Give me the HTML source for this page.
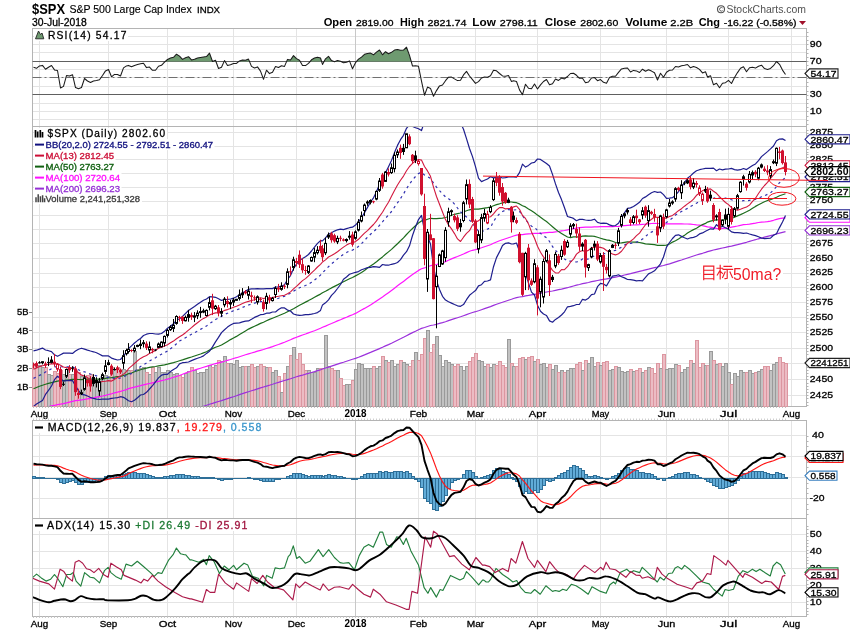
<!DOCTYPE html>
<html><head><meta charset="utf-8"><title>$SPX StockCharts</title>
<style>html,body{margin:0;padding:0;background:#fff;width:850px;height:633px;overflow:hidden;font-family:"Liberation Sans",sans-serif}svg{display:block;will-change:transform}</style>
</head><body><svg width="850" height="633" viewBox="0 0 850 633" shape-rendering="auto"><text x="32" y="13.6" font-family='"Liberation Sans", sans-serif' font-size="14.8" font-weight="bold" textLength="33" lengthAdjust="spacingAndGlyphs">$SPX</text>
<text x="69.4" y="13.1" font-family='"Liberation Sans", sans-serif' font-size="10.6" stroke="#000" stroke-width="0.15" textLength="122.3" lengthAdjust="spacingAndGlyphs">S&amp;P 500 Large Cap Index</text>
<text x="197" y="13.1" font-family='"Liberation Sans", sans-serif' font-size="9.6" stroke="#000" stroke-width="0.3" textLength="23" lengthAdjust="spacingAndGlyphs">INDX</text>
<text x="32" y="25.7" font-family='"Liberation Sans", sans-serif' font-size="10.2" stroke="#000" stroke-width="0.3" textLength="54.7" lengthAdjust="spacingAndGlyphs">30-Jul-2018</text>
<text x="323.7" y="25.8" font-family='"Liberation Sans", sans-serif' font-size="10.3" font-weight="bold" textLength="28.5" lengthAdjust="spacingAndGlyphs">Open</text>
<text x="356" y="25.8" font-family='"Liberation Sans", sans-serif' font-size="9.4" stroke="#000" stroke-width="0.3" textLength="37.5" lengthAdjust="spacingAndGlyphs">2819.00</text>
<text x="400" y="25.8" font-family='"Liberation Sans", sans-serif' font-size="10.3" font-weight="bold" textLength="24" lengthAdjust="spacingAndGlyphs">High</text>
<text x="427.6" y="25.8" font-family='"Liberation Sans", sans-serif' font-size="9.4" stroke="#000" stroke-width="0.3" textLength="39" lengthAdjust="spacingAndGlyphs">2821.74</text>
<text x="472.3" y="25.8" font-family='"Liberation Sans", sans-serif' font-size="10.3" font-weight="bold" textLength="23.5" lengthAdjust="spacingAndGlyphs">Low</text>
<text x="499.8" y="25.8" font-family='"Liberation Sans", sans-serif' font-size="9.4" stroke="#000" stroke-width="0.3" textLength="38" lengthAdjust="spacingAndGlyphs">2798.11</text>
<text x="544.8" y="25.8" font-family='"Liberation Sans", sans-serif' font-size="10.3" font-weight="bold" textLength="31.5" lengthAdjust="spacingAndGlyphs">Close</text>
<text x="580.3" y="25.8" font-family='"Liberation Sans", sans-serif' font-size="9.4" stroke="#000" stroke-width="0.3" textLength="38" lengthAdjust="spacingAndGlyphs">2802.60</text>
<text x="625.3" y="25.8" font-family='"Liberation Sans", sans-serif' font-size="10.3" font-weight="bold" textLength="42" lengthAdjust="spacingAndGlyphs">Volume</text>
<text x="670.2" y="25.8" font-family='"Liberation Sans", sans-serif' font-size="9.4" stroke="#000" stroke-width="0.3" textLength="23" lengthAdjust="spacingAndGlyphs">2.2B</text>
<text x="698.7" y="25.8" font-family='"Liberation Sans", sans-serif' font-size="10.3" font-weight="bold" textLength="21.3" lengthAdjust="spacingAndGlyphs">Chg</text>
<text x="723.7" y="25.8" font-family='"Liberation Sans", sans-serif' font-size="9.4" stroke="#000" stroke-width="0.3" textLength="72.8" lengthAdjust="spacingAndGlyphs">-16.22 (-0.58%)</text>
<path d="M799,21 L806,21 L802.5,25 Z" fill="#a0102a"/>
<text x="726.5" y="12.8" font-family='"Liberation Sans", sans-serif' font-size="10.5" fill="#505050" textLength="79.5" lengthAdjust="spacingAndGlyphs">StockCharts.com</text>
<circle cx="721" cy="9.3" r="3.5" fill="none" stroke="#505050" stroke-width="1.1"/>
<path d="M722.6,8 A1.8,1.8 0 1 0 722.6,10.6" fill="none" stroke="#505050" stroke-width="0.9"/>
<line x1="32.5" y1="36.5" x2="806.5" y2="36.5" stroke="#e4e4e4"/>
<line x1="32.5" y1="44.5" x2="806.5" y2="44.5" stroke="#e4e4e4"/>
<line x1="32.5" y1="52.5" x2="806.5" y2="52.5" stroke="#e4e4e4"/>
<line x1="32.5" y1="61.5" x2="806.5" y2="61.5" stroke="#e4e4e4"/>
<line x1="32.5" y1="69.5" x2="806.5" y2="69.5" stroke="#e4e4e4"/>
<line x1="32.5" y1="77.5" x2="806.5" y2="77.5" stroke="#e4e4e4"/>
<line x1="32.5" y1="86.5" x2="806.5" y2="86.5" stroke="#e4e4e4"/>
<line x1="32.5" y1="94.5" x2="806.5" y2="94.5" stroke="#e4e4e4"/>
<line x1="32.5" y1="103.5" x2="806.5" y2="103.5" stroke="#e4e4e4"/>
<line x1="32.5" y1="111.5" x2="806.5" y2="111.5" stroke="#e4e4e4"/>
<line x1="32.5" y1="119.5" x2="806.5" y2="119.5" stroke="#e4e4e4"/>
<line x1="39.5" y1="28.5" x2="39.5" y2="126.5" stroke="#e4e4e4"/>
<line x1="108.5" y1="28.5" x2="108.5" y2="126.5" stroke="#e4e4e4"/>
<line x1="167.5" y1="28.5" x2="167.5" y2="126.5" stroke="#e4e4e4"/>
<line x1="233.5" y1="28.5" x2="233.5" y2="126.5" stroke="#e4e4e4"/>
<line x1="296.5" y1="28.5" x2="296.5" y2="126.5" stroke="#e4e4e4"/>
<line x1="355.5" y1="28.5" x2="355.5" y2="126.5" stroke="#c8c8c8"/>
<line x1="418.5" y1="28.5" x2="418.5" y2="126.5" stroke="#e4e4e4"/>
<line x1="475.5" y1="28.5" x2="475.5" y2="126.5" stroke="#e4e4e4"/>
<line x1="537.5" y1="28.5" x2="537.5" y2="126.5" stroke="#e4e4e4"/>
<line x1="600.5" y1="28.5" x2="600.5" y2="126.5" stroke="#e4e4e4"/>
<line x1="666.5" y1="28.5" x2="666.5" y2="126.5" stroke="#e4e4e4"/>
<line x1="728.5" y1="28.5" x2="728.5" y2="126.5" stroke="#e4e4e4"/>
<line x1="791.5" y1="28.5" x2="791.5" y2="126.5" stroke="#e4e4e4"/>
<rect x="32.5" y="28.5" width="774.0" height="98.0" fill="none" stroke="#b4b4b4"/>
<path d="M806,32.5 h2.5 M806,36.5 h2.5 M806,40.5 h2.5 M806,44.5 h2.5 M806,49.5 h2.5 M806,53.5 h2.5 M806,57.5 h2.5 M806,61.5 h2.5 M806,65.5 h2.5 M806,70.5 h2.5 M806,74.5 h2.5 M806,78.5 h2.5 M806,82.5 h2.5 M806,86.5 h2.5 M806,91.5 h2.5 M806,95.5 h2.5 M806,99.5 h2.5 M806,103.5 h2.5 M806,107.5 h2.5 M806,111.5 h2.5 M806,116.5 h2.5 M806,120.5 h2.5 M806,124.5 h2.5 " stroke="#b4b4b4"/>
<line x1="32.5" y1="61.5" x2="806.5" y2="61.5" stroke="#606060"/>
<line x1="32.5" y1="94.5" x2="806.5" y2="94.5" stroke="#606060"/>
<line x1="32.5" y1="77.5" x2="806.5" y2="77.5" stroke="#707070" stroke-dasharray="9,3,2,3"/>
<path d="M165.3,61.5 L167.5,59.5 L170.5,58.1 L173.5,57.3 L176.5,54.2 L179.5,56.1 L182.5,59.4 L185.5,57.8 L188.5,56.7 L191.5,59.9 L194.5,59.2 L197.5,57.9 L200.5,57.4 L203.5,56.9 L206.5,56.6 L209.5,53.1 L212.5,61.5 L215.5,60.2 L216,61.5 Z" fill="#6e9a70"/>
<path d="M224.1,61.5 L224.5,60.6 L225,61.5 Z" fill="#6e9a70"/>
<path d="M238.7,61.5 L239.5,60.9 L242.5,59.9 L245.5,60.3 L248.5,59.1 L249.5,61.5 Z" fill="#6e9a70"/>
<path d="M286.6,61.5 L287.5,59.4 L290.5,60 L293.5,55.6 L296.5,58.6 L299.5,60.2 L300.3,61.5 Z" fill="#6e9a70"/>
<path d="M310.1,61.5 L311.5,59.8 L314.5,58 L317.5,57.2 L320.5,58 L321.6,61.5 Z" fill="#6e9a70"/>
<path d="M324,61.5 L325.5,58.8 L328.5,56.3 L331.5,60.6 L333.9,61.5 Z" fill="#6e9a70"/>
<path d="M335,61.5 L337.5,60.5 L340.5,61.2 L341.1,61.5 Z" fill="#6e9a70"/>
<path d="M348.1,61.5 L349.5,60.9 L349.7,61.5 Z" fill="#6e9a70"/>
<path d="M356.5,61.5 L358.5,59.1 L361.5,57.1 L364.5,54.3 L367.5,53.6 L370.5,53.1 L373.5,54.8 L376.5,52.1 L379.5,50 L382.5,54.8 L385.5,51.7 L388.5,53.8 L391.5,52.3 L394.5,50.1 L397.5,49.6 L400.5,50.3 L403.5,50.1 L406.5,47.2 L409.5,55.4 L411.2,61.5 Z" fill="#6e9a70"/>
<path d="M776.5,61.5 L776.5,61.5 L776.5,61.5 Z" fill="#6e9a70"/>
<path d="M33.5,67.2 L36.5,68.3 L39.5,65.9 L42.5,65.4 L45.5,69.3 L48.5,67.2 L51.5,65.5 L54.5,69.9 L57.5,70.5 L60.5,88 L63.5,86.4 L66.5,75.6 L69.5,76.1 L72.5,74.7 L75.5,87.6 L78.5,88.7 L81.5,87.5 L84.5,78.5 L87.5,81 L90.5,82.5 L93.5,81 L96.5,80.6 L99.5,79.8 L102.5,75.5 L105.5,70.9 L108.5,69.5 L111.5,76.8 L114.5,74.4 L117.5,74.5 L120.5,76 L123.5,67.9 L126.5,65.9 L128.5,65.4 L131.5,66.7 L134.5,65.4 L137.5,64.5 L140.5,63.7 L143.5,63.3 L146.5,67.6 L149.5,67.1 L152.5,70.3 L155.5,70.2 L158.5,66.3 L161.5,65.3 L164.5,62.2 L167.5,59.5 L170.5,58.1 L173.5,57.3 L176.5,54.2 L179.5,56.1 L182.5,59.4 L185.5,57.8 L188.5,56.7 L191.5,59.9 L194.5,59.2 L197.5,57.9 L200.5,57.4 L203.5,56.9 L206.5,56.6 L209.5,53.1 L212.5,61.5 L215.5,60.2 L218.5,68.5 L221.5,67.2 L224.5,60.6 L227.5,65.5 L230.5,64.8 L233.5,63.5 L236.5,63.4 L239.5,60.9 L242.5,59.9 L245.5,60.3 L248.5,59.1 L251.5,66.4 L254.5,68 L257.5,66.9 L260.5,71.1 L263.5,79.3 L266.5,70.2 L269.5,73.6 L272.5,72.3 L275.5,66.5 L278.5,67.5 L281.5,65.8 L284.5,66.4 L287.5,59.4 L290.5,60 L293.5,55.6 L296.5,58.6 L299.5,60.2 L302.5,65.4 L305.5,65.6 L308.5,63.4 L311.5,59.8 L314.5,58 L317.5,57.2 L320.5,58 L322.5,64.4 L325.5,58.8 L328.5,56.3 L331.5,60.6 L334.5,61.7 L337.5,60.5 L340.5,61.2 L343.5,62.8 L346.5,62.2 L349.5,60.9 L352.5,68.8 L355.5,62.7 L358.5,59.1 L361.5,57.1 L364.5,54.3 L367.5,53.6 L370.5,53.1 L373.5,54.8 L376.5,52.1 L379.5,50 L382.5,54.8 L385.5,51.7 L388.5,53.8 L391.5,52.3 L394.5,50.1 L397.5,49.6 L400.5,50.3 L403.5,50.1 L406.5,47.2 L409.5,55.4 L412.5,66 L415.5,65.7 L418.5,66.3 L421.5,81.2 L424.5,95.2 L427.5,87.1 L430.5,88.4 L433.5,96.3 L436.5,90.6 L439.5,85.9 L442.5,85 L445.5,80.7 L448.5,77.2 L451.5,77.1 L454.5,78.9 L457.5,80.6 L460.5,80.3 L463.5,74.9 L466.5,71.4 L469.5,76 L472.5,79.6 L475.5,83.4 L478.5,81.6 L481.5,78 L484.5,77.1 L487.5,77.3 L490.5,75.7 L493.5,70.2 L496.5,70.8 L499.5,73.5 L502.5,75.9 L505.5,76.2 L508.5,75.5 L511.5,81.4 L513.5,80.8 L516.5,81.5 L519.5,89.9 L522.5,94.7 L525.5,84.2 L528.5,88.2 L531.5,88.8 L534.5,84 L537.5,89 L540.5,84.9 L543.5,81.5 L546.5,79.5 L549.5,84.8 L552.5,83.8 L555.5,79 L558.5,80.4 L561.5,78.1 L564.5,78.9 L567.5,76.5 L570.5,73.5 L573.5,73.2 L576.5,75.3 L579.5,78.3 L582.5,78.3 L585.5,82.7 L588.5,82 L591.5,78 L594.5,77.6 L597.5,80.7 L600.5,79.6 L603.5,82.3 L606.5,83.2 L609.5,77.6 L612.5,76.2 L615.5,76.3 L618.5,72.4 L621.5,68.9 L624.5,68.3 L627.5,68 L630.5,72 L633.5,70.4 L636.5,70.9 L639.5,72.5 L642.5,69.2 L645.5,71.2 L648.5,69.7 L651.5,71.1 L654.5,72.8 L657.5,80 L660.5,73.3 L663.5,77.2 L666.5,72.2 L669.5,70.3 L672.5,70 L675.5,66.5 L678.5,67 L681.5,65.7 L684.5,65.2 L687.5,64.5 L690.5,67.8 L693.5,66.6 L696.5,67.5 L699.5,69.4 L702.5,72.9 L705.5,71.8 L707.5,77 L710.5,75.7 L713.5,84.8 L716.5,83.2 L719.5,87.8 L722.5,83.2 L725.5,82.7 L728.5,80.4 L731.5,83.5 L734.5,77.5 L737.5,72.6 L740.5,68.3 L743.5,66.7 L746.5,71.8 L749.5,67.8 L752.5,67.3 L755.5,68.1 L758.5,66.2 L761.5,65.2 L764.5,68.6 L767.5,69.4 L770.5,68.4 L773.5,65.7 L776.5,61.5 L779.5,64.3 L782.5,70.1 L785.5,74.5" fill="none" stroke="#1a1a1a" stroke-width="1.05" stroke-linejoin="round"/>
<rect x="34" y="29" width="94" height="12" fill="#fff"/>
<path d="M35.5,38.8 L38.5,31 L40.5,34.5 L42,33 L43.8,38.8 Z" fill="#6e9a70" stroke="#222" stroke-width="0.9"/>
<text x='47.9' y='38.6' font-family='"Liberation Sans", sans-serif' font-size='10.3' stroke='#000' stroke-width='0.3' textLength='78.5' lengthAdjust='spacing'>RSI(14) 54.17</text>
<text x="809.8" y="46.9" font-family='"Liberation Sans", sans-serif' font-size="8.9" stroke="#000" stroke-width="0.3" textLength="11.8" lengthAdjust="spacingAndGlyphs">90</text>
<text x="809.8" y="63.6" font-family='"Liberation Sans", sans-serif' font-size="8.9" stroke="#000" stroke-width="0.3" textLength="11.8" lengthAdjust="spacingAndGlyphs">70</text>
<text x="809.8" y="97.1" font-family='"Liberation Sans", sans-serif' font-size="8.9" stroke="#000" stroke-width="0.3" textLength="11.8" lengthAdjust="spacingAndGlyphs">30</text>
<text x="809.8" y="113.8" font-family='"Liberation Sans", sans-serif' font-size="8.9" stroke="#000" stroke-width="0.3" textLength="11.8" lengthAdjust="spacingAndGlyphs">10</text>
<path d="M805,73.5 L809.5,68.9 L838,68.9 L838,78.1 L809.5,78.1 Z" fill="#fff" stroke="#222" stroke-width="1.1"/>
<text x="810.5" y="76.8" font-family='"Liberation Sans", sans-serif' font-size="8.9" stroke="#000" stroke-width="0.3" textLength="26" lengthAdjust="spacingAndGlyphs">54.17</text>
<line x1="32.5" y1="132.5" x2="806.5" y2="132.5" stroke="#e4e4e4"/>
<line x1="32.5" y1="146.5" x2="806.5" y2="146.5" stroke="#e4e4e4"/>
<line x1="32.5" y1="159.5" x2="806.5" y2="159.5" stroke="#e4e4e4"/>
<line x1="32.5" y1="173.5" x2="806.5" y2="173.5" stroke="#e4e4e4"/>
<line x1="32.5" y1="187.5" x2="806.5" y2="187.5" stroke="#e4e4e4"/>
<line x1="32.5" y1="201.5" x2="806.5" y2="201.5" stroke="#e4e4e4"/>
<line x1="32.5" y1="215.5" x2="806.5" y2="215.5" stroke="#e4e4e4"/>
<line x1="32.5" y1="229.5" x2="806.5" y2="229.5" stroke="#e4e4e4"/>
<line x1="32.5" y1="243.5" x2="806.5" y2="243.5" stroke="#e4e4e4"/>
<line x1="32.5" y1="258.5" x2="806.5" y2="258.5" stroke="#e4e4e4"/>
<line x1="32.5" y1="273.5" x2="806.5" y2="273.5" stroke="#e4e4e4"/>
<line x1="32.5" y1="287.5" x2="806.5" y2="287.5" stroke="#e4e4e4"/>
<line x1="32.5" y1="302.5" x2="806.5" y2="302.5" stroke="#e4e4e4"/>
<line x1="32.5" y1="317.5" x2="806.5" y2="317.5" stroke="#e4e4e4"/>
<line x1="32.5" y1="332.5" x2="806.5" y2="332.5" stroke="#e4e4e4"/>
<line x1="32.5" y1="348.5" x2="806.5" y2="348.5" stroke="#e4e4e4"/>
<line x1="32.5" y1="363.5" x2="806.5" y2="363.5" stroke="#e4e4e4"/>
<line x1="32.5" y1="379.5" x2="806.5" y2="379.5" stroke="#e4e4e4"/>
<line x1="32.5" y1="395.5" x2="806.5" y2="395.5" stroke="#e4e4e4"/>
<line x1="39.5" y1="126.5" x2="39.5" y2="406.5" stroke="#e4e4e4"/>
<line x1="108.5" y1="126.5" x2="108.5" y2="406.5" stroke="#e4e4e4"/>
<line x1="167.5" y1="126.5" x2="167.5" y2="406.5" stroke="#e4e4e4"/>
<line x1="233.5" y1="126.5" x2="233.5" y2="406.5" stroke="#e4e4e4"/>
<line x1="296.5" y1="126.5" x2="296.5" y2="406.5" stroke="#e4e4e4"/>
<line x1="355.5" y1="126.5" x2="355.5" y2="406.5" stroke="#c8c8c8"/>
<line x1="418.5" y1="126.5" x2="418.5" y2="406.5" stroke="#e4e4e4"/>
<line x1="475.5" y1="126.5" x2="475.5" y2="406.5" stroke="#e4e4e4"/>
<line x1="537.5" y1="126.5" x2="537.5" y2="406.5" stroke="#e4e4e4"/>
<line x1="600.5" y1="126.5" x2="600.5" y2="406.5" stroke="#e4e4e4"/>
<line x1="666.5" y1="126.5" x2="666.5" y2="406.5" stroke="#e4e4e4"/>
<line x1="728.5" y1="126.5" x2="728.5" y2="406.5" stroke="#e4e4e4"/>
<line x1="791.5" y1="126.5" x2="791.5" y2="406.5" stroke="#e4e4e4"/>
<rect x="32.5" y="126.5" width="774.0" height="280.0" fill="none" stroke="#b4b4b4"/>
<path d="M806,130.5 h2.5 M806,133.5 h2.5 M806,135.5 h2.5 M806,138.5 h2.5 M806,141.5 h2.5 M806,143.5 h2.5 M806,146.5 h2.5 M806,149.5 h2.5 M806,152.5 h2.5 M806,154.5 h2.5 M806,157.5 h2.5 M806,160.5 h2.5 M806,162.5 h2.5 M806,165.5 h2.5 M806,168.5 h2.5 M806,171.5 h2.5 M806,173.5 h2.5 M806,176.5 h2.5 M806,179.5 h2.5 M806,182.5 h2.5 M806,184.5 h2.5 M806,187.5 h2.5 M806,190.5 h2.5 M806,193.5 h2.5 M806,196.5 h2.5 M806,198.5 h2.5 M806,201.5 h2.5 M806,204.5 h2.5 M806,207.5 h2.5 M806,210.5 h2.5 M806,213.5 h2.5 M806,215.5 h2.5 M806,218.5 h2.5 M806,221.5 h2.5 M806,224.5 h2.5 M806,227.5 h2.5 M806,230.5 h2.5 M806,232.5 h2.5 M806,235.5 h2.5 M806,238.5 h2.5 M806,241.5 h2.5 M806,244.5 h2.5 M806,247.5 h2.5 M806,250.5 h2.5 M806,253.5 h2.5 M806,255.5 h2.5 M806,258.5 h2.5 M806,261.5 h2.5 M806,264.5 h2.5 M806,267.5 h2.5 M806,270.5 h2.5 M806,273.5 h2.5 M806,276.5 h2.5 M806,279.5 h2.5 M806,282.5 h2.5 M806,285.5 h2.5 M806,288.5 h2.5 M806,291.5 h2.5 M806,294.5 h2.5 M806,297.5 h2.5 M806,300.5 h2.5 M806,303.5 h2.5 M806,306.5 h2.5 M806,309.5 h2.5 M806,312.5 h2.5 M806,315.5 h2.5 M806,318.5 h2.5 M806,321.5 h2.5 M806,324.5 h2.5 M806,327.5 h2.5 M806,330.5 h2.5 M806,333.5 h2.5 M806,336.5 h2.5 M806,339.5 h2.5 M806,342.5 h2.5 M806,345.5 h2.5 M806,348.5 h2.5 M806,351.5 h2.5 M806,354.5 h2.5 M806,358.5 h2.5 M806,361.5 h2.5 M806,364.5 h2.5 M806,367.5 h2.5 M806,370.5 h2.5 M806,373.5 h2.5 M806,376.5 h2.5 M806,379.5 h2.5 M806,383.5 h2.5 M806,386.5 h2.5 M806,389.5 h2.5 M806,392.5 h2.5 M806,395.5 h2.5 M806,398.5 h2.5 M806,402.5 h2.5 M806,405.5 h2.5 " stroke="#b4b4b4"/>
<rect x="32.5" y="365.5" width="3" height="41" fill="#ecbcc4" stroke="#dc96a0"/>
<rect x="35.5" y="367.5" width="3" height="39" fill="#ecbcc4" stroke="#dc96a0"/>
<rect x="38.5" y="365.5" width="3" height="41" fill="#c2c2c2" stroke="#9a9a9a"/>
<rect x="41.5" y="367.5" width="3" height="39" fill="#c2c2c2" stroke="#9a9a9a"/>
<rect x="44.5" y="367.5" width="3" height="39" fill="#ecbcc4" stroke="#dc96a0"/>
<rect x="47.5" y="374.5" width="3" height="32" fill="#c2c2c2" stroke="#9a9a9a"/>
<rect x="50.5" y="375.5" width="3" height="31" fill="#c2c2c2" stroke="#9a9a9a"/>
<rect x="53.5" y="371.5" width="3" height="35" fill="#ecbcc4" stroke="#dc96a0"/>
<rect x="56.5" y="373.5" width="3" height="33" fill="#ecbcc4" stroke="#dc96a0"/>
<rect x="59.5" y="370.5" width="3" height="36" fill="#ecbcc4" stroke="#dc96a0"/>
<rect x="62.5" y="374.5" width="3" height="32" fill="#c2c2c2" stroke="#9a9a9a"/>
<rect x="65.5" y="370.5" width="3" height="36" fill="#c2c2c2" stroke="#9a9a9a"/>
<rect x="68.5" y="374.5" width="3" height="32" fill="#ecbcc4" stroke="#dc96a0"/>
<rect x="71.5" y="374.5" width="3" height="32" fill="#c2c2c2" stroke="#9a9a9a"/>
<rect x="74.5" y="370.5" width="3" height="36" fill="#ecbcc4" stroke="#dc96a0"/>
<rect x="77.5" y="372.5" width="3" height="34" fill="#ecbcc4" stroke="#dc96a0"/>
<rect x="80.5" y="376.5" width="3" height="30" fill="#c2c2c2" stroke="#9a9a9a"/>
<rect x="83.5" y="376.5" width="3" height="30" fill="#c2c2c2" stroke="#9a9a9a"/>
<rect x="86.5" y="375.5" width="3" height="31" fill="#ecbcc4" stroke="#dc96a0"/>
<rect x="89.5" y="374.5" width="3" height="32" fill="#ecbcc4" stroke="#dc96a0"/>
<rect x="92.5" y="380.5" width="3" height="26" fill="#c2c2c2" stroke="#9a9a9a"/>
<rect x="95.5" y="380.5" width="3" height="26" fill="#c2c2c2" stroke="#9a9a9a"/>
<rect x="98.5" y="379.5" width="3" height="27" fill="#c2c2c2" stroke="#9a9a9a"/>
<rect x="101.5" y="378.5" width="3" height="28" fill="#c2c2c2" stroke="#9a9a9a"/>
<rect x="104.5" y="375.5" width="3" height="31" fill="#c2c2c2" stroke="#9a9a9a"/>
<rect x="107.5" y="376.5" width="3" height="30" fill="#c2c2c2" stroke="#9a9a9a"/>
<rect x="110.5" y="367.5" width="3" height="39" fill="#ecbcc4" stroke="#dc96a0"/>
<rect x="113.5" y="370.5" width="3" height="36" fill="#c2c2c2" stroke="#9a9a9a"/>
<rect x="116.5" y="367.5" width="3" height="39" fill="#ecbcc4" stroke="#dc96a0"/>
<rect x="119.5" y="369.5" width="3" height="37" fill="#ecbcc4" stroke="#dc96a0"/>
<rect x="122.5" y="369.5" width="3" height="37" fill="#c2c2c2" stroke="#9a9a9a"/>
<rect x="125.5" y="370.5" width="3" height="36" fill="#c2c2c2" stroke="#9a9a9a"/>
<rect x="127.5" y="370.5" width="3" height="36" fill="#c2c2c2" stroke="#9a9a9a"/>
<rect x="130.5" y="370.5" width="3" height="36" fill="#ecbcc4" stroke="#dc96a0"/>
<rect x="133.5" y="351.5" width="3" height="55" fill="#c2c2c2" stroke="#9a9a9a"/>
<rect x="136.5" y="369.5" width="3" height="37" fill="#c2c2c2" stroke="#9a9a9a"/>
<rect x="139.5" y="368.5" width="3" height="38" fill="#c2c2c2" stroke="#9a9a9a"/>
<rect x="142.5" y="367.5" width="3" height="39" fill="#c2c2c2" stroke="#9a9a9a"/>
<rect x="145.5" y="372.5" width="3" height="34" fill="#ecbcc4" stroke="#dc96a0"/>
<rect x="148.5" y="374.5" width="3" height="32" fill="#c2c2c2" stroke="#9a9a9a"/>
<rect x="151.5" y="367.5" width="3" height="39" fill="#ecbcc4" stroke="#dc96a0"/>
<rect x="154.5" y="372.5" width="3" height="34" fill="#c2c2c2" stroke="#9a9a9a"/>
<rect x="157.5" y="367.5" width="3" height="39" fill="#c2c2c2" stroke="#9a9a9a"/>
<rect x="160.5" y="372.5" width="3" height="34" fill="#c2c2c2" stroke="#9a9a9a"/>
<rect x="163.5" y="372.5" width="3" height="34" fill="#c2c2c2" stroke="#9a9a9a"/>
<rect x="166.5" y="370.5" width="3" height="36" fill="#c2c2c2" stroke="#9a9a9a"/>
<rect x="169.5" y="372.5" width="3" height="34" fill="#c2c2c2" stroke="#9a9a9a"/>
<rect x="172.5" y="374.5" width="3" height="32" fill="#c2c2c2" stroke="#9a9a9a"/>
<rect x="175.5" y="373.5" width="3" height="33" fill="#c2c2c2" stroke="#9a9a9a"/>
<rect x="178.5" y="375.5" width="3" height="31" fill="#ecbcc4" stroke="#dc96a0"/>
<rect x="181.5" y="377.5" width="3" height="29" fill="#ecbcc4" stroke="#dc96a0"/>
<rect x="184.5" y="373.5" width="3" height="33" fill="#c2c2c2" stroke="#9a9a9a"/>
<rect x="187.5" y="371.5" width="3" height="35" fill="#c2c2c2" stroke="#9a9a9a"/>
<rect x="190.5" y="367.5" width="3" height="39" fill="#ecbcc4" stroke="#dc96a0"/>
<rect x="193.5" y="370.5" width="3" height="36" fill="#c2c2c2" stroke="#9a9a9a"/>
<rect x="196.5" y="373.5" width="3" height="33" fill="#c2c2c2" stroke="#9a9a9a"/>
<rect x="199.5" y="372.5" width="3" height="34" fill="#c2c2c2" stroke="#9a9a9a"/>
<rect x="202.5" y="372.5" width="3" height="34" fill="#c2c2c2" stroke="#9a9a9a"/>
<rect x="205.5" y="369.5" width="3" height="37" fill="#c2c2c2" stroke="#9a9a9a"/>
<rect x="208.5" y="365.5" width="3" height="41" fill="#c2c2c2" stroke="#9a9a9a"/>
<rect x="211.5" y="367.5" width="3" height="39" fill="#ecbcc4" stroke="#dc96a0"/>
<rect x="214.5" y="365.5" width="3" height="41" fill="#c2c2c2" stroke="#9a9a9a"/>
<rect x="217.5" y="360.5" width="3" height="46" fill="#ecbcc4" stroke="#dc96a0"/>
<rect x="220.5" y="361.5" width="3" height="45" fill="#c2c2c2" stroke="#9a9a9a"/>
<rect x="223.5" y="356.5" width="3" height="50" fill="#c2c2c2" stroke="#9a9a9a"/>
<rect x="226.5" y="363.5" width="3" height="43" fill="#ecbcc4" stroke="#dc96a0"/>
<rect x="229.5" y="363.5" width="3" height="43" fill="#c2c2c2" stroke="#9a9a9a"/>
<rect x="232.5" y="364.5" width="3" height="42" fill="#c2c2c2" stroke="#9a9a9a"/>
<rect x="235.5" y="360.5" width="3" height="46" fill="#c2c2c2" stroke="#9a9a9a"/>
<rect x="238.5" y="367.5" width="3" height="39" fill="#c2c2c2" stroke="#9a9a9a"/>
<rect x="241.5" y="366.5" width="3" height="40" fill="#c2c2c2" stroke="#9a9a9a"/>
<rect x="244.5" y="366.5" width="3" height="40" fill="#ecbcc4" stroke="#dc96a0"/>
<rect x="247.5" y="366.5" width="3" height="40" fill="#c2c2c2" stroke="#9a9a9a"/>
<rect x="250.5" y="364.5" width="3" height="42" fill="#ecbcc4" stroke="#dc96a0"/>
<rect x="253.5" y="367.5" width="3" height="39" fill="#ecbcc4" stroke="#dc96a0"/>
<rect x="256.5" y="366.5" width="3" height="40" fill="#c2c2c2" stroke="#9a9a9a"/>
<rect x="259.5" y="364.5" width="3" height="42" fill="#ecbcc4" stroke="#dc96a0"/>
<rect x="262.5" y="366.5" width="3" height="40" fill="#ecbcc4" stroke="#dc96a0"/>
<rect x="265.5" y="367.5" width="3" height="39" fill="#c2c2c2" stroke="#9a9a9a"/>
<rect x="268.5" y="367.5" width="3" height="39" fill="#ecbcc4" stroke="#dc96a0"/>
<rect x="271.5" y="372.5" width="3" height="34" fill="#c2c2c2" stroke="#9a9a9a"/>
<rect x="274.5" y="370.5" width="3" height="36" fill="#c2c2c2" stroke="#9a9a9a"/>
<rect x="277.5" y="376.5" width="3" height="30" fill="#ecbcc4" stroke="#dc96a0"/>
<rect x="280.5" y="392.5" width="3" height="14" fill="#c2c2c2" stroke="#9a9a9a"/>
<rect x="283.5" y="373.5" width="3" height="33" fill="#ecbcc4" stroke="#dc96a0"/>
<rect x="286.5" y="366.5" width="3" height="40" fill="#c2c2c2" stroke="#9a9a9a"/>
<rect x="289.5" y="355.5" width="3" height="51" fill="#ecbcc4" stroke="#dc96a0"/>
<rect x="292.5" y="347.5" width="3" height="59" fill="#c2c2c2" stroke="#9a9a9a"/>
<rect x="295.5" y="359.5" width="3" height="47" fill="#ecbcc4" stroke="#dc96a0"/>
<rect x="298.5" y="353.5" width="3" height="53" fill="#ecbcc4" stroke="#dc96a0"/>
<rect x="301.5" y="364.5" width="3" height="42" fill="#ecbcc4" stroke="#dc96a0"/>
<rect x="304.5" y="370.5" width="3" height="36" fill="#ecbcc4" stroke="#dc96a0"/>
<rect x="307.5" y="370.5" width="3" height="36" fill="#c2c2c2" stroke="#9a9a9a"/>
<rect x="310.5" y="372.5" width="3" height="34" fill="#c2c2c2" stroke="#9a9a9a"/>
<rect x="313.5" y="372.5" width="3" height="34" fill="#c2c2c2" stroke="#9a9a9a"/>
<rect x="316.5" y="368.5" width="3" height="38" fill="#c2c2c2" stroke="#9a9a9a"/>
<rect x="319.5" y="368.5" width="3" height="38" fill="#ecbcc4" stroke="#dc96a0"/>
<rect x="321.5" y="368.5" width="3" height="38" fill="#ecbcc4" stroke="#dc96a0"/>
<rect x="324.5" y="335.5" width="3" height="71" fill="#c2c2c2" stroke="#9a9a9a"/>
<rect x="327.5" y="366.5" width="3" height="40" fill="#c2c2c2" stroke="#9a9a9a"/>
<rect x="330.5" y="368.5" width="3" height="38" fill="#ecbcc4" stroke="#dc96a0"/>
<rect x="333.5" y="370.5" width="3" height="36" fill="#ecbcc4" stroke="#dc96a0"/>
<rect x="336.5" y="370.5" width="3" height="36" fill="#c2c2c2" stroke="#9a9a9a"/>
<rect x="339.5" y="378.5" width="3" height="28" fill="#ecbcc4" stroke="#dc96a0"/>
<rect x="342.5" y="385.5" width="3" height="21" fill="#ecbcc4" stroke="#dc96a0"/>
<rect x="345.5" y="384.5" width="3" height="22" fill="#c2c2c2" stroke="#9a9a9a"/>
<rect x="348.5" y="384.5" width="3" height="22" fill="#c2c2c2" stroke="#9a9a9a"/>
<rect x="351.5" y="380.5" width="3" height="26" fill="#ecbcc4" stroke="#dc96a0"/>
<rect x="354.5" y="369.5" width="3" height="37" fill="#c2c2c2" stroke="#9a9a9a"/>
<rect x="357.5" y="363.5" width="3" height="43" fill="#c2c2c2" stroke="#9a9a9a"/>
<rect x="360.5" y="364.5" width="3" height="42" fill="#c2c2c2" stroke="#9a9a9a"/>
<rect x="363.5" y="368.5" width="3" height="38" fill="#c2c2c2" stroke="#9a9a9a"/>
<rect x="366.5" y="368.5" width="3" height="38" fill="#c2c2c2" stroke="#9a9a9a"/>
<rect x="369.5" y="368.5" width="3" height="38" fill="#c2c2c2" stroke="#9a9a9a"/>
<rect x="372.5" y="366.5" width="3" height="40" fill="#ecbcc4" stroke="#dc96a0"/>
<rect x="375.5" y="368.5" width="3" height="38" fill="#c2c2c2" stroke="#9a9a9a"/>
<rect x="378.5" y="366.5" width="3" height="40" fill="#c2c2c2" stroke="#9a9a9a"/>
<rect x="381.5" y="356.5" width="3" height="50" fill="#ecbcc4" stroke="#dc96a0"/>
<rect x="384.5" y="360.5" width="3" height="46" fill="#c2c2c2" stroke="#9a9a9a"/>
<rect x="387.5" y="362.5" width="3" height="44" fill="#ecbcc4" stroke="#dc96a0"/>
<rect x="390.5" y="360.5" width="3" height="46" fill="#c2c2c2" stroke="#9a9a9a"/>
<rect x="393.5" y="366.5" width="3" height="40" fill="#c2c2c2" stroke="#9a9a9a"/>
<rect x="396.5" y="364.5" width="3" height="42" fill="#c2c2c2" stroke="#9a9a9a"/>
<rect x="399.5" y="360.5" width="3" height="46" fill="#ecbcc4" stroke="#dc96a0"/>
<rect x="402.5" y="362.5" width="3" height="44" fill="#c2c2c2" stroke="#9a9a9a"/>
<rect x="405.5" y="364.5" width="3" height="42" fill="#c2c2c2" stroke="#9a9a9a"/>
<rect x="408.5" y="366.5" width="3" height="40" fill="#ecbcc4" stroke="#dc96a0"/>
<rect x="411.5" y="360.5" width="3" height="46" fill="#ecbcc4" stroke="#dc96a0"/>
<rect x="414.5" y="352.5" width="3" height="54" fill="#c2c2c2" stroke="#9a9a9a"/>
<rect x="417.5" y="360.5" width="3" height="46" fill="#ecbcc4" stroke="#dc96a0"/>
<rect x="420.5" y="354.5" width="3" height="52" fill="#ecbcc4" stroke="#dc96a0"/>
<rect x="423.5" y="338.5" width="3" height="68" fill="#ecbcc4" stroke="#dc96a0"/>
<rect x="426.5" y="330.5" width="3" height="76" fill="#c2c2c2" stroke="#9a9a9a"/>
<rect x="429.5" y="352.5" width="3" height="54" fill="#ecbcc4" stroke="#dc96a0"/>
<rect x="432.5" y="344.5" width="3" height="62" fill="#ecbcc4" stroke="#dc96a0"/>
<rect x="435.5" y="336.5" width="3" height="70" fill="#c2c2c2" stroke="#9a9a9a"/>
<rect x="438.5" y="355.5" width="3" height="51" fill="#c2c2c2" stroke="#9a9a9a"/>
<rect x="441.5" y="366.5" width="3" height="40" fill="#c2c2c2" stroke="#9a9a9a"/>
<rect x="444.5" y="360.5" width="3" height="46" fill="#c2c2c2" stroke="#9a9a9a"/>
<rect x="447.5" y="362.5" width="3" height="44" fill="#c2c2c2" stroke="#9a9a9a"/>
<rect x="450.5" y="364.5" width="3" height="42" fill="#c2c2c2" stroke="#9a9a9a"/>
<rect x="453.5" y="366.5" width="3" height="40" fill="#ecbcc4" stroke="#dc96a0"/>
<rect x="456.5" y="364.5" width="3" height="42" fill="#ecbcc4" stroke="#dc96a0"/>
<rect x="459.5" y="366.5" width="3" height="40" fill="#c2c2c2" stroke="#9a9a9a"/>
<rect x="462.5" y="370.5" width="3" height="36" fill="#c2c2c2" stroke="#9a9a9a"/>
<rect x="465.5" y="366.5" width="3" height="40" fill="#c2c2c2" stroke="#9a9a9a"/>
<rect x="468.5" y="361.5" width="3" height="45" fill="#ecbcc4" stroke="#dc96a0"/>
<rect x="471.5" y="357.5" width="3" height="49" fill="#ecbcc4" stroke="#dc96a0"/>
<rect x="474.5" y="353.5" width="3" height="53" fill="#ecbcc4" stroke="#dc96a0"/>
<rect x="477.5" y="360.5" width="3" height="46" fill="#c2c2c2" stroke="#9a9a9a"/>
<rect x="480.5" y="361.5" width="3" height="45" fill="#c2c2c2" stroke="#9a9a9a"/>
<rect x="483.5" y="366.5" width="3" height="40" fill="#c2c2c2" stroke="#9a9a9a"/>
<rect x="486.5" y="364.5" width="3" height="42" fill="#ecbcc4" stroke="#dc96a0"/>
<rect x="489.5" y="367.5" width="3" height="39" fill="#c2c2c2" stroke="#9a9a9a"/>
<rect x="492.5" y="364.5" width="3" height="42" fill="#c2c2c2" stroke="#9a9a9a"/>
<rect x="495.5" y="365.5" width="3" height="41" fill="#ecbcc4" stroke="#dc96a0"/>
<rect x="498.5" y="361.5" width="3" height="45" fill="#ecbcc4" stroke="#dc96a0"/>
<rect x="501.5" y="365.5" width="3" height="41" fill="#ecbcc4" stroke="#dc96a0"/>
<rect x="504.5" y="367.5" width="3" height="39" fill="#ecbcc4" stroke="#dc96a0"/>
<rect x="507.5" y="339.5" width="3" height="67" fill="#c2c2c2" stroke="#9a9a9a"/>
<rect x="510.5" y="363.5" width="3" height="43" fill="#ecbcc4" stroke="#dc96a0"/>
<rect x="512.5" y="366.5" width="3" height="40" fill="#c2c2c2" stroke="#9a9a9a"/>
<rect x="515.5" y="366.5" width="3" height="40" fill="#ecbcc4" stroke="#dc96a0"/>
<rect x="518.5" y="358.5" width="3" height="48" fill="#ecbcc4" stroke="#dc96a0"/>
<rect x="521.5" y="357.5" width="3" height="49" fill="#ecbcc4" stroke="#dc96a0"/>
<rect x="524.5" y="359.5" width="3" height="47" fill="#c2c2c2" stroke="#9a9a9a"/>
<rect x="527.5" y="357.5" width="3" height="49" fill="#ecbcc4" stroke="#dc96a0"/>
<rect x="530.5" y="356.5" width="3" height="50" fill="#ecbcc4" stroke="#dc96a0"/>
<rect x="533.5" y="361.5" width="3" height="45" fill="#c2c2c2" stroke="#9a9a9a"/>
<rect x="536.5" y="359.5" width="3" height="47" fill="#ecbcc4" stroke="#dc96a0"/>
<rect x="539.5" y="364.5" width="3" height="42" fill="#c2c2c2" stroke="#9a9a9a"/>
<rect x="542.5" y="363.5" width="3" height="43" fill="#c2c2c2" stroke="#9a9a9a"/>
<rect x="545.5" y="367.5" width="3" height="39" fill="#c2c2c2" stroke="#9a9a9a"/>
<rect x="548.5" y="364.5" width="3" height="42" fill="#ecbcc4" stroke="#dc96a0"/>
<rect x="551.5" y="369.5" width="3" height="37" fill="#c2c2c2" stroke="#9a9a9a"/>
<rect x="554.5" y="365.5" width="3" height="41" fill="#c2c2c2" stroke="#9a9a9a"/>
<rect x="557.5" y="372.5" width="3" height="34" fill="#ecbcc4" stroke="#dc96a0"/>
<rect x="560.5" y="370.5" width="3" height="36" fill="#c2c2c2" stroke="#9a9a9a"/>
<rect x="563.5" y="372.5" width="3" height="34" fill="#ecbcc4" stroke="#dc96a0"/>
<rect x="566.5" y="370.5" width="3" height="36" fill="#c2c2c2" stroke="#9a9a9a"/>
<rect x="569.5" y="368.5" width="3" height="38" fill="#c2c2c2" stroke="#9a9a9a"/>
<rect x="572.5" y="368.5" width="3" height="38" fill="#c2c2c2" stroke="#9a9a9a"/>
<rect x="575.5" y="364.5" width="3" height="42" fill="#ecbcc4" stroke="#dc96a0"/>
<rect x="578.5" y="362.5" width="3" height="44" fill="#ecbcc4" stroke="#dc96a0"/>
<rect x="581.5" y="370.5" width="3" height="36" fill="#c2c2c2" stroke="#9a9a9a"/>
<rect x="584.5" y="360.5" width="3" height="46" fill="#ecbcc4" stroke="#dc96a0"/>
<rect x="587.5" y="363.5" width="3" height="43" fill="#c2c2c2" stroke="#9a9a9a"/>
<rect x="590.5" y="357.5" width="3" height="49" fill="#c2c2c2" stroke="#9a9a9a"/>
<rect x="593.5" y="366.5" width="3" height="40" fill="#c2c2c2" stroke="#9a9a9a"/>
<rect x="596.5" y="362.5" width="3" height="44" fill="#ecbcc4" stroke="#dc96a0"/>
<rect x="599.5" y="365.5" width="3" height="41" fill="#c2c2c2" stroke="#9a9a9a"/>
<rect x="602.5" y="362.5" width="3" height="44" fill="#ecbcc4" stroke="#dc96a0"/>
<rect x="605.5" y="361.5" width="3" height="45" fill="#ecbcc4" stroke="#dc96a0"/>
<rect x="608.5" y="370.5" width="3" height="36" fill="#c2c2c2" stroke="#9a9a9a"/>
<rect x="611.5" y="369.5" width="3" height="37" fill="#c2c2c2" stroke="#9a9a9a"/>
<rect x="614.5" y="366.5" width="3" height="40" fill="#ecbcc4" stroke="#dc96a0"/>
<rect x="617.5" y="367.5" width="3" height="39" fill="#c2c2c2" stroke="#9a9a9a"/>
<rect x="620.5" y="371.5" width="3" height="35" fill="#c2c2c2" stroke="#9a9a9a"/>
<rect x="623.5" y="372.5" width="3" height="34" fill="#c2c2c2" stroke="#9a9a9a"/>
<rect x="626.5" y="371.5" width="3" height="35" fill="#c2c2c2" stroke="#9a9a9a"/>
<rect x="629.5" y="369.5" width="3" height="37" fill="#ecbcc4" stroke="#dc96a0"/>
<rect x="632.5" y="371.5" width="3" height="35" fill="#c2c2c2" stroke="#9a9a9a"/>
<rect x="635.5" y="370.5" width="3" height="36" fill="#ecbcc4" stroke="#dc96a0"/>
<rect x="638.5" y="368.5" width="3" height="38" fill="#ecbcc4" stroke="#dc96a0"/>
<rect x="641.5" y="372.5" width="3" height="34" fill="#c2c2c2" stroke="#9a9a9a"/>
<rect x="644.5" y="370.5" width="3" height="36" fill="#ecbcc4" stroke="#dc96a0"/>
<rect x="647.5" y="367.5" width="3" height="39" fill="#c2c2c2" stroke="#9a9a9a"/>
<rect x="650.5" y="368.5" width="3" height="38" fill="#ecbcc4" stroke="#dc96a0"/>
<rect x="653.5" y="373.5" width="3" height="33" fill="#ecbcc4" stroke="#dc96a0"/>
<rect x="656.5" y="363.5" width="3" height="43" fill="#ecbcc4" stroke="#dc96a0"/>
<rect x="659.5" y="368.5" width="3" height="38" fill="#c2c2c2" stroke="#9a9a9a"/>
<rect x="662.5" y="354.5" width="3" height="52" fill="#ecbcc4" stroke="#dc96a0"/>
<rect x="665.5" y="369.5" width="3" height="37" fill="#c2c2c2" stroke="#9a9a9a"/>
<rect x="668.5" y="368.5" width="3" height="38" fill="#c2c2c2" stroke="#9a9a9a"/>
<rect x="671.5" y="368.5" width="3" height="38" fill="#c2c2c2" stroke="#9a9a9a"/>
<rect x="674.5" y="364.5" width="3" height="42" fill="#c2c2c2" stroke="#9a9a9a"/>
<rect x="677.5" y="365.5" width="3" height="41" fill="#ecbcc4" stroke="#dc96a0"/>
<rect x="680.5" y="372.5" width="3" height="34" fill="#c2c2c2" stroke="#9a9a9a"/>
<rect x="683.5" y="369.5" width="3" height="37" fill="#c2c2c2" stroke="#9a9a9a"/>
<rect x="686.5" y="367.5" width="3" height="39" fill="#c2c2c2" stroke="#9a9a9a"/>
<rect x="689.5" y="360.5" width="3" height="46" fill="#ecbcc4" stroke="#dc96a0"/>
<rect x="692.5" y="363.5" width="3" height="43" fill="#c2c2c2" stroke="#9a9a9a"/>
<rect x="695.5" y="340.5" width="3" height="66" fill="#ecbcc4" stroke="#dc96a0"/>
<rect x="698.5" y="367.5" width="3" height="39" fill="#ecbcc4" stroke="#dc96a0"/>
<rect x="701.5" y="363.5" width="3" height="43" fill="#ecbcc4" stroke="#dc96a0"/>
<rect x="704.5" y="365.5" width="3" height="41" fill="#c2c2c2" stroke="#9a9a9a"/>
<rect x="706.5" y="365.5" width="3" height="41" fill="#ecbcc4" stroke="#dc96a0"/>
<rect x="709.5" y="351.5" width="3" height="55" fill="#c2c2c2" stroke="#9a9a9a"/>
<rect x="712.5" y="360.5" width="3" height="46" fill="#ecbcc4" stroke="#dc96a0"/>
<rect x="715.5" y="364.5" width="3" height="42" fill="#c2c2c2" stroke="#9a9a9a"/>
<rect x="718.5" y="363.5" width="3" height="43" fill="#ecbcc4" stroke="#dc96a0"/>
<rect x="721.5" y="366.5" width="3" height="40" fill="#c2c2c2" stroke="#9a9a9a"/>
<rect x="724.5" y="363.5" width="3" height="43" fill="#c2c2c2" stroke="#9a9a9a"/>
<rect x="727.5" y="372.5" width="3" height="34" fill="#c2c2c2" stroke="#9a9a9a"/>
<rect x="730.5" y="384.5" width="3" height="22" fill="#ecbcc4" stroke="#dc96a0"/>
<rect x="733.5" y="373.5" width="3" height="33" fill="#c2c2c2" stroke="#9a9a9a"/>
<rect x="736.5" y="376.5" width="3" height="30" fill="#c2c2c2" stroke="#9a9a9a"/>
<rect x="739.5" y="370.5" width="3" height="36" fill="#c2c2c2" stroke="#9a9a9a"/>
<rect x="742.5" y="372.5" width="3" height="34" fill="#c2c2c2" stroke="#9a9a9a"/>
<rect x="745.5" y="372.5" width="3" height="34" fill="#ecbcc4" stroke="#dc96a0"/>
<rect x="748.5" y="370.5" width="3" height="36" fill="#c2c2c2" stroke="#9a9a9a"/>
<rect x="751.5" y="373.5" width="3" height="33" fill="#c2c2c2" stroke="#9a9a9a"/>
<rect x="754.5" y="372.5" width="3" height="34" fill="#ecbcc4" stroke="#dc96a0"/>
<rect x="757.5" y="371.5" width="3" height="35" fill="#c2c2c2" stroke="#9a9a9a"/>
<rect x="760.5" y="369.5" width="3" height="37" fill="#c2c2c2" stroke="#9a9a9a"/>
<rect x="763.5" y="366.5" width="3" height="40" fill="#ecbcc4" stroke="#dc96a0"/>
<rect x="766.5" y="366.5" width="3" height="40" fill="#ecbcc4" stroke="#dc96a0"/>
<rect x="769.5" y="370.5" width="3" height="36" fill="#c2c2c2" stroke="#9a9a9a"/>
<rect x="772.5" y="364.5" width="3" height="42" fill="#c2c2c2" stroke="#9a9a9a"/>
<rect x="775.5" y="362.5" width="3" height="44" fill="#c2c2c2" stroke="#9a9a9a"/>
<rect x="778.5" y="357.5" width="3" height="49" fill="#ecbcc4" stroke="#dc96a0"/>
<rect x="781.5" y="362.5" width="3" height="44" fill="#ecbcc4" stroke="#dc96a0"/>
<rect x="784.5" y="363.5" width="3" height="43" fill="#ecbcc4" stroke="#dc96a0"/>
<clipPath id="mc"><rect x="33" y="127" width="773" height="279"/></clipPath>
<g clip-path="url(#mc)">
<path d="M33.5,462.1 L36.5,461 L39.5,459.9 L42.5,458.8 L45.5,457.6 L48.5,456.5 L51.5,455.4 L54.5,454.3 L57.5,453.2 L60.5,452.2 L63.5,451.2 L66.5,450.2 L69.5,449 L72.5,447.9 L75.5,446.9 L78.5,445.9 L81.5,444.8 L84.5,443.6 L87.5,442.4 L90.5,441.4 L93.5,440.4 L96.5,439.5 L99.5,438.6 L102.5,437.6 L105.5,436.6 L108.5,435.7 L111.5,434.7 L114.5,433.8 L117.5,432.9 L120.5,432 L123.5,431.1 L126.5,430.2 L128.5,429.2 L131.5,428.3 L134.5,427.3 L137.5,426.3 L140.5,425.3 L143.5,424.3 L146.5,423.3 L149.5,422.4 L152.5,421.6 L155.5,420.7 L158.5,419.9 L161.5,419.1 L164.5,418.3 L167.5,417.4 L170.5,416.6 L173.5,415.7 L176.5,414.7 L179.5,413.8 L182.5,412.9 L185.5,412 L188.5,411.1 L191.5,410.2 L194.5,409.2 L197.5,408.2 L200.5,407.2 L203.5,406.2 L206.5,405.3 L209.5,404.3 L212.5,403.4 L215.5,402.4 L218.5,401.5 L221.5,400.6 L224.5,399.6 L227.5,398.6 L230.5,397.6 L233.5,396.7 L236.5,395.7 L239.5,394.6 L242.5,393.6 L245.5,392.6 L248.5,391.7 L251.5,390.8 L254.5,389.9 L257.5,388.9 L260.5,387.9 L263.5,387 L266.5,386.1 L269.5,385.2 L272.5,384.3 L275.5,383.3 L278.5,382.4 L281.5,381.4 L284.5,380.5 L287.5,379.6 L290.5,378.7 L293.5,377.7 L296.5,376.8 L299.5,375.9 L302.5,375.1 L305.5,374.2 L308.5,373.4 L311.5,372.5 L314.5,371.6 L317.5,370.6 L320.5,369.8 L322.5,369 L325.5,368 L328.5,367.1 L331.5,366.1 L334.5,365.1 L337.5,364.1 L340.5,363.1 L343.5,362.2 L346.5,361.2 L349.5,360.2 L352.5,359.3 L355.5,358.4 L358.5,357.3 L361.5,356.1 L364.5,354.9 L367.5,353.6 L370.5,352.4 L373.5,351.1 L376.5,349.9 L379.5,348.6 L382.5,347.3 L385.5,345.9 L388.5,344.6 L391.5,343.2 L394.5,341.7 L397.5,340.2 L400.5,338.8 L403.5,337.3 L406.5,335.7 L409.5,334.1 L412.5,332.6 L415.5,331.2 L418.5,329.7 L421.5,328.4 L424.5,327.5 L427.5,326.5 L430.5,325.5 L433.5,325 L436.5,324.3 L439.5,323.4 L442.5,322.6 L445.5,321.7 L448.5,320.6 L451.5,319.6 L454.5,318.6 L457.5,317.7 L460.5,316.8 L463.5,315.7 L466.5,314.6 L469.5,313.5 L472.5,312.5 L475.5,311.7 L478.5,310.8 L481.5,309.7 L484.5,308.6 L487.5,307.6 L490.5,306.6 L493.5,305.4 L496.5,304.3 L499.5,303.2 L502.5,302.2 L505.5,301.2 L508.5,300.2 L511.5,299.3 L513.5,298.5 L516.5,297.7 L519.5,297 L522.5,296.6 L525.5,295.9 L528.5,295.4 L531.5,294.8 L534.5,294.3 L537.5,293.8 L540.5,293.3 L543.5,292.7 L546.5,292 L549.5,291.5 L552.5,291 L555.5,290.3 L558.5,289.7 L561.5,289.1 L564.5,288.4 L567.5,287.7 L570.5,286.8 L573.5,286 L576.5,285.2 L579.5,284.5 L582.5,283.7 L585.5,283.1 L588.5,282.5 L591.5,281.7 L594.5,281.1 L597.5,280.5 L600.5,279.9 L603.5,279.4 L606.5,278.9 L609.5,278.3 L612.5,277.7 L615.5,277.2 L618.5,276.5 L621.5,275.8 L624.5,275 L627.5,274.3 L630.5,273.6 L633.5,272.8 L636.5,272.1 L639.5,271.4 L642.5,270.7 L645.5,269.9 L648.5,269.2 L651.5,268.4 L654.5,267.7 L657.5,267 L660.5,266.2 L663.5,265.5 L666.5,264.7 L669.5,263.9 L672.5,262.9 L675.5,261.9 L678.5,260.9 L681.5,260 L684.5,259 L687.5,258 L690.5,257 L693.5,256 L696.5,255 L699.5,254.1 L702.5,253.3 L705.5,252.4 L707.5,251.6 L710.5,250.8 L713.5,250 L716.5,249.3 L719.5,248.7 L722.5,248 L725.5,247.4 L728.5,246.7 L731.5,246.1 L734.5,245.4 L737.5,244.7 L740.5,243.9 L743.5,243.1 L746.5,242.3 L749.5,241.4 L752.5,240.5 L755.5,239.7 L758.5,238.8 L761.5,238 L764.5,237.2 L767.5,236.4 L770.5,235.6 L773.5,234.9 L776.5,234 L779.5,233.2 L782.5,232.4 L785.5,231.7" fill="none" stroke="#9b30dc" stroke-width="1.2" stroke-linejoin="round" />
<path d="M33.5,409.9 L36.5,409.2 L39.5,408.5 L42.5,407.8 L45.5,407.2 L48.5,406.5 L51.5,405.9 L54.5,405.3 L57.5,404.7 L60.5,404.2 L63.5,403.6 L66.5,402.9 L69.5,402.1 L72.5,401.3 L75.5,400.7 L78.5,400.3 L81.5,399.9 L84.5,399.4 L87.5,398.8 L90.5,398.3 L93.5,397.8 L96.5,397.2 L99.5,396.6 L102.5,396 L105.5,395.3 L108.5,394.5 L111.5,393.8 L114.5,392.9 L117.5,392.2 L120.5,391.4 L123.5,390.5 L126.5,389.6 L128.5,388.6 L131.5,387.8 L134.5,387.1 L137.5,386.4 L140.5,385.7 L143.5,384.9 L146.5,384.2 L149.5,383.5 L152.5,382.8 L155.5,382.1 L158.5,381.4 L161.5,380.7 L164.5,380 L167.5,379.1 L170.5,378.3 L173.5,377.3 L176.5,376.4 L179.5,375.5 L182.5,374.3 L185.5,373.1 L188.5,372 L191.5,371 L194.5,370.1 L197.5,369.1 L200.5,368.2 L203.5,367.3 L206.5,366.4 L209.5,365.4 L212.5,364.5 L215.5,363.7 L218.5,362.9 L221.5,362.1 L224.5,361.2 L227.5,360.3 L230.5,359.5 L233.5,358.5 L236.5,357.7 L239.5,356.7 L242.5,355.7 L245.5,354.8 L248.5,353.9 L251.5,353 L254.5,352.1 L257.5,351.1 L260.5,350.3 L263.5,349.5 L266.5,348.5 L269.5,347.6 L272.5,346.6 L275.5,345.5 L278.5,344.5 L281.5,343.4 L284.5,342.3 L287.5,341 L290.5,339.8 L293.5,338.4 L296.5,337.2 L299.5,336.1 L302.5,335 L305.5,334 L308.5,332.9 L311.5,331.8 L314.5,330.7 L317.5,329.5 L320.5,328.3 L322.5,327.3 L325.5,326.1 L328.5,324.7 L331.5,323.5 L334.5,322.2 L337.5,320.9 L340.5,319.7 L343.5,318.4 L346.5,317.2 L349.5,315.9 L352.5,314.7 L355.5,313.4 L358.5,311.7 L361.5,310 L364.5,308.4 L367.5,306.7 L370.5,305 L373.5,303.1 L376.5,301 L379.5,298.9 L382.5,296.9 L385.5,294.8 L388.5,292.7 L391.5,290.5 L394.5,288.2 L397.5,285.8 L400.5,283.6 L403.5,281.4 L406.5,279.1 L409.5,276.7 L412.5,274.6 L415.5,272.5 L418.5,270.4 L421.5,268.8 L424.5,267.9 L427.5,266.8 L430.5,265.7 L433.5,265.2 L436.5,264.5 L439.5,263.6 L442.5,262.7 L445.5,261.6 L448.5,260.2 L451.5,258.9 L454.5,257.6 L457.5,256.5 L460.5,255.3 L463.5,254 L466.5,252.6 L469.5,251.3 L472.5,250.3 L475.5,249.6 L478.5,248.8 L481.5,247.8 L484.5,246.7 L487.5,245.7 L490.5,244.7 L493.5,243.3 L496.5,242 L499.5,240.8 L502.5,239.7 L505.5,238.7 L508.5,237.7 L511.5,236.8 L513.5,236 L516.5,235.1 L519.5,234.6 L522.5,234.6 L525.5,234.1 L528.5,233.9 L531.5,233.7 L534.5,233.4 L537.5,233.4 L540.5,233.3 L543.5,232.9 L546.5,232.6 L549.5,232.4 L552.5,232.3 L555.5,231.9 L558.5,231.5 L561.5,230.9 L564.5,230.5 L567.5,229.9 L570.5,229.2 L573.5,228.6 L576.5,228.1 L579.5,227.7 L582.5,227.3 L585.5,227.2 L588.5,227.2 L591.5,227.1 L594.5,226.9 L597.5,226.8 L600.5,226.7 L603.5,226.7 L606.5,226.7 L609.5,226.6 L612.5,226.6 L615.5,226.5 L618.5,226.3 L621.5,225.9 L624.5,225.6 L627.5,225.4 L630.5,225.2 L633.5,225 L636.5,224.8 L639.5,224.6 L642.5,224.3 L645.5,224.1 L648.5,223.8 L651.5,223.5 L654.5,223.4 L657.5,223.5 L660.5,223.5 L663.5,223.7 L666.5,223.8 L669.5,223.8 L672.5,223.8 L675.5,223.8 L678.5,223.9 L681.5,223.8 L684.5,224 L687.5,224 L690.5,224.2 L693.5,224.5 L696.5,224.9 L699.5,225.2 L702.5,225.7 L705.5,226.3 L707.5,226.8 L710.5,227.2 L713.5,227.8 L716.5,228.4 L719.5,228.8 L722.5,228.4 L725.5,228.2 L728.5,228 L731.5,227.2 L734.5,226.6 L737.5,226 L740.5,225.3 L743.5,224.7 L746.5,224.5 L749.5,224.1 L752.5,223.6 L755.5,223.1 L758.5,222.5 L761.5,222.1 L764.5,222 L767.5,221.6 L770.5,221.1 L773.5,220.3 L776.5,219.4 L779.5,218.7 L782.5,218.2 L785.5,217.8" fill="none" stroke="#ff14ff" stroke-width="1.2" stroke-linejoin="round" />
<path d="M33.5,388.8 L36.5,387.5 L39.5,386.3 L42.5,385.3 L45.5,384.3 L48.5,383.4 L51.5,382.6 L54.5,381.8 L57.5,381.1 L60.5,380.7 L63.5,380.6 L66.5,380.2 L69.5,379.9 L72.5,379.4 L75.5,379.4 L78.5,379.5 L81.5,379.6 L84.5,379.3 L87.5,379.2 L90.5,379.2 L93.5,379.1 L96.5,379 L99.5,379.1 L102.5,378.8 L105.5,378.3 L108.5,377.8 L111.5,377.6 L114.5,377.2 L117.5,376.7 L120.5,376.4 L123.5,375.5 L126.5,374.6 L128.5,373.7 L131.5,373 L134.5,371.8 L137.5,370.8 L140.5,369.8 L143.5,368.8 L146.5,368.1 L149.5,367.4 L152.5,366.9 L155.5,366.5 L158.5,365.9 L161.5,365.4 L164.5,364.9 L167.5,364.2 L170.5,363.4 L173.5,362.6 L176.5,361.7 L179.5,360.8 L182.5,359.9 L185.5,358.9 L188.5,357.9 L191.5,357 L194.5,356 L197.5,355 L200.5,354 L203.5,352.9 L206.5,351.8 L209.5,350.1 L212.5,348.6 L215.5,347.3 L218.5,346.2 L221.5,345 L224.5,343.2 L227.5,341.4 L230.5,339.6 L233.5,338 L236.5,336.4 L239.5,334.5 L242.5,332.7 L245.5,330.9 L248.5,329.1 L251.5,327.6 L254.5,326.2 L257.5,324.9 L260.5,323.4 L263.5,322.2 L266.5,320.8 L269.5,319.4 L272.5,318.2 L275.5,317 L278.5,315.8 L281.5,314.5 L284.5,313.3 L287.5,311.8 L290.5,310.3 L293.5,308.7 L296.5,307 L299.5,305.3 L302.5,303.7 L305.5,302.1 L308.5,300.6 L311.5,298.9 L314.5,297.2 L317.5,295.6 L320.5,294.1 L322.5,292.7 L325.5,291.2 L328.5,289.6 L331.5,287.9 L334.5,286.4 L337.5,284.9 L340.5,283.3 L343.5,281.8 L346.5,280.3 L349.5,278.8 L352.5,277.5 L355.5,275.9 L358.5,274.3 L361.5,272.4 L364.5,270.4 L367.5,268.1 L370.5,265.9 L373.5,263.9 L376.5,261.7 L379.5,259.2 L382.5,256.9 L385.5,254.3 L388.5,251.9 L391.5,249.4 L394.5,246.5 L397.5,243.7 L400.5,240.8 L403.5,237.9 L406.5,234.5 L409.5,231.4 L412.5,228.5 L415.5,225.7 L418.5,223 L421.5,220.9 L424.5,220.4 L427.5,219.2 L430.5,218.3 L433.5,218.6 L436.5,218.7 L439.5,218.3 L442.5,218.1 L445.5,217.5 L448.5,216.5 L451.5,215.3 L454.5,214.3 L457.5,213.6 L460.5,213 L463.5,212 L466.5,210.7 L469.5,209.8 L472.5,209.1 L475.5,209.1 L478.5,209.1 L481.5,208.6 L484.5,208.1 L487.5,207.6 L490.5,207 L493.5,205.8 L496.5,204.6 L499.5,203.8 L502.5,202.9 L505.5,202.3 L508.5,201.9 L511.5,202 L513.5,202.3 L516.5,202.7 L519.5,203.9 L522.5,205.7 L525.5,206.9 L528.5,208.9 L531.5,210.8 L534.5,212.7 L537.5,215.1 L540.5,217.3 L543.5,219.5 L546.5,221.5 L549.5,224.1 L552.5,226.7 L555.5,229.2 L558.5,231.6 L561.5,233.4 L564.5,235.3 L567.5,237 L570.5,237.6 L573.5,236.9 L576.5,236.9 L579.5,237.1 L582.5,236.1 L585.5,235.9 L588.5,236.1 L591.5,236 L594.5,236.4 L597.5,237.3 L600.5,238.2 L603.5,239.1 L606.5,239.9 L609.5,240.4 L612.5,241.3 L615.5,242.5 L618.5,243 L621.5,242.9 L624.5,242.4 L627.5,241.9 L630.5,242 L633.5,242.1 L636.5,242.2 L639.5,242.5 L642.5,243.1 L645.5,243.8 L648.5,244.1 L651.5,244.4 L654.5,244.7 L657.5,245.4 L660.5,245.3 L663.5,245.4 L666.5,245.1 L669.5,244 L672.5,242.1 L675.5,240.8 L678.5,239 L681.5,237 L684.5,235.4 L687.5,233 L690.5,231.2 L693.5,229.6 L696.5,228.3 L699.5,226.3 L702.5,224.6 L705.5,223.4 L707.5,222.1 L710.5,221.1 L713.5,220.4 L716.5,219.9 L719.5,220 L722.5,219.9 L725.5,219.6 L728.5,219 L731.5,218.5 L734.5,217.3 L737.5,215.9 L740.5,214.6 L743.5,213.2 L746.5,211.8 L749.5,210.2 L752.5,208.3 L755.5,206.4 L758.5,204.8 L761.5,203.2 L764.5,201.7 L767.5,200.5 L770.5,199.6 L773.5,198.5 L776.5,197.2 L779.5,195.8 L782.5,194.7 L785.5,193.8" fill="none" stroke="#1c6c1c" stroke-width="1.2" stroke-linejoin="round" />
<path d="M33.5,350.8 L36.5,350.2 L39.5,349.1 L42.5,348.1 L45.5,350 L48.5,350.7 L51.5,351.6 L54.5,354.8 L57.5,356.3 L60.5,354.7 L63.5,353.1 L66.5,353.2 L69.5,353.2 L72.5,353.4 L75.5,351.1 L78.5,349.2 L81.5,348.2 L84.5,349.1 L87.5,350.1 L90.5,351 L93.5,351.8 L96.5,352.7 L99.5,354.3 L102.5,355.9 L105.5,355.9 L108.5,355.9 L111.5,358.1 L114.5,359.1 L117.5,360 L120.5,359.5 L123.5,355.9 L126.5,352.2 L128.5,348.6 L131.5,345.9 L134.5,343 L137.5,340.6 L140.5,338.5 L143.5,335.5 L146.5,334.2 L149.5,333.5 L152.5,333.5 L155.5,334 L158.5,334.1 L161.5,333.5 L164.5,331.3 L167.5,328.2 L170.5,326.2 L173.5,323.8 L176.5,320.2 L179.5,318.7 L182.5,316.4 L185.5,313.5 L188.5,310.4 L191.5,308.4 L194.5,306.4 L197.5,304.2 L200.5,302.2 L203.5,300.2 L206.5,299 L209.5,296.7 L212.5,296.8 L215.5,297.3 L218.5,298.7 L221.5,300.4 L224.5,299.6 L227.5,299.4 L230.5,299 L233.5,298.2 L236.5,296.8 L239.5,294.7 L242.5,292.9 L245.5,291.3 L248.5,289.3 L251.5,288.9 L254.5,288.9 L257.5,288.6 L260.5,288.8 L263.5,288.9 L266.5,288.7 L269.5,288.6 L272.5,288.6 L275.5,287 L278.5,286.8 L281.5,286.2 L284.5,284.8 L287.5,279.5 L290.5,275.6 L293.5,268.7 L296.5,264.1 L299.5,260.6 L302.5,258.6 L305.5,256.8 L308.5,254.5 L311.5,251 L314.5,247.1 L317.5,243.4 L320.5,240.7 L322.5,240.9 L325.5,237.8 L328.5,234.2 L331.5,232.8 L334.5,231.1 L337.5,229.8 L340.5,229.1 L343.5,229.6 L346.5,228.6 L349.5,227.7 L352.5,227.2 L355.5,225.1 L358.5,221.6 L361.5,218 L364.5,212.6 L367.5,207.4 L370.5,202 L373.5,197.8 L376.5,191.8 L379.5,184.3 L382.5,180.2 L385.5,172.7 L388.5,166.7 L391.5,160.4 L394.5,152.6 L397.5,145.4 L400.5,139.7 L403.5,135.3 L406.5,128.3 L409.5,124.8 L412.5,126.4 L415.5,127.6 L418.5,128.7 L421.5,130.6 L424.5,121.3 L427.5,118.6 L430.5,115.4 L433.5,103.4 L436.5,98.8 L439.5,98 L442.5,97.9 L445.5,100 L448.5,102.1 L451.5,105 L454.5,110 L457.5,116.1 L460.5,122.8 L463.5,129.2 L466.5,138.6 L469.5,148.5 L472.5,156.6 L475.5,166.7 L478.5,178.2 L481.5,181.6 L484.5,180.3 L487.5,179 L490.5,176.8 L493.5,177.9 L496.5,177.4 L499.5,176.9 L502.5,178 L505.5,177.6 L508.5,176.8 L511.5,176.9 L513.5,176.9 L516.5,177.1 L519.5,172.6 L522.5,164.1 L525.5,167.1 L528.5,165.4 L531.5,163 L534.5,162.4 L537.5,159 L540.5,159.4 L543.5,161.4 L546.5,163.5 L549.5,166 L552.5,174.4 L555.5,183.9 L558.5,192.5 L561.5,199.6 L564.5,207.7 L567.5,216.5 L570.5,217.3 L573.5,218.4 L576.5,220.7 L579.5,219.4 L582.5,219.4 L585.5,220 L588.5,220.3 L591.5,220.1 L594.5,219.2 L597.5,222.4 L600.5,223.3 L603.5,223.2 L606.5,223.3 L609.5,224.9 L612.5,225.9 L615.5,225.5 L618.5,223.2 L621.5,217.9 L624.5,212.8 L627.5,208.3 L630.5,207.9 L633.5,206.5 L636.5,204.4 L639.5,202.3 L642.5,198.5 L645.5,196.9 L648.5,194.8 L651.5,192.8 L654.5,191.5 L657.5,192.4 L660.5,192 L663.5,194.6 L666.5,198.3 L669.5,198.1 L672.5,197.7 L675.5,195.2 L678.5,191.6 L681.5,186.9 L684.5,182.6 L687.5,178.3 L690.5,175.9 L693.5,173 L696.5,170.8 L699.5,169.7 L702.5,169 L705.5,168.4 L707.5,168.3 L710.5,168.3 L713.5,168.1 L716.5,170.7 L719.5,169 L722.5,169.8 L725.5,169.2 L728.5,169 L731.5,168.4 L734.5,169.6 L737.5,170.2 L740.5,169.7 L743.5,168.5 L746.5,169.6 L749.5,167.5 L752.5,165.6 L755.5,163.9 L758.5,160.7 L761.5,156.6 L764.5,154.1 L767.5,151.6 L770.5,148.9 L773.5,146 L776.5,140.8 L779.5,139.1 L782.5,138.9 L785.5,140.5" fill="none" stroke="#1e1e8e" stroke-width="1.2" stroke-linejoin="round" />
<path d="M33.5,406.4 L36.5,404 L39.5,402.2 L42.5,400.4 L45.5,394.4 L48.5,390.4 L51.5,386 L54.5,379.7 L57.5,376.2 L60.5,378.5 L63.5,381.2 L66.5,380.7 L69.5,380.4 L72.5,380.6 L75.5,385.7 L78.5,390.7 L81.5,394.3 L84.5,394.9 L87.5,396 L90.5,397.5 L93.5,398.4 L96.5,399.2 L99.5,399.5 L102.5,399.2 L105.5,399.1 L108.5,399.1 L111.5,398.4 L114.5,398 L117.5,397.6 L120.5,396.7 L123.5,397.3 L126.5,399.2 L128.5,400.7 L131.5,401.8 L134.5,400.3 L137.5,397.8 L140.5,395 L143.5,394.5 L146.5,392.3 L149.5,389 L152.5,385.6 L155.5,381.8 L158.5,377.9 L161.5,375.2 L164.5,374.4 L167.5,374.3 L170.5,371.6 L173.5,369.5 L176.5,367.8 L179.5,363.9 L182.5,362.7 L185.5,362.4 L188.5,362 L191.5,360.6 L194.5,359.4 L197.5,358.3 L200.5,357.2 L203.5,355.9 L206.5,353.4 L209.5,351.2 L212.5,346.9 L215.5,341.9 L218.5,337.4 L221.5,332.6 L224.5,329.7 L227.5,327.1 L230.5,325.1 L233.5,323.4 L236.5,323.1 L239.5,322.9 L242.5,321.9 L245.5,321.2 L248.5,320.9 L251.5,319.2 L254.5,317.4 L257.5,316.1 L260.5,314.7 L263.5,314.4 L266.5,313.2 L269.5,313.1 L272.5,312 L275.5,311.9 L278.5,309.6 L281.5,307.8 L284.5,307.9 L287.5,310.1 L290.5,311 L293.5,314 L296.5,314.9 L299.5,315.4 L302.5,315.2 L305.5,314.7 L308.5,314.6 L311.5,314.1 L314.5,313.5 L317.5,312.6 L320.5,310.4 L322.5,304.9 L325.5,302.8 L328.5,299.8 L331.5,295.4 L334.5,292.3 L337.5,288.5 L340.5,284.5 L343.5,279.2 L346.5,277 L349.5,274.3 L352.5,273.3 L355.5,272.3 L358.5,271.6 L361.5,269.8 L364.5,268.7 L367.5,267.6 L370.5,267.3 L373.5,266.6 L376.5,266.8 L379.5,267.4 L382.5,264.5 L385.5,265.1 L388.5,265.2 L391.5,264.3 L394.5,263.7 L397.5,262.5 L400.5,259.6 L403.5,255.1 L406.5,251.7 L409.5,245.8 L412.5,235.5 L415.5,227 L418.5,219.6 L421.5,215.4 L424.5,230.7 L427.5,236.5 L430.5,244 L433.5,266.9 L436.5,280.8 L439.5,289.4 L442.5,296.3 L445.5,300.1 L448.5,301.8 L451.5,303.1 L454.5,304.5 L457.5,305.8 L460.5,306.3 L463.5,304.6 L466.5,299.7 L469.5,295.3 L472.5,292.9 L475.5,290.6 L478.5,285.9 L481.5,284.7 L484.5,281.4 L487.5,281 L490.5,279.9 L493.5,266.7 L496.5,257.6 L499.5,251.9 L502.5,245.6 L505.5,243.3 L508.5,242.9 L511.5,244 L513.5,243.9 L516.5,243 L519.5,251.3 L522.5,269.6 L525.5,273.4 L528.5,283 L531.5,292.1 L534.5,295 L537.5,305.2 L540.5,311.2 L543.5,314 L546.5,315.5 L549.5,320.9 L552.5,322.2 L555.5,319.4 L558.5,317.5 L561.5,315 L564.5,311.8 L567.5,306.8 L570.5,306.4 L573.5,305.7 L576.5,304.5 L579.5,304.3 L582.5,299.3 L585.5,300.1 L588.5,298.2 L591.5,294.7 L594.5,294 L597.5,286.7 L600.5,283.4 L603.5,284 L606.5,285.9 L609.5,280.7 L612.5,276.1 L615.5,275.7 L618.5,274.8 L621.5,276.8 L624.5,277.9 L627.5,279.5 L630.5,279.6 L633.5,280.2 L636.5,280.9 L639.5,280.5 L642.5,280.8 L645.5,277.3 L648.5,273.9 L651.5,272.5 L654.5,270.8 L657.5,267.4 L660.5,263.8 L663.5,257 L666.5,247.1 L669.5,242.5 L672.5,238.5 L675.5,235.3 L678.5,234.8 L681.5,236.4 L684.5,237.8 L687.5,239 L690.5,237.8 L693.5,237.4 L696.5,236.2 L699.5,233.9 L702.5,232.9 L705.5,231.2 L707.5,230.3 L710.5,228.8 L713.5,229.2 L716.5,224.6 L719.5,227.7 L722.5,226.3 L725.5,227.8 L728.5,229.2 L731.5,231.9 L734.5,232.7 L737.5,232.7 L740.5,232.9 L743.5,233.4 L746.5,233 L749.5,234 L752.5,234.9 L755.5,235.6 L758.5,236.8 L761.5,238.1 L764.5,238.6 L767.5,238.3 L770.5,238.1 L773.5,235.3 L776.5,233.7 L779.5,227.6 L782.5,222 L785.5,215.6" fill="none" stroke="#1e1e8e" stroke-width="1.2" stroke-linejoin="round" />
<path d="M33.5,378.4 L36.5,376.9 L39.5,375.4 L42.5,374 L45.5,372 L48.5,370.4 L51.5,368.7 L54.5,367.2 L57.5,366.2 L60.5,366.5 L63.5,367.1 L66.5,366.9 L69.5,366.8 L72.5,366.9 L75.5,368.3 L78.5,369.8 L81.5,371.1 L84.5,371.8 L87.5,372.9 L90.5,374 L93.5,375 L96.5,375.8 L99.5,376.7 L102.5,377.3 L105.5,377.4 L108.5,377.4 L111.5,378.1 L114.5,378.4 L117.5,378.7 L120.5,377.9 L123.5,376.5 L126.5,375.5 L128.5,374.5 L131.5,373.6 L134.5,371.4 L137.5,368.9 L140.5,366.5 L143.5,364.7 L146.5,363 L149.5,361 L152.5,359.3 L155.5,357.7 L158.5,355.8 L161.5,354.2 L164.5,352.7 L167.5,351.1 L170.5,348.7 L173.5,346.5 L176.5,343.8 L179.5,341.1 L182.5,339.4 L185.5,337.7 L188.5,336 L191.5,334.3 L194.5,332.7 L197.5,331 L200.5,329.4 L203.5,327.8 L206.5,325.9 L209.5,323.7 L212.5,321.6 L215.5,319.5 L218.5,317.9 L221.5,316.4 L224.5,314.5 L227.5,313.2 L230.5,312 L233.5,310.7 L236.5,309.9 L239.5,308.8 L242.5,307.4 L245.5,306.2 L248.5,305 L251.5,304 L254.5,303.1 L257.5,302.3 L260.5,301.7 L263.5,301.6 L266.5,300.9 L269.5,300.8 L272.5,300.3 L275.5,299.4 L278.5,298.2 L281.5,296.9 L284.5,296.3 L287.5,294.7 L290.5,293.2 L293.5,291.2 L296.5,289.3 L299.5,287.8 L302.5,286.6 L305.5,285.5 L308.5,284.2 L311.5,282.2 L314.5,280 L317.5,277.6 L320.5,275.1 L322.5,272.6 L325.5,269.9 L328.5,266.7 L331.5,263.8 L334.5,261.4 L337.5,258.9 L340.5,256.5 L343.5,254.2 L346.5,252.6 L349.5,250.8 L352.5,250.1 L355.5,248.5 L358.5,246.4 L361.5,243.7 L364.5,240.4 L367.5,237.2 L370.5,234.3 L373.5,231.8 L376.5,228.9 L379.5,225.3 L382.5,221.8 L385.5,218.2 L388.5,215.1 L391.5,211.5 L394.5,207.2 L397.5,202.8 L400.5,198.5 L403.5,194 L406.5,188.7 L409.5,184.1 L412.5,180 L415.5,176.5 L418.5,173.5 L421.5,172.4 L424.5,175 L427.5,176.5 L430.5,178.4 L433.5,183 L436.5,187.1 L439.5,190.7 L442.5,193.9 L445.5,196.8 L448.5,198.7 L451.5,200.9 L454.5,204.2 L457.5,208 L460.5,211.8 L463.5,214.4 L466.5,217 L469.5,220.1 L472.5,223.2 L475.5,227.4 L478.5,231.1 L481.5,232.3 L484.5,230 L487.5,229.1 L490.5,227.5 L493.5,221.6 L496.5,217 L499.5,213.9 L502.5,211.5 L505.5,210.1 L508.5,209.5 L511.5,210 L513.5,210 L516.5,209.7 L519.5,211.4 L522.5,215.9 L525.5,219.4 L528.5,223.1 L531.5,226.2 L534.5,227.3 L537.5,230.4 L540.5,233.4 L543.5,235.8 L546.5,237.7 L549.5,241.5 L552.5,246.5 L555.5,250.2 L558.5,253.7 L561.5,256.2 L564.5,258.9 L567.5,261 L570.5,261.2 L573.5,261.5 L576.5,262 L579.5,261.2 L582.5,258.9 L585.5,259.5 L588.5,258.8 L591.5,257 L594.5,256.1 L597.5,254.2 L600.5,253 L603.5,253.3 L606.5,254.3 L609.5,252.5 L612.5,250.8 L615.5,250.4 L618.5,248.8 L621.5,247.1 L624.5,245 L627.5,243.5 L630.5,243.3 L633.5,242.9 L636.5,242.2 L639.5,240.9 L642.5,239.1 L645.5,236.5 L648.5,233.9 L651.5,232.1 L654.5,230.6 L657.5,229.4 L660.5,227.5 L663.5,225.5 L666.5,222.5 L669.5,220.1 L672.5,218 L675.5,215.1 L678.5,213.1 L681.5,211.5 L684.5,210 L687.5,208.4 L690.5,206.5 L693.5,204.9 L696.5,203.2 L699.5,201.5 L702.5,200.7 L705.5,199.4 L707.5,199 L710.5,198.2 L713.5,198.3 L716.5,197.4 L719.5,198.1 L722.5,197.8 L725.5,198.2 L728.5,198.8 L731.5,199.8 L734.5,200.8 L737.5,201.1 L740.5,201 L743.5,200.6 L746.5,201 L749.5,200.4 L752.5,199.8 L755.5,199.3 L758.5,198.3 L761.5,196.8 L764.5,195.8 L767.5,194.3 L770.5,192.9 L773.5,190 L776.5,186.6 L779.5,182.7 L782.5,179.9 L785.5,177.6" fill="none" stroke="#3030b0" stroke-width="1.2" stroke-linejoin="round" stroke-dasharray="2.5,3.5"/>
<path d="M33.5,369.2 L36.5,367.9 L39.5,366.6 L42.5,365.7 L45.5,365 L48.5,364.3 L51.5,363.9 L54.5,363.9 L57.5,363.8 L60.5,365.3 L63.5,367 L66.5,367.6 L69.5,368.1 L72.5,368.3 L75.5,370.3 L78.5,372.7 L81.5,375.1 L84.5,376 L87.5,377.6 L90.5,379.6 L93.5,381.2 L96.5,382.6 L99.5,382.2 L102.5,381.5 L105.5,381.2 L108.5,380.6 L111.5,381.1 L114.5,379.4 L117.5,377.5 L120.5,375.9 L123.5,374.1 L126.5,371.6 L128.5,368.7 L131.5,366.2 L134.5,363.5 L137.5,360.8 L140.5,358.4 L143.5,356.7 L146.5,355.5 L149.5,353.4 L152.5,351.9 L155.5,350.4 L158.5,348.3 L161.5,347.2 L164.5,346.1 L167.5,344.7 L170.5,342.8 L173.5,341.1 L176.5,338.8 L179.5,336.8 L182.5,335 L185.5,332.7 L188.5,330.2 L191.5,327.7 L194.5,325 L197.5,322.7 L200.5,320.4 L203.5,318.4 L206.5,316.9 L209.5,315 L212.5,313.7 L215.5,312.9 L218.5,312.6 L221.5,311.8 L224.5,310.4 L227.5,309.6 L230.5,308.5 L233.5,307.3 L236.5,306.2 L239.5,304.9 L242.5,303.6 L245.5,302.2 L248.5,301.4 L251.5,300.5 L254.5,299.8 L257.5,298.6 L260.5,297.7 L263.5,298.5 L266.5,297.9 L269.5,297.7 L272.5,297.6 L275.5,296.7 L278.5,296.3 L281.5,295.8 L284.5,295.3 L287.5,293.8 L290.5,291.9 L293.5,288.9 L296.5,286.3 L299.5,283.5 L302.5,280.6 L305.5,278.6 L308.5,275.9 L311.5,272.8 L314.5,270.1 L317.5,267 L320.5,264.3 L322.5,262 L325.5,259.9 L328.5,257 L331.5,255.5 L334.5,253.8 L337.5,251.8 L340.5,249.4 L343.5,247.1 L346.5,245.1 L349.5,243.5 L352.5,242.9 L355.5,241.5 L358.5,239.3 L361.5,236.1 L364.5,233.1 L367.5,230.6 L370.5,227.5 L373.5,224.5 L376.5,220.9 L379.5,216.4 L382.5,212.2 L385.5,207 L388.5,202.2 L391.5,196.3 L394.5,190.4 L397.5,185 L400.5,180.2 L403.5,176.1 L406.5,170.8 L409.5,166.5 L412.5,163.3 L415.5,161 L418.5,159.5 L421.5,160.1 L424.5,166.5 L427.5,170.9 L430.5,176.3 L433.5,187.1 L436.5,196.5 L439.5,204.3 L442.5,212 L445.5,219.6 L448.5,224.9 L451.5,228.9 L454.5,233.6 L457.5,238.9 L460.5,241.5 L463.5,237.2 L466.5,233.4 L469.5,230.7 L472.5,224.9 L475.5,222.3 L478.5,220.8 L481.5,218.2 L484.5,216.9 L487.5,217.1 L490.5,216.8 L493.5,213.8 L496.5,210.2 L499.5,207.6 L502.5,207.5 L505.5,208.9 L508.5,208.5 L511.5,208.6 L513.5,206.9 L516.5,206 L519.5,209.3 L522.5,215.4 L525.5,218.4 L528.5,223.9 L531.5,231.9 L534.5,238.2 L537.5,246.3 L540.5,252.3 L543.5,256.9 L546.5,260.9 L549.5,265.7 L552.5,270.4 L555.5,272.9 L558.5,273 L561.5,269.6 L564.5,269.7 L567.5,266.7 L570.5,262.2 L573.5,259.1 L576.5,254.1 L579.5,251.7 L582.5,250.5 L585.5,251.8 L588.5,250.2 L591.5,247.8 L594.5,247.2 L597.5,247 L600.5,247.4 L603.5,248.3 L606.5,250.5 L609.5,252.4 L612.5,254 L615.5,254.9 L618.5,253.7 L621.5,251.3 L624.5,247.2 L627.5,243.2 L630.5,241.2 L633.5,238.9 L636.5,235.7 L639.5,233.1 L642.5,228.8 L645.5,224.7 L648.5,221.6 L651.5,219.2 L654.5,217 L657.5,217.4 L660.5,217.4 L663.5,218.3 L666.5,218.1 L669.5,216.6 L672.5,215.4 L675.5,213.2 L678.5,210.7 L681.5,208.7 L684.5,206.2 L687.5,203.9 L690.5,201.8 L693.5,199.2 L696.5,195.3 L699.5,193.2 L702.5,190.7 L705.5,189.3 L707.5,189.2 L710.5,188.9 L713.5,191.3 L716.5,193.3 L719.5,196.7 L722.5,199.6 L725.5,202.5 L728.5,204.6 L731.5,207.6 L734.5,209.5 L737.5,210.1 L740.5,209.2 L743.5,208 L746.5,207 L749.5,205.1 L752.5,201.4 L755.5,198.2 L758.5,193.5 L761.5,189.2 L764.5,185.5 L767.5,182.3 L770.5,178.3 L773.5,174.8 L776.5,171.1 L779.5,168.9 L782.5,167.8 L785.5,166.6" fill="none" stroke="#d2183e" stroke-width="1.1" stroke-linejoin="round" />
<line x1="33.5" y1="362.6" x2="33.5" y2="368.4" stroke="#d0102e"/>
<rect x="32" y="363.8" width="3" height="1.8" fill="#d0102e"/>
<line x1="36.5" y1="361.4" x2="36.5" y2="368" stroke="#d0102e"/>
<rect x="35" y="363.1" width="3" height="3.6" fill="#d0102e"/>
<line x1="39.5" y1="361.2" x2="39.5" y2="363.6" stroke="#000"/>
<rect x="38" y="362.3" width="3" height="1" fill="#000"/>
<line x1="42.5" y1="361.5" x2="42.5" y2="364.4" stroke="#000"/>
<rect x="41.5" y="361.7" width="2" height="1" fill="#fff" stroke="#000"/>
<line x1="45.5" y1="361.7" x2="45.5" y2="367.9" stroke="#d0102e"/>
<rect x="44" y="363.5" width="3" height="2.1" fill="#d0102e"/>
<line x1="48.5" y1="357.4" x2="48.5" y2="366.1" stroke="#000"/>
<rect x="47" y="361.9" width="3" height="1" fill="#000"/>
<line x1="51.5" y1="356.1" x2="51.5" y2="363.4" stroke="#000"/>
<rect x="50.5" y="360.1" width="2" height="2.3" fill="#fff" stroke="#000"/>
<line x1="54.5" y1="353.9" x2="54.5" y2="366.7" stroke="#d0102e"/>
<rect x="53" y="361.7" width="3" height="2.2" fill="#d0102e"/>
<line x1="57.5" y1="363.1" x2="57.5" y2="371.5" stroke="#d0102e"/>
<rect x="56.5" y="364.4" width="2" height="4.7" fill="#fff" stroke="#d0102e"/>
<line x1="60.5" y1="367" x2="60.5" y2="389.2" stroke="#d0102e"/>
<rect x="59" y="369.1" width="3" height="17.8" fill="#d0102e"/>
<line x1="63.5" y1="381.7" x2="63.5" y2="386" stroke="#000"/>
<rect x="62" y="383.8" width="3" height="1" fill="#000"/>
<line x1="66.5" y1="368.6" x2="66.5" y2="378.1" stroke="#000"/>
<rect x="65.5" y="369.5" width="2" height="6.7" fill="#fff" stroke="#000"/>
<line x1="69.5" y1="365.1" x2="69.5" y2="373.2" stroke="#d0102e"/>
<rect x="68" y="367" width="3" height="3.3" fill="#d0102e"/>
<line x1="72.5" y1="366.2" x2="72.5" y2="371.8" stroke="#000"/>
<rect x="71" y="367.6" width="3" height="1" fill="#000"/>
<line x1="75.5" y1="366.2" x2="75.5" y2="395.8" stroke="#d0102e"/>
<rect x="74" y="368.4" width="3" height="23.7" fill="#d0102e"/>
<line x1="78.5" y1="388.7" x2="78.5" y2="398.7" stroke="#d0102e"/>
<rect x="77" y="393" width="3" height="2" fill="#d0102e"/>
<line x1="81.5" y1="389.6" x2="81.5" y2="395.1" stroke="#000"/>
<rect x="80.5" y="392.7" width="2" height="1" fill="#fff" stroke="#000"/>
<line x1="84.5" y1="374.5" x2="84.5" y2="390.7" stroke="#000"/>
<rect x="83.5" y="377.9" width="2" height="11.4" fill="#fff" stroke="#000"/>
<line x1="87.5" y1="378.7" x2="87.5" y2="386.6" stroke="#d0102e"/>
<rect x="86" y="379.8" width="3" height="3.4" fill="#d0102e"/>
<line x1="90.5" y1="376.2" x2="90.5" y2="391.7" stroke="#d0102e"/>
<rect x="89" y="380" width="3" height="6.4" fill="#d0102e"/>
<line x1="93.5" y1="374.2" x2="93.5" y2="386.4" stroke="#000"/>
<rect x="92" y="377" width="3" height="6.9" fill="#000"/>
<line x1="96.5" y1="377.2" x2="96.5" y2="387.5" stroke="#000"/>
<rect x="95" y="380" width="3" height="3.1" fill="#000"/>
<line x1="99.5" y1="377.9" x2="99.5" y2="395.9" stroke="#000"/>
<rect x="98.5" y="381.8" width="2" height="9.2" fill="#fff" stroke="#000"/>
<line x1="102.5" y1="372.7" x2="102.5" y2="380.3" stroke="#000"/>
<rect x="101.5" y="374.7" width="2" height="3.7" fill="#fff" stroke="#000"/>
<line x1="105.5" y1="360" x2="105.5" y2="374.4" stroke="#000"/>
<rect x="104.5" y="365.9" width="2" height="5.5" fill="#fff" stroke="#000"/>
<line x1="108.5" y1="359.8" x2="108.5" y2="365.4" stroke="#000"/>
<rect x="107.5" y="362.8" width="2" height="1.7" fill="#fff" stroke="#000"/>
<line x1="111.5" y1="364.2" x2="111.5" y2="375.8" stroke="#d0102e"/>
<rect x="110" y="365.7" width="3" height="8.8" fill="#d0102e"/>
<line x1="114.5" y1="367.4" x2="114.5" y2="370.5" stroke="#000"/>
<rect x="113" y="369" width="3" height="1" fill="#000"/>
<line x1="117.5" y1="365.8" x2="117.5" y2="373.1" stroke="#d0102e"/>
<rect x="116" y="367.6" width="3" height="2.4" fill="#d0102e"/>
<line x1="120.5" y1="368.5" x2="120.5" y2="374" stroke="#d0102e"/>
<rect x="119" y="370" width="3" height="2.3" fill="#d0102e"/>
<line x1="123.5" y1="350.2" x2="123.5" y2="368.9" stroke="#000"/>
<rect x="122.5" y="355.7" width="2" height="7.5" fill="#fff" stroke="#000"/>
<line x1="126.5" y1="348.6" x2="126.5" y2="355.5" stroke="#000"/>
<rect x="125.5" y="350.5" width="2" height="3.2" fill="#fff" stroke="#000"/>
<line x1="128.5" y1="343.1" x2="128.5" y2="353.6" stroke="#000"/>
<rect x="127.5" y="349.3" width="2" height="2.2" fill="#fff" stroke="#000"/>
<line x1="131.5" y1="349.3" x2="131.5" y2="352.2" stroke="#d0102e"/>
<rect x="130" y="350" width="3" height="1" fill="#d0102e"/>
<line x1="134.5" y1="345.1" x2="134.5" y2="352.5" stroke="#000"/>
<rect x="133.5" y="348.2" width="2" height="2.4" fill="#fff" stroke="#000"/>
<line x1="137.5" y1="344.7" x2="137.5" y2="347.2" stroke="#000"/>
<rect x="136.5" y="345.4" width="2" height="1" fill="#fff" stroke="#000"/>
<line x1="140.5" y1="339.5" x2="140.5" y2="349.2" stroke="#000"/>
<rect x="139.5" y="344.2" width="2" height="1.3" fill="#fff" stroke="#000"/>
<line x1="143.5" y1="340" x2="143.5" y2="347.5" stroke="#000"/>
<rect x="142.5" y="342.7" width="2" height="1" fill="#fff" stroke="#000"/>
<line x1="146.5" y1="341.3" x2="146.5" y2="350" stroke="#d0102e"/>
<rect x="145" y="343.6" width="3" height="4.3" fill="#d0102e"/>
<line x1="149.5" y1="341.6" x2="149.5" y2="353.3" stroke="#000"/>
<rect x="148.5" y="346.9" width="2" height="3.1" fill="#fff" stroke="#000"/>
<line x1="152.5" y1="347.8" x2="152.5" y2="353.3" stroke="#d0102e"/>
<rect x="151" y="349" width="3" height="1.4" fill="#d0102e"/>
<line x1="155.5" y1="349.3" x2="155.5" y2="351.2" stroke="#000"/>
<rect x="154" y="349.5" width="3" height="1" fill="#000"/>
<line x1="158.5" y1="342.5" x2="158.5" y2="348.1" stroke="#000"/>
<rect x="157.5" y="344" width="2" height="3.4" fill="#fff" stroke="#000"/>
<line x1="161.5" y1="341.4" x2="161.5" y2="347.5" stroke="#000"/>
<rect x="160.5" y="342.1" width="2" height="4.7" fill="#fff" stroke="#000"/>
<line x1="164.5" y1="335.5" x2="164.5" y2="346.6" stroke="#000"/>
<rect x="163.5" y="336.4" width="2" height="6.6" fill="#fff" stroke="#000"/>
<line x1="167.5" y1="328.8" x2="167.5" y2="337.5" stroke="#000"/>
<rect x="166.5" y="330.4" width="2" height="5" fill="#fff" stroke="#000"/>
<line x1="170.5" y1="325.2" x2="170.5" y2="330.9" stroke="#000"/>
<rect x="169.5" y="327.1" width="2" height="2.6" fill="#fff" stroke="#000"/>
<line x1="173.5" y1="319" x2="173.5" y2="332" stroke="#000"/>
<rect x="172.5" y="325.2" width="2" height="3.2" fill="#fff" stroke="#000"/>
<line x1="176.5" y1="315.3" x2="176.5" y2="324.7" stroke="#000"/>
<rect x="175.5" y="316.5" width="2" height="6.9" fill="#fff" stroke="#000"/>
<line x1="179.5" y1="315.8" x2="179.5" y2="321.5" stroke="#d0102e"/>
<rect x="178" y="316.9" width="3" height="1" fill="#d0102e"/>
<line x1="182.5" y1="316.1" x2="182.5" y2="323.9" stroke="#d0102e"/>
<rect x="181" y="316.8" width="3" height="4.1" fill="#d0102e"/>
<line x1="185.5" y1="315.5" x2="185.5" y2="321.4" stroke="#000"/>
<rect x="184.5" y="317.4" width="2" height="3.4" fill="#fff" stroke="#000"/>
<line x1="188.5" y1="309.9" x2="188.5" y2="321.7" stroke="#000"/>
<rect x="187.5" y="314.6" width="2" height="2.8" fill="#fff" stroke="#000"/>
<line x1="191.5" y1="312.6" x2="191.5" y2="319.9" stroke="#d0102e"/>
<rect x="190" y="314.9" width="3" height="2.3" fill="#d0102e"/>
<line x1="194.5" y1="312.1" x2="194.5" y2="322.1" stroke="#000"/>
<rect x="193.5" y="315.8" width="2" height="1.4" fill="#fff" stroke="#000"/>
<line x1="197.5" y1="310.3" x2="197.5" y2="319.1" stroke="#000"/>
<rect x="196.5" y="313.1" width="2" height="2.7" fill="#fff" stroke="#000"/>
<line x1="200.5" y1="306.9" x2="200.5" y2="317.8" stroke="#000"/>
<rect x="199.5" y="311.6" width="2" height="1" fill="#fff" stroke="#000"/>
<line x1="203.5" y1="308.7" x2="203.5" y2="313.2" stroke="#000"/>
<rect x="202.5" y="310.9" width="2" height="1.2" fill="#fff" stroke="#000"/>
<line x1="206.5" y1="309.4" x2="206.5" y2="316.5" stroke="#000"/>
<rect x="205.5" y="310.4" width="2" height="5.1" fill="#fff" stroke="#000"/>
<line x1="209.5" y1="297.2" x2="209.5" y2="310.4" stroke="#000"/>
<rect x="208.5" y="302.6" width="2" height="4.7" fill="#fff" stroke="#000"/>
<line x1="212.5" y1="293.8" x2="212.5" y2="315.1" stroke="#d0102e"/>
<rect x="211" y="300.3" width="3" height="8.4" fill="#d0102e"/>
<line x1="215.5" y1="304.9" x2="215.5" y2="309.9" stroke="#000"/>
<rect x="214.5" y="306.2" width="2" height="2.5" fill="#fff" stroke="#000"/>
<line x1="218.5" y1="305" x2="218.5" y2="316.4" stroke="#d0102e"/>
<rect x="217" y="307.3" width="3" height="6.1" fill="#d0102e"/>
<line x1="221.5" y1="308.2" x2="221.5" y2="316.9" stroke="#000"/>
<rect x="220.5" y="311.5" width="2" height="1.7" fill="#fff" stroke="#000"/>
<line x1="224.5" y1="297.1" x2="224.5" y2="307.3" stroke="#000"/>
<rect x="223.5" y="299.1" width="2" height="5.7" fill="#fff" stroke="#000"/>
<line x1="227.5" y1="296.3" x2="227.5" y2="307.5" stroke="#d0102e"/>
<rect x="226" y="301" width="3" height="3" fill="#d0102e"/>
<line x1="230.5" y1="299.8" x2="230.5" y2="309.1" stroke="#000"/>
<rect x="229.5" y="302.5" width="2" height="1.5" fill="#fff" stroke="#000"/>
<line x1="233.5" y1="297.9" x2="233.5" y2="306" stroke="#000"/>
<rect x="232.5" y="300.1" width="2" height="2" fill="#fff" stroke="#000"/>
<line x1="236.5" y1="298.9" x2="236.5" y2="301" stroke="#000"/>
<rect x="235.5" y="299.3" width="2" height="1" fill="#fff" stroke="#000"/>
<line x1="239.5" y1="289.5" x2="239.5" y2="300.5" stroke="#000"/>
<rect x="238.5" y="295" width="2" height="3.4" fill="#fff" stroke="#000"/>
<line x1="242.5" y1="288.1" x2="242.5" y2="298" stroke="#000"/>
<rect x="241.5" y="293.1" width="2" height="1.7" fill="#fff" stroke="#000"/>
<line x1="245.5" y1="290" x2="245.5" y2="294.4" stroke="#d0102e"/>
<rect x="244" y="291.5" width="3" height="1.8" fill="#d0102e"/>
<line x1="248.5" y1="286.2" x2="248.5" y2="299.5" stroke="#000"/>
<rect x="247.5" y="291.1" width="2" height="4.2" fill="#fff" stroke="#000"/>
<line x1="251.5" y1="291.7" x2="251.5" y2="302.9" stroke="#d0102e"/>
<rect x="250" y="295.3" width="3" height="1.6" fill="#d0102e"/>
<line x1="254.5" y1="295.5" x2="254.5" y2="300.8" stroke="#d0102e"/>
<rect x="253" y="297.3" width="3" height="1" fill="#d0102e"/>
<line x1="257.5" y1="295.4" x2="257.5" y2="304.6" stroke="#000"/>
<rect x="256.5" y="296.8" width="2" height="5.3" fill="#fff" stroke="#000"/>
<line x1="260.5" y1="297.7" x2="260.5" y2="301.4" stroke="#d0102e"/>
<rect x="259" y="299.1" width="3" height="1" fill="#d0102e"/>
<line x1="263.5" y1="299.6" x2="263.5" y2="311.6" stroke="#d0102e"/>
<rect x="262" y="301.9" width="3" height="7.1" fill="#d0102e"/>
<line x1="266.5" y1="292.8" x2="266.5" y2="309.5" stroke="#000"/>
<rect x="265.5" y="296.3" width="2" height="7.1" fill="#fff" stroke="#000"/>
<line x1="269.5" y1="294.8" x2="269.5" y2="303.3" stroke="#d0102e"/>
<rect x="268" y="297.7" width="3" height="2.7" fill="#d0102e"/>
<line x1="272.5" y1="296.9" x2="272.5" y2="301.5" stroke="#000"/>
<rect x="271.5" y="298.4" width="2" height="2.2" fill="#fff" stroke="#000"/>
<line x1="275.5" y1="286.3" x2="275.5" y2="298" stroke="#000"/>
<rect x="274.5" y="288.4" width="2" height="6.1" fill="#fff" stroke="#000"/>
<line x1="278.5" y1="283.9" x2="278.5" y2="292.1" stroke="#d0102e"/>
<rect x="277" y="287.6" width="3" height="1.9" fill="#d0102e"/>
<line x1="281.5" y1="282.3" x2="281.5" y2="290.7" stroke="#000"/>
<rect x="280.5" y="286.3" width="2" height="3" fill="#fff" stroke="#000"/>
<line x1="284.5" y1="284.3" x2="284.5" y2="289" stroke="#d0102e"/>
<rect x="283" y="285.8" width="3" height="1" fill="#d0102e"/>
<line x1="287.5" y1="268.3" x2="287.5" y2="288.3" stroke="#000"/>
<rect x="286.5" y="271.8" width="2" height="12.6" fill="#fff" stroke="#000"/>
<line x1="290.5" y1="266.4" x2="290.5" y2="275.6" stroke="#d0102e"/>
<rect x="289" y="271.3" width="3" height="1" fill="#d0102e"/>
<line x1="293.5" y1="256.7" x2="293.5" y2="270.6" stroke="#000"/>
<rect x="292.5" y="259.8" width="2" height="7.6" fill="#fff" stroke="#000"/>
<line x1="296.5" y1="257.9" x2="296.5" y2="266.4" stroke="#d0102e"/>
<rect x="295" y="261" width="3" height="1.9" fill="#d0102e"/>
<line x1="299.5" y1="250.4" x2="299.5" y2="268" stroke="#d0102e"/>
<rect x="298" y="254.7" width="3" height="9.9" fill="#d0102e"/>
<line x1="302.5" y1="258.2" x2="302.5" y2="272.9" stroke="#d0102e"/>
<rect x="301" y="264.2" width="3" height="6.1" fill="#d0102e"/>
<line x1="305.5" y1="265.8" x2="305.5" y2="274.8" stroke="#d0102e"/>
<rect x="304" y="270" width="3" height="1" fill="#d0102e"/>
<line x1="308.5" y1="265.1" x2="308.5" y2="274" stroke="#000"/>
<rect x="307.5" y="266" width="2" height="6.4" fill="#fff" stroke="#000"/>
<line x1="311.5" y1="256.5" x2="311.5" y2="261.7" stroke="#000"/>
<rect x="310.5" y="257.5" width="2" height="3.5" fill="#fff" stroke="#000"/>
<line x1="314.5" y1="248.1" x2="314.5" y2="262.2" stroke="#000"/>
<rect x="313.5" y="252.6" width="2" height="4.6" fill="#fff" stroke="#000"/>
<line x1="317.5" y1="246.1" x2="317.5" y2="254.5" stroke="#000"/>
<rect x="316.5" y="250.2" width="2" height="2.5" fill="#fff" stroke="#000"/>
<line x1="320.5" y1="239.7" x2="320.5" y2="253.3" stroke="#d0102e"/>
<rect x="319" y="245.9" width="3" height="5" fill="#d0102e"/>
<line x1="322.5" y1="244.9" x2="322.5" y2="261.2" stroke="#d0102e"/>
<rect x="321" y="248.4" width="3" height="8.8" fill="#d0102e"/>
<line x1="325.5" y1="237.5" x2="325.5" y2="255.1" stroke="#000"/>
<rect x="324.5" y="243.4" width="2" height="9.4" fill="#fff" stroke="#000"/>
<line x1="328.5" y1="232.5" x2="328.5" y2="239" stroke="#000"/>
<rect x="327.5" y="235.2" width="2" height="1.8" fill="#fff" stroke="#000"/>
<line x1="331.5" y1="231.8" x2="331.5" y2="242.7" stroke="#d0102e"/>
<rect x="330" y="233.3" width="3" height="6.9" fill="#d0102e"/>
<line x1="334.5" y1="233.7" x2="334.5" y2="242.8" stroke="#d0102e"/>
<rect x="333" y="235.2" width="3" height="6.3" fill="#d0102e"/>
<line x1="337.5" y1="235.7" x2="337.5" y2="244.1" stroke="#000"/>
<rect x="336.5" y="238.4" width="2" height="3.4" fill="#fff" stroke="#000"/>
<line x1="340.5" y1="235.7" x2="340.5" y2="241.3" stroke="#d0102e"/>
<rect x="339" y="237.8" width="3" height="1" fill="#d0102e"/>
<line x1="343.5" y1="238.3" x2="343.5" y2="241.4" stroke="#d0102e"/>
<rect x="342" y="239.4" width="3" height="1.3" fill="#d0102e"/>
<line x1="346.5" y1="238.4" x2="346.5" y2="242.5" stroke="#000"/>
<rect x="345.5" y="239.5" width="2" height="1.1" fill="#fff" stroke="#000"/>
<line x1="349.5" y1="231.1" x2="349.5" y2="239.7" stroke="#000"/>
<rect x="348.5" y="236.2" width="2" height="1" fill="#fff" stroke="#000"/>
<line x1="352.5" y1="231.7" x2="352.5" y2="246.7" stroke="#d0102e"/>
<rect x="351" y="234.5" width="3" height="10.2" fill="#d0102e"/>
<line x1="355.5" y1="230.4" x2="355.5" y2="239.7" stroke="#000"/>
<rect x="354.5" y="231.9" width="2" height="6.4" fill="#fff" stroke="#000"/>
<line x1="358.5" y1="219.1" x2="358.5" y2="231.5" stroke="#000"/>
<rect x="357.5" y="222.1" width="2" height="8" fill="#fff" stroke="#000"/>
<line x1="361.5" y1="211.5" x2="361.5" y2="222.4" stroke="#000"/>
<rect x="360.5" y="215.9" width="2" height="5.1" fill="#fff" stroke="#000"/>
<line x1="364.5" y1="203.5" x2="364.5" y2="216.1" stroke="#000"/>
<rect x="363.5" y="205.1" width="2" height="5.4" fill="#fff" stroke="#000"/>
<line x1="367.5" y1="200.4" x2="367.5" y2="205.8" stroke="#000"/>
<rect x="366.5" y="202" width="2" height="1" fill="#fff" stroke="#000"/>
<line x1="370.5" y1="199.4" x2="370.5" y2="204.4" stroke="#000"/>
<rect x="369.5" y="200.5" width="2" height="1.7" fill="#fff" stroke="#000"/>
<line x1="373.5" y1="200.7" x2="373.5" y2="203.4" stroke="#d0102e"/>
<rect x="372" y="201.2" width="3" height="1" fill="#d0102e"/>
<line x1="376.5" y1="190.5" x2="376.5" y2="200.3" stroke="#000"/>
<rect x="375.5" y="191.4" width="2" height="7.7" fill="#fff" stroke="#000"/>
<line x1="379.5" y1="178" x2="379.5" y2="191.9" stroke="#000"/>
<rect x="378.5" y="181" width="2" height="9.3" fill="#fff" stroke="#000"/>
<line x1="382.5" y1="172.9" x2="382.5" y2="188.7" stroke="#d0102e"/>
<rect x="381" y="174.5" width="3" height="12" fill="#d0102e"/>
<line x1="385.5" y1="171.1" x2="385.5" y2="181.9" stroke="#000"/>
<rect x="384.5" y="172" width="2" height="9.4" fill="#fff" stroke="#000"/>
<line x1="388.5" y1="168.4" x2="388.5" y2="176.5" stroke="#d0102e"/>
<rect x="387" y="172" width="3" height="2.5" fill="#d0102e"/>
<line x1="391.5" y1="163.5" x2="391.5" y2="173.9" stroke="#000"/>
<rect x="390.5" y="167.8" width="2" height="4.8" fill="#fff" stroke="#000"/>
<line x1="394.5" y1="152" x2="394.5" y2="172.4" stroke="#000"/>
<rect x="393.5" y="155.4" width="2" height="13.3" fill="#fff" stroke="#000"/>
<line x1="397.5" y1="149.5" x2="397.5" y2="158" stroke="#000"/>
<rect x="396.5" y="152" width="2" height="2.8" fill="#fff" stroke="#000"/>
<line x1="400.5" y1="144.6" x2="400.5" y2="158.8" stroke="#d0102e"/>
<rect x="399" y="147.8" width="3" height="5.1" fill="#d0102e"/>
<line x1="403.5" y1="143.9" x2="403.5" y2="154.9" stroke="#000"/>
<rect x="402" y="147.8" width="3" height="4.2" fill="#000"/>
<line x1="406.5" y1="133.8" x2="406.5" y2="147.8" stroke="#000"/>
<rect x="405.5" y="133.8" width="2" height="14" fill="#fff" stroke="#000"/>
<line x1="409.5" y1="134.3" x2="409.5" y2="145.3" stroke="#d0102e"/>
<rect x="408" y="136.4" width="3" height="7.8" fill="#d0102e"/>
<line x1="412.5" y1="154" x2="412.5" y2="163.8" stroke="#d0102e"/>
<rect x="411" y="154.8" width="3" height="6.3" fill="#d0102e"/>
<line x1="415.5" y1="150.7" x2="415.5" y2="163.1" stroke="#000"/>
<rect x="414" y="155.4" width="3" height="5" fill="#000"/>
<line x1="418.5" y1="159.9" x2="418.5" y2="165.6" stroke="#d0102e"/>
<rect x="417.5" y="161.4" width="2" height="2.2" fill="#fff" stroke="#d0102e"/>
<line x1="421.5" y1="168" x2="421.5" y2="195.7" stroke="#d0102e"/>
<rect x="420" y="168" width="3" height="26.4" fill="#d0102e"/>
<line x1="424.5" y1="193.7" x2="424.5" y2="265.3" stroke="#d0102e"/>
<rect x="423" y="206" width="3" height="53" fill="#d0102e"/>
<line x1="427.5" y1="229" x2="427.5" y2="291.9" stroke="#000"/>
<rect x="426.5" y="232.3" width="2" height="46.7" fill="#fff" stroke="#000"/>
<line x1="430.5" y1="213.8" x2="430.5" y2="240.3" stroke="#d0102e"/>
<rect x="429" y="234.4" width="3" height="5.7" fill="#d0102e"/>
<line x1="433.5" y1="238" x2="433.5" y2="299.4" stroke="#d0102e"/>
<rect x="432" y="238.2" width="3" height="60.9" fill="#d0102e"/>
<line x1="436.5" y1="265" x2="436.5" y2="328.3" stroke="#000"/>
<rect x="435.5" y="276.2" width="2" height="10.5" fill="#fff" stroke="#000"/>
<line x1="439.5" y1="253.5" x2="439.5" y2="267.1" stroke="#000"/>
<rect x="438.5" y="254.9" width="2" height="11.6" fill="#fff" stroke="#000"/>
<line x1="442.5" y1="249.8" x2="442.5" y2="264.9" stroke="#000"/>
<rect x="441.5" y="250.9" width="2" height="13.1" fill="#fff" stroke="#000"/>
<line x1="445.5" y1="227.2" x2="445.5" y2="261.7" stroke="#000"/>
<rect x="444.5" y="230.3" width="2" height="27.3" fill="#fff" stroke="#000"/>
<line x1="448.5" y1="207.7" x2="448.5" y2="226.7" stroke="#000"/>
<rect x="447.5" y="211.8" width="2" height="10" fill="#fff" stroke="#000"/>
<line x1="451.5" y1="209.4" x2="451.5" y2="216.1" stroke="#000"/>
<rect x="450.5" y="210.7" width="2" height="1" fill="#fff" stroke="#000"/>
<line x1="454.5" y1="213.7" x2="454.5" y2="222.4" stroke="#d0102e"/>
<rect x="453" y="216" width="3" height="4.3" fill="#d0102e"/>
<line x1="457.5" y1="215.2" x2="457.5" y2="231.1" stroke="#d0102e"/>
<rect x="456" y="217.4" width="3" height="11.4" fill="#d0102e"/>
<line x1="460.5" y1="218.9" x2="460.5" y2="231.7" stroke="#000"/>
<rect x="459" y="223" width="3" height="4.3" fill="#000"/>
<line x1="463.5" y1="200.9" x2="463.5" y2="222.3" stroke="#000"/>
<rect x="462.5" y="202.8" width="2" height="17.7" fill="#fff" stroke="#000"/>
<line x1="466.5" y1="179.5" x2="466.5" y2="204.4" stroke="#000"/>
<rect x="465.5" y="184.7" width="2" height="14.3" fill="#fff" stroke="#000"/>
<line x1="469.5" y1="179.4" x2="469.5" y2="208.2" stroke="#d0102e"/>
<rect x="468" y="183.9" width="3" height="20.6" fill="#d0102e"/>
<line x1="472.5" y1="196.9" x2="472.5" y2="222.9" stroke="#d0102e"/>
<rect x="471" y="199" width="3" height="22.7" fill="#d0102e"/>
<line x1="475.5" y1="219.1" x2="475.5" y2="243.2" stroke="#d0102e"/>
<rect x="474" y="220.5" width="3" height="21.9" fill="#d0102e"/>
<line x1="478.5" y1="230.6" x2="478.5" y2="253.4" stroke="#000"/>
<rect x="477.5" y="234.6" width="2" height="14.4" fill="#fff" stroke="#000"/>
<line x1="481.5" y1="213.8" x2="481.5" y2="243.1" stroke="#000"/>
<rect x="480.5" y="217.6" width="2" height="22.4" fill="#fff" stroke="#000"/>
<line x1="484.5" y1="208.8" x2="484.5" y2="221.7" stroke="#000"/>
<rect x="483.5" y="213.6" width="2" height="4.5" fill="#fff" stroke="#000"/>
<line x1="487.5" y1="210.8" x2="487.5" y2="224.2" stroke="#d0102e"/>
<rect x="486.5" y="214.3" width="2" height="8.7" fill="#fff" stroke="#d0102e"/>
<line x1="490.5" y1="205.1" x2="490.5" y2="213.2" stroke="#000"/>
<rect x="489.5" y="207.4" width="2" height="4.3" fill="#fff" stroke="#000"/>
<line x1="493.5" y1="178.1" x2="493.5" y2="200.9" stroke="#000"/>
<rect x="492.5" y="180.9" width="2" height="18.7" fill="#fff" stroke="#000"/>
<line x1="496.5" y1="172" x2="496.5" y2="186.2" stroke="#d0102e"/>
<rect x="495" y="177.6" width="3" height="5.2" fill="#d0102e"/>
<line x1="499.5" y1="175.2" x2="499.5" y2="195.7" stroke="#d0102e"/>
<rect x="498" y="177.6" width="3" height="15.1" fill="#d0102e"/>
<line x1="502.5" y1="183" x2="502.5" y2="205.7" stroke="#d0102e"/>
<rect x="501" y="187" width="3" height="14.5" fill="#d0102e"/>
<line x1="505.5" y1="192" x2="505.5" y2="203.8" stroke="#d0102e"/>
<rect x="504" y="192.8" width="3" height="9.9" fill="#d0102e"/>
<line x1="508.5" y1="197.7" x2="508.5" y2="203.2" stroke="#000"/>
<rect x="507.5" y="200.1" width="2" height="2.3" fill="#fff" stroke="#000"/>
<line x1="511.5" y1="206.1" x2="511.5" y2="232.6" stroke="#d0102e"/>
<rect x="510" y="206.7" width="3" height="15.5" fill="#d0102e"/>
<line x1="513.5" y1="211.5" x2="513.5" y2="222.3" stroke="#000"/>
<rect x="512" y="215.6" width="3" height="4.3" fill="#000"/>
<line x1="516.5" y1="217.5" x2="516.5" y2="224.1" stroke="#d0102e"/>
<rect x="515" y="220.1" width="3" height="2.7" fill="#d0102e"/>
<line x1="519.5" y1="232" x2="519.5" y2="263.3" stroke="#d0102e"/>
<rect x="518" y="233.8" width="3" height="28.3" fill="#d0102e"/>
<line x1="522.5" y1="252.8" x2="522.5" y2="296.2" stroke="#d0102e"/>
<rect x="521" y="252.8" width="3" height="42" fill="#d0102e"/>
<line x1="525.5" y1="251.8" x2="525.5" y2="290.1" stroke="#000"/>
<rect x="524.5" y="253.4" width="2" height="23.4" fill="#fff" stroke="#000"/>
<line x1="528.5" y1="244" x2="528.5" y2="290.1" stroke="#d0102e"/>
<rect x="527" y="247.7" width="3" height="32.6" fill="#d0102e"/>
<line x1="531.5" y1="278.4" x2="531.5" y2="285.9" stroke="#d0102e"/>
<rect x="530" y="280.6" width="3" height="4.2" fill="#d0102e"/>
<line x1="534.5" y1="259.2" x2="534.5" y2="283.3" stroke="#000"/>
<rect x="533.5" y="263.7" width="2" height="18.1" fill="#fff" stroke="#000"/>
<line x1="537.5" y1="265.2" x2="537.5" y2="315.4" stroke="#d0102e"/>
<rect x="536" y="267.3" width="3" height="31.3" fill="#d0102e"/>
<line x1="540.5" y1="276.5" x2="540.5" y2="307.3" stroke="#000"/>
<rect x="539.5" y="279.2" width="2" height="12.8" fill="#fff" stroke="#000"/>
<line x1="543.5" y1="258.5" x2="543.5" y2="303.5" stroke="#000"/>
<rect x="542.5" y="261.5" width="2" height="35.5" fill="#fff" stroke="#000"/>
<line x1="546.5" y1="249" x2="546.5" y2="262.4" stroke="#000"/>
<rect x="545.5" y="250.9" width="2" height="10.1" fill="#fff" stroke="#000"/>
<line x1="549.5" y1="254.4" x2="549.5" y2="296" stroke="#d0102e"/>
<rect x="548" y="260.3" width="3" height="24.8" fill="#d0102e"/>
<line x1="552.5" y1="274.9" x2="552.5" y2="282" stroke="#000"/>
<rect x="551" y="276.8" width="3" height="3.2" fill="#000"/>
<line x1="555.5" y1="251.7" x2="555.5" y2="268.2" stroke="#000"/>
<rect x="554.5" y="254.4" width="2" height="11.6" fill="#fff" stroke="#000"/>
<line x1="558.5" y1="254" x2="558.5" y2="264.8" stroke="#d0102e"/>
<rect x="557" y="255.9" width="3" height="7.1" fill="#d0102e"/>
<line x1="561.5" y1="245.6" x2="561.5" y2="259.9" stroke="#000"/>
<rect x="560.5" y="250.3" width="2" height="6.2" fill="#fff" stroke="#000"/>
<line x1="564.5" y1="239.2" x2="564.5" y2="255.8" stroke="#d0102e"/>
<rect x="563" y="241" width="3" height="13.7" fill="#d0102e"/>
<line x1="567.5" y1="239.9" x2="567.5" y2="248" stroke="#000"/>
<rect x="566.5" y="242.3" width="2" height="4.5" fill="#fff" stroke="#000"/>
<line x1="570.5" y1="223.3" x2="570.5" y2="236.9" stroke="#000"/>
<rect x="569.5" y="225.9" width="2" height="8.2" fill="#fff" stroke="#000"/>
<line x1="573.5" y1="223" x2="573.5" y2="228.9" stroke="#000"/>
<rect x="572.5" y="224.6" width="2" height="1.2" fill="#fff" stroke="#000"/>
<line x1="576.5" y1="223.6" x2="576.5" y2="238" stroke="#d0102e"/>
<rect x="575" y="229" width="3" height="4.5" fill="#d0102e"/>
<line x1="579.5" y1="227.3" x2="579.5" y2="250.9" stroke="#d0102e"/>
<rect x="578" y="233.5" width="3" height="13.2" fill="#d0102e"/>
<line x1="582.5" y1="242.3" x2="582.5" y2="251.1" stroke="#000"/>
<rect x="581" y="243.6" width="3" height="3" fill="#000"/>
<line x1="585.5" y1="239" x2="585.5" y2="277.5" stroke="#d0102e"/>
<rect x="584" y="239.8" width="3" height="27.6" fill="#d0102e"/>
<line x1="588.5" y1="263.7" x2="588.5" y2="271" stroke="#000"/>
<rect x="587.5" y="264.6" width="2" height="3" fill="#fff" stroke="#000"/>
<line x1="591.5" y1="246.9" x2="591.5" y2="258.3" stroke="#000"/>
<rect x="590.5" y="248.6" width="2" height="8.3" fill="#fff" stroke="#000"/>
<line x1="594.5" y1="240.7" x2="594.5" y2="250.5" stroke="#000"/>
<rect x="593" y="243.6" width="3" height="3.2" fill="#000"/>
<line x1="597.5" y1="241.1" x2="597.5" y2="261.1" stroke="#d0102e"/>
<rect x="596" y="243.6" width="3" height="15.9" fill="#d0102e"/>
<line x1="600.5" y1="253.1" x2="600.5" y2="263.6" stroke="#000"/>
<rect x="599.5" y="255.6" width="2" height="6.4" fill="#fff" stroke="#000"/>
<line x1="603.5" y1="252.1" x2="603.5" y2="291" stroke="#d0102e"/>
<rect x="602" y="255" width="3" height="11.8" fill="#d0102e"/>
<line x1="606.5" y1="263.9" x2="606.5" y2="273.6" stroke="#d0102e"/>
<rect x="605" y="266.9" width="3" height="3.3" fill="#d0102e"/>
<line x1="609.5" y1="249.2" x2="609.5" y2="277.5" stroke="#000"/>
<rect x="608.5" y="250.6" width="2" height="25.3" fill="#fff" stroke="#000"/>
<line x1="612.5" y1="244" x2="612.5" y2="248.1" stroke="#000"/>
<rect x="611.5" y="245.3" width="2" height="2.1" fill="#fff" stroke="#000"/>
<line x1="615.5" y1="243" x2="615.5" y2="248.9" stroke="#d0102e"/>
<rect x="614" y="244.8" width="3" height="1" fill="#d0102e"/>
<line x1="618.5" y1="227.8" x2="618.5" y2="246.1" stroke="#000"/>
<rect x="617.5" y="230.8" width="2" height="12.2" fill="#fff" stroke="#000"/>
<line x1="621.5" y1="214" x2="621.5" y2="227.5" stroke="#000"/>
<rect x="620.5" y="216.4" width="2" height="8.9" fill="#fff" stroke="#000"/>
<line x1="624.5" y1="212.7" x2="624.5" y2="218.3" stroke="#000"/>
<rect x="623.5" y="213.8" width="2" height="2" fill="#fff" stroke="#000"/>
<line x1="627.5" y1="208.3" x2="627.5" y2="214.5" stroke="#000"/>
<rect x="626" y="210" width="3" height="2.4" fill="#000"/>
<line x1="630.5" y1="217.1" x2="630.5" y2="225.7" stroke="#d0102e"/>
<rect x="629" y="219.4" width="3" height="3.6" fill="#d0102e"/>
<line x1="633.5" y1="215" x2="633.5" y2="224.4" stroke="#000"/>
<rect x="632.5" y="216.8" width="2" height="5.7" fill="#fff" stroke="#000"/>
<line x1="636.5" y1="209.7" x2="636.5" y2="224.1" stroke="#d0102e"/>
<rect x="635" y="215.6" width="3" height="2.5" fill="#d0102e"/>
<line x1="639.5" y1="218.9" x2="639.5" y2="224" stroke="#d0102e"/>
<rect x="638" y="219.4" width="3" height="2.8" fill="#d0102e"/>
<line x1="642.5" y1="207.1" x2="642.5" y2="219.3" stroke="#000"/>
<rect x="641.5" y="210.8" width="2" height="4.2" fill="#fff" stroke="#000"/>
<line x1="645.5" y1="205.5" x2="645.5" y2="217.8" stroke="#d0102e"/>
<rect x="644" y="206.7" width="3" height="8.9" fill="#d0102e"/>
<line x1="648.5" y1="205.2" x2="648.5" y2="226.7" stroke="#000"/>
<rect x="647.5" y="210.6" width="2" height="10" fill="#fff" stroke="#000"/>
<line x1="651.5" y1="210.8" x2="651.5" y2="214.9" stroke="#d0102e"/>
<rect x="650" y="211.8" width="3" height="2" fill="#d0102e"/>
<line x1="654.5" y1="208.8" x2="654.5" y2="221.7" stroke="#d0102e"/>
<rect x="653" y="214" width="3" height="3.4" fill="#d0102e"/>
<line x1="657.5" y1="217.3" x2="657.5" y2="242.9" stroke="#d0102e"/>
<rect x="656" y="226.3" width="3" height="9.1" fill="#d0102e"/>
<line x1="660.5" y1="214.8" x2="660.5" y2="232.1" stroke="#000"/>
<rect x="659.5" y="215.9" width="2" height="12.1" fill="#fff" stroke="#000"/>
<line x1="663.5" y1="213.6" x2="663.5" y2="229" stroke="#d0102e"/>
<rect x="662" y="216.8" width="3" height="9.7" fill="#d0102e"/>
<line x1="666.5" y1="208.8" x2="666.5" y2="218.3" stroke="#000"/>
<rect x="665.5" y="209.9" width="2" height="6.9" fill="#fff" stroke="#000"/>
<line x1="669.5" y1="199" x2="669.5" y2="207.5" stroke="#000"/>
<rect x="668.5" y="203" width="2" height="3" fill="#fff" stroke="#000"/>
<line x1="672.5" y1="200.3" x2="672.5" y2="204.8" stroke="#000"/>
<rect x="671.5" y="201.9" width="2" height="1.1" fill="#fff" stroke="#000"/>
<line x1="675.5" y1="187.2" x2="675.5" y2="201.8" stroke="#000"/>
<rect x="674.5" y="188.7" width="2" height="10.3" fill="#fff" stroke="#000"/>
<line x1="678.5" y1="186.8" x2="678.5" y2="191.2" stroke="#d0102e"/>
<rect x="677" y="187.8" width="3" height="2.1" fill="#d0102e"/>
<line x1="681.5" y1="180.2" x2="681.5" y2="199" stroke="#000"/>
<rect x="680.5" y="185" width="2" height="7.8" fill="#fff" stroke="#000"/>
<line x1="684.5" y1="181.3" x2="684.5" y2="185.2" stroke="#000"/>
<rect x="683" y="182.5" width="3" height="1" fill="#000"/>
<line x1="687.5" y1="178.2" x2="687.5" y2="184.1" stroke="#000"/>
<rect x="686.5" y="180.7" width="2" height="2.2" fill="#fff" stroke="#000"/>
<line x1="690.5" y1="176.1" x2="690.5" y2="189.4" stroke="#d0102e"/>
<rect x="689" y="179.5" width="3" height="7.4" fill="#d0102e"/>
<line x1="693.5" y1="178" x2="693.5" y2="189.1" stroke="#000"/>
<rect x="692.5" y="183.1" width="2" height="3.9" fill="#fff" stroke="#000"/>
<line x1="696.5" y1="180.9" x2="696.5" y2="187.6" stroke="#d0102e"/>
<rect x="695" y="183" width="3" height="1.7" fill="#d0102e"/>
<line x1="699.5" y1="185.3" x2="699.5" y2="196" stroke="#d0102e"/>
<rect x="698.5" y="188" width="2" height="5.4" fill="#fff" stroke="#d0102e"/>
<line x1="702.5" y1="192.5" x2="702.5" y2="205" stroke="#d0102e"/>
<rect x="701.5" y="194.2" width="2" height="6.2" fill="#fff" stroke="#d0102e"/>
<line x1="705.5" y1="185.8" x2="705.5" y2="193" stroke="#000"/>
<rect x="704" y="189" width="3" height="2.6" fill="#000"/>
<line x1="707.5" y1="187" x2="707.5" y2="202.8" stroke="#d0102e"/>
<rect x="706" y="189.7" width="3" height="11.7" fill="#d0102e"/>
<line x1="710.5" y1="190.7" x2="710.5" y2="200.9" stroke="#000"/>
<rect x="709" y="194.7" width="3" height="3.8" fill="#000"/>
<line x1="713.5" y1="203.2" x2="713.5" y2="222.3" stroke="#d0102e"/>
<rect x="712" y="205" width="3" height="14.8" fill="#d0102e"/>
<line x1="716.5" y1="214.3" x2="716.5" y2="220.5" stroke="#000"/>
<rect x="715.5" y="215.9" width="2" height="1" fill="#fff" stroke="#000"/>
<line x1="719.5" y1="208.8" x2="719.5" y2="230.8" stroke="#d0102e"/>
<rect x="718" y="212" width="3" height="17.8" fill="#d0102e"/>
<line x1="722.5" y1="219.6" x2="722.5" y2="226.3" stroke="#000"/>
<rect x="721.5" y="220.3" width="2" height="4.7" fill="#fff" stroke="#000"/>
<line x1="725.5" y1="208.7" x2="725.5" y2="224.2" stroke="#000"/>
<rect x="724" y="214.5" width="3" height="4.6" fill="#000"/>
<line x1="728.5" y1="207.8" x2="728.5" y2="229.5" stroke="#000"/>
<rect x="727.5" y="214.4" width="2" height="11.9" fill="#fff" stroke="#000"/>
<line x1="731.5" y1="206" x2="731.5" y2="224.5" stroke="#d0102e"/>
<rect x="730" y="209" width="3" height="13" fill="#d0102e"/>
<line x1="734.5" y1="207" x2="734.5" y2="217.2" stroke="#000"/>
<rect x="733.5" y="208.8" width="2" height="7.2" fill="#fff" stroke="#000"/>
<line x1="737.5" y1="193.9" x2="737.5" y2="209.6" stroke="#000"/>
<rect x="736.5" y="195.7" width="2" height="12.5" fill="#fff" stroke="#000"/>
<line x1="740.5" y1="181.2" x2="740.5" y2="192.7" stroke="#000"/>
<rect x="739.5" y="182.2" width="2" height="9.4" fill="#fff" stroke="#000"/>
<line x1="743.5" y1="174.8" x2="743.5" y2="185.6" stroke="#000"/>
<rect x="742.5" y="176.8" width="2" height="2.2" fill="#fff" stroke="#000"/>
<line x1="746.5" y1="182.1" x2="746.5" y2="190.6" stroke="#d0102e"/>
<rect x="745" y="183.7" width="3" height="4.1" fill="#d0102e"/>
<line x1="749.5" y1="171" x2="749.5" y2="183.5" stroke="#000"/>
<rect x="748.5" y="174.4" width="2" height="7.6" fill="#fff" stroke="#000"/>
<line x1="752.5" y1="170.5" x2="752.5" y2="179.2" stroke="#000"/>
<rect x="751.5" y="172.7" width="2" height="2.3" fill="#fff" stroke="#000"/>
<line x1="755.5" y1="170.2" x2="755.5" y2="177.2" stroke="#d0102e"/>
<rect x="754" y="171.8" width="3" height="2.5" fill="#d0102e"/>
<line x1="758.5" y1="166.9" x2="758.5" y2="180.3" stroke="#000"/>
<rect x="757.5" y="168.2" width="2" height="10" fill="#fff" stroke="#000"/>
<line x1="761.5" y1="163.5" x2="761.5" y2="168.4" stroke="#000"/>
<rect x="760.5" y="164.9" width="2" height="2.2" fill="#fff" stroke="#000"/>
<line x1="764.5" y1="166.3" x2="764.5" y2="172" stroke="#d0102e"/>
<rect x="763" y="168.7" width="3" height="2.3" fill="#d0102e"/>
<line x1="767.5" y1="165.2" x2="767.5" y2="175.2" stroke="#d0102e"/>
<rect x="766" y="170.5" width="3" height="1.9" fill="#d0102e"/>
<line x1="770.5" y1="166.1" x2="770.5" y2="178.5" stroke="#000"/>
<rect x="769.5" y="169.6" width="2" height="6.4" fill="#fff" stroke="#000"/>
<line x1="773.5" y1="159.5" x2="773.5" y2="164.1" stroke="#000"/>
<rect x="772.5" y="161.7" width="2" height="1" fill="#fff" stroke="#000"/>
<line x1="776.5" y1="147.5" x2="776.5" y2="166.1" stroke="#000"/>
<rect x="775.5" y="148.3" width="2" height="14.9" fill="#fff" stroke="#000"/>
<line x1="779.5" y1="146.9" x2="779.5" y2="159.2" stroke="#d0102e"/>
<rect x="778" y="151.5" width="3" height="1.4" fill="#d0102e"/>
<line x1="782.5" y1="149.6" x2="782.5" y2="164.5" stroke="#d0102e"/>
<rect x="781" y="150.5" width="3" height="12.6" fill="#d0102e"/>
<line x1="785.5" y1="156" x2="785.5" y2="175.4" stroke="#d0102e"/>
<rect x="784" y="162.4" width="3" height="9.6" fill="#d0102e"/>
</g>
<line x1="713" y1="198.5" x2="787" y2="198.5" stroke="#f0141e" stroke-width="1"/>
<ellipse cx="784" cy="177.9" rx="15.4" ry="9.4" fill="none" stroke="#f0141e" stroke-width="1"/>
<ellipse cx="782" cy="198.7" rx="13.9" ry="6.5" fill="none" stroke="#f0141e" stroke-width="1"/>
<rect x="701" y="263" width="82" height="20" fill="#fff"/>
<g stroke="#f01c28" stroke-width="1.15" fill="none" stroke-linecap="square"><path d="M703.7,266.1 V279.6 M713.8,266.1 V279.6 M703.7,266.1 H713.8 M703.7,270.2 H713.8 M703.7,274.4 H713.8 M703.7,278.7 H713.8"/><path d="M717,268.2 H722.6 M720.2,265.2 V278.8 M720.1,270.3 L717.3,275 M720.6,271.6 L722.4,273.4 M724,266.3 H731.6 M723.1,269.4 H732.6 M727.2,269.4 V278.2 L725,278.6 M725.1,272 L722.6,277.5 M730,272 L732.4,277.5"/></g>
<text x="733" y="280" font-family='"Liberation Sans", sans-serif' font-size="16.2" fill="#f01c28" textLength="48.2" lengthAdjust="spacingAndGlyphs">50ma?</text>
<rect x="34" y="128" width="133" height="11" fill="#fff"/>
<path d="M35.5,130 v7.5 M37.7,131.5 v6 M40.3,130 v7.5 M42.5,132 v5.5" stroke="#000" stroke-width="1.7"/>
<text x='47.6' y='136.8' font-family='"Liberation Sans", sans-serif' font-size='10.1' stroke='#000' stroke-width='0.3' textLength='117.4' lengthAdjust='spacing'>$SPX (Daily) 2802.60</text>
<rect x="34" y="139.1" width="180.5" height="11" fill="#fff"/>
<line x1="35" y1="144.6" x2="44" y2="144.6" stroke="#10107e" stroke-width="2"/>
<text x="45.6" y="147.6" font-family='"Liberation Sans", sans-serif' font-size="8.6" fill="#10107e" stroke="#10107e" stroke-width="0.3" textLength="167.5" lengthAdjust="spacingAndGlyphs">BB(20,2.0) 2724.55 - 2792.51 - 2860.47</text>
<rect x="34" y="150.1" width="81.5" height="11" fill="#fff"/>
<line x1="35" y1="155.6" x2="44" y2="155.6" stroke="#cc0e36" stroke-width="2"/>
<text x="45.6" y="158.6" font-family='"Liberation Sans", sans-serif' font-size="8.6" fill="#cc0e36" stroke="#cc0e36" stroke-width="0.3" textLength="68.5" lengthAdjust="spacingAndGlyphs">MA(13) 2812.45</text>
<rect x="34" y="161.1" width="81.5" height="11" fill="#fff"/>
<line x1="35" y1="166.6" x2="44" y2="166.6" stroke="#106010" stroke-width="2"/>
<text x="45.6" y="169.6" font-family='"Liberation Sans", sans-serif' font-size="8.6" fill="#106010" stroke="#106010" stroke-width="0.3" textLength="68.5" lengthAdjust="spacingAndGlyphs">MA(50) 2763.27</text>
<rect x="34" y="172.1" width="87.5" height="11" fill="#fff"/>
<line x1="35" y1="177.6" x2="44" y2="177.6" stroke="#ff10ff" stroke-width="2"/>
<text x="45.6" y="180.6" font-family='"Liberation Sans", sans-serif' font-size="8.6" fill="#ff10ff" stroke="#ff10ff" stroke-width="0.3" textLength="74.5" lengthAdjust="spacingAndGlyphs">MA(100) 2720.64</text>
<rect x="34" y="183.1" width="87.5" height="11" fill="#fff"/>
<line x1="35" y1="188.6" x2="44" y2="188.6" stroke="#9430d4" stroke-width="2"/>
<text x="45.6" y="191.6" font-family='"Liberation Sans", sans-serif' font-size="8.6" fill="#9430d4" stroke="#9430d4" stroke-width="0.3" textLength="74.5" lengthAdjust="spacingAndGlyphs">MA(200) 2696.23</text>
<rect x="34" y="194" width="108" height="10" fill="#fff"/>
<path d="M36,202.3 v-5 M38.2,202.3 v-8 M40.4,202.3 v-6 M42.6,202.3 v-7 M44.6,202.3 v-4" stroke="#444" stroke-width="1.5"/>
<text x="45.6" y="202.3" font-family='"Liberation Sans", sans-serif' font-size="8.6" fill="#3c3c3c" stroke="#3c3c3c" stroke-width="0.3" textLength="94.5" lengthAdjust="spacingAndGlyphs">Volume 2,241,251,328</text>
<text x="809.8" y="134.8" font-family='"Liberation Sans", sans-serif' font-size="8.9" stroke="#000" stroke-width="0.3" textLength="23.2" lengthAdjust="spacingAndGlyphs">2875</text>
<text x="809.8" y="148.3" font-family='"Liberation Sans", sans-serif' font-size="8.9" stroke="#000" stroke-width="0.3" textLength="23.2" lengthAdjust="spacingAndGlyphs">2850</text>
<text x="809.8" y="161.9" font-family='"Liberation Sans", sans-serif' font-size="8.9" stroke="#000" stroke-width="0.3" textLength="23.2" lengthAdjust="spacingAndGlyphs">2825</text>
<text x="809.8" y="175.6" font-family='"Liberation Sans", sans-serif' font-size="8.9" stroke="#000" stroke-width="0.3" textLength="23.2" lengthAdjust="spacingAndGlyphs">2800</text>
<text x="809.8" y="189.5" font-family='"Liberation Sans", sans-serif' font-size="8.9" stroke="#000" stroke-width="0.3" textLength="23.2" lengthAdjust="spacingAndGlyphs">2775</text>
<text x="809.8" y="203.4" font-family='"Liberation Sans", sans-serif' font-size="8.9" stroke="#000" stroke-width="0.3" textLength="23.2" lengthAdjust="spacingAndGlyphs">2750</text>
<text x="809.8" y="217.5" font-family='"Liberation Sans", sans-serif' font-size="8.9" stroke="#000" stroke-width="0.3" textLength="23.2" lengthAdjust="spacingAndGlyphs">2725</text>
<text x="809.8" y="231.8" font-family='"Liberation Sans", sans-serif' font-size="8.9" stroke="#000" stroke-width="0.3" textLength="23.2" lengthAdjust="spacingAndGlyphs">2700</text>
<text x="809.8" y="246.1" font-family='"Liberation Sans", sans-serif' font-size="8.9" stroke="#000" stroke-width="0.3" textLength="23.2" lengthAdjust="spacingAndGlyphs">2675</text>
<text x="809.8" y="260.6" font-family='"Liberation Sans", sans-serif' font-size="8.9" stroke="#000" stroke-width="0.3" textLength="23.2" lengthAdjust="spacingAndGlyphs">2650</text>
<text x="809.8" y="275.2" font-family='"Liberation Sans", sans-serif' font-size="8.9" stroke="#000" stroke-width="0.3" textLength="23.2" lengthAdjust="spacingAndGlyphs">2625</text>
<text x="809.8" y="290" font-family='"Liberation Sans", sans-serif' font-size="8.9" stroke="#000" stroke-width="0.3" textLength="23.2" lengthAdjust="spacingAndGlyphs">2600</text>
<text x="809.8" y="304.9" font-family='"Liberation Sans", sans-serif' font-size="8.9" stroke="#000" stroke-width="0.3" textLength="23.2" lengthAdjust="spacingAndGlyphs">2575</text>
<text x="809.8" y="319.9" font-family='"Liberation Sans", sans-serif' font-size="8.9" stroke="#000" stroke-width="0.3" textLength="23.2" lengthAdjust="spacingAndGlyphs">2550</text>
<text x="809.8" y="335.1" font-family='"Liberation Sans", sans-serif' font-size="8.9" stroke="#000" stroke-width="0.3" textLength="23.2" lengthAdjust="spacingAndGlyphs">2525</text>
<text x="809.8" y="350.5" font-family='"Liberation Sans", sans-serif' font-size="8.9" stroke="#000" stroke-width="0.3" textLength="23.2" lengthAdjust="spacingAndGlyphs">2500</text>
<text x="809.8" y="366" font-family='"Liberation Sans", sans-serif' font-size="8.9" stroke="#000" stroke-width="0.3" textLength="23.2" lengthAdjust="spacingAndGlyphs">2475</text>
<text x="809.8" y="381.7" font-family='"Liberation Sans", sans-serif' font-size="8.9" stroke="#000" stroke-width="0.3" textLength="23.2" lengthAdjust="spacingAndGlyphs">2450</text>
<text x="809.8" y="397.5" font-family='"Liberation Sans", sans-serif' font-size="8.9" stroke="#000" stroke-width="0.3" textLength="23.2" lengthAdjust="spacingAndGlyphs">2425</text>
<text x="17" y="389.9" font-family='"Liberation Sans", sans-serif' font-size="8.9" stroke="#000" stroke-width="0.3" textLength="11.5" lengthAdjust="spacingAndGlyphs">1B</text>
<line x1="29" y1="387.5" x2="32" y2="387.5" stroke="#888"/>
<text x="17" y="371.2" font-family='"Liberation Sans", sans-serif' font-size="8.9" stroke="#000" stroke-width="0.3" textLength="11.5" lengthAdjust="spacingAndGlyphs">2B</text>
<line x1="29" y1="368.5" x2="32" y2="368.5" stroke="#888"/>
<text x="17" y="352.4" font-family='"Liberation Sans", sans-serif' font-size="8.9" stroke="#000" stroke-width="0.3" textLength="11.5" lengthAdjust="spacingAndGlyphs">3B</text>
<line x1="29" y1="349.5" x2="32" y2="349.5" stroke="#888"/>
<text x="17" y="333.7" font-family='"Liberation Sans", sans-serif' font-size="8.9" stroke="#000" stroke-width="0.3" textLength="11.5" lengthAdjust="spacingAndGlyphs">4B</text>
<line x1="29" y1="330.5" x2="32" y2="330.5" stroke="#888"/>
<text x="17" y="314.9" font-family='"Liberation Sans", sans-serif' font-size="8.9" stroke="#000" stroke-width="0.3" textLength="11.5" lengthAdjust="spacingAndGlyphs">5B</text>
<line x1="29" y1="312.5" x2="32" y2="312.5" stroke="#888"/>
<path d="M805,217.7 L809.5,213.1 L850,213.1 L850,222.3 L809.5,222.3 Z" fill="#fff" stroke="#ff10ff" stroke-width="1.1"/>
<path d="M805,214.4 L809.5,209.8 L850,209.8 L850,219 L809.5,219 Z" fill="#fff" stroke="#1e1e8e" stroke-width="1.1"/>
<text x="810.5" y="217.7" font-family='"Liberation Sans", sans-serif' font-size="8.9" stroke="#000" stroke-width="0.3" textLength="38" lengthAdjust="spacingAndGlyphs">2724.55</text>
<path d="M805,230.4 L809.5,225.8 L850,225.8 L850,235 L809.5,235 Z" fill="#fff" stroke="#9430d4" stroke-width="1.1"/>
<text x="810.5" y="233.7" font-family='"Liberation Sans", sans-serif' font-size="8.9" stroke="#000" stroke-width="0.3" textLength="38" lengthAdjust="spacingAndGlyphs">2696.23</text>
<path d="M805,192 L809.5,187.4 L850,187.4 L850,196.6 L809.5,196.6 Z" fill="#fff" stroke="#106010" stroke-width="1.1"/>
<text x="810.5" y="195.3" font-family='"Liberation Sans", sans-serif' font-size="8.9" stroke="#000" stroke-width="0.3" textLength="38" lengthAdjust="spacingAndGlyphs">2763.27</text>
<path d="M805,177 L809.5,172.4 L850,172.4 L850,181.6 L809.5,181.6 Z" fill="#fff" stroke="#1e1e8e" stroke-width="1.1"/>
<text x="810.5" y="180.3" font-family='"Liberation Sans", sans-serif' font-size="8.9" stroke="#000" stroke-width="0.3" textLength="38" lengthAdjust="spacingAndGlyphs">2792.51</text>
<path d="M805,165.3 L809.5,160.7 L850,160.7 L850,169.9 L809.5,169.9 Z" fill="#fff" stroke="#cc0e36" stroke-width="1.1"/>
<text x="810.5" y="168.6" font-family='"Liberation Sans", sans-serif' font-size="8.9" stroke="#000" stroke-width="0.3" textLength="38" lengthAdjust="spacingAndGlyphs">2812.45</text>
<path d="M805,171.7 L809.5,166.6 L850,166.6 L850,176.8 L809.5,176.8 Z" fill="#fff" stroke="#000" stroke-width="1.1"/>
<text x="810.5" y="175.3" font-family='"Liberation Sans", sans-serif' font-size="10.2" font-weight="bold" textLength="38" lengthAdjust="spacingAndGlyphs">2802.60</text>
<path d="M805,139.3 L809.5,134.7 L850,134.7 L850,143.9 L809.5,143.9 Z" fill="#fff" stroke="#1e1e8e" stroke-width="1.1"/>
<text x="810.5" y="142.6" font-family='"Liberation Sans", sans-serif' font-size="8.9" stroke="#000" stroke-width="0.3" textLength="38" lengthAdjust="spacingAndGlyphs">2860.47</text>
<path d="M805,363 L809.5,358.4 L850,358.4 L850,367.6 L809.5,367.6 Z" fill="#fff" stroke="#222" stroke-width="1.1"/>
<text x="810.5" y="366.3" font-family='"Liberation Sans", sans-serif' font-size="8.9" stroke="#000" stroke-width="0.3" textLength="38" lengthAdjust="spacingAndGlyphs">2241251</text>
<line x1="483" y1="176.1" x2="828" y2="180.5" stroke="#f0141e" stroke-width="1"/>
<text x="39.5" y="416.8" font-family='"Liberation Sans", sans-serif' font-size="9.2" stroke="#000" stroke-width="0.3" text-anchor="middle" textLength="17.5" lengthAdjust="spacingAndGlyphs">Aug</text>
<text x="108.5" y="416.8" font-family='"Liberation Sans", sans-serif' font-size="9.2" stroke="#000" stroke-width="0.3" text-anchor="middle" textLength="17.5" lengthAdjust="spacingAndGlyphs">Sep</text>
<text x="167.5" y="416.8" font-family='"Liberation Sans", sans-serif' font-size="9.2" stroke="#000" stroke-width="0.3" text-anchor="middle" textLength="17.5" lengthAdjust="spacingAndGlyphs">Oct</text>
<text x="233.5" y="416.8" font-family='"Liberation Sans", sans-serif' font-size="9.2" stroke="#000" stroke-width="0.3" text-anchor="middle" textLength="17.5" lengthAdjust="spacingAndGlyphs">Nov</text>
<text x="296.5" y="416.8" font-family='"Liberation Sans", sans-serif' font-size="9.2" stroke="#000" stroke-width="0.3" text-anchor="middle" textLength="17.5" lengthAdjust="spacingAndGlyphs">Dec</text>
<text x="355.5" y="416.8" font-family='"Liberation Sans", sans-serif' font-size="10" font-weight="bold" text-anchor="middle" textLength="22" lengthAdjust="spacingAndGlyphs">2018</text>
<text x="418.5" y="416.8" font-family='"Liberation Sans", sans-serif' font-size="9.2" stroke="#000" stroke-width="0.3" text-anchor="middle" textLength="17.5" lengthAdjust="spacingAndGlyphs">Feb</text>
<text x="475.5" y="416.8" font-family='"Liberation Sans", sans-serif' font-size="9.2" stroke="#000" stroke-width="0.3" text-anchor="middle" textLength="17.5" lengthAdjust="spacingAndGlyphs">Mar</text>
<text x="537.5" y="416.8" font-family='"Liberation Sans", sans-serif' font-size="9.2" stroke="#000" stroke-width="0.3" text-anchor="middle" textLength="17.5" lengthAdjust="spacingAndGlyphs">Apr</text>
<text x="600.5" y="416.8" font-family='"Liberation Sans", sans-serif' font-size="9.2" stroke="#000" stroke-width="0.3" text-anchor="middle" textLength="17.5" lengthAdjust="spacingAndGlyphs">May</text>
<text x="666.5" y="416.8" font-family='"Liberation Sans", sans-serif' font-size="9.2" stroke="#000" stroke-width="0.3" text-anchor="middle" textLength="17.5" lengthAdjust="spacingAndGlyphs">Jun</text>
<text x="728.5" y="416.8" font-family='"Liberation Sans", sans-serif' font-size="9.2" stroke="#000" stroke-width="0.3" text-anchor="middle" textLength="17.5" lengthAdjust="spacingAndGlyphs">Jul</text>
<text x="791.5" y="416.8" font-family='"Liberation Sans", sans-serif' font-size="9.2" stroke="#000" stroke-width="0.3" text-anchor="middle" textLength="17.5" lengthAdjust="spacingAndGlyphs">Aug</text>
<path d="M33.5,406.5 v1.5 M36.5,406.5 v1.5 M39.5,406.5 v1.5 M42.5,406.5 v1.5 M45.5,406.5 v1.5 M48.5,406.5 v1.5 M51.5,406.5 v1.5 M54.5,406.5 v1.5 M57.5,406.5 v1.5 M60.5,406.5 v1.5 M63.5,406.5 v1.5 M66.5,406.5 v1.5 M69.5,406.5 v1.5 M72.5,406.5 v1.5 M75.5,406.5 v1.5 M78.5,406.5 v1.5 M81.5,406.5 v1.5 M84.5,406.5 v1.5 M87.5,406.5 v1.5 M90.5,406.5 v1.5 M93.5,406.5 v1.5 M96.5,406.5 v1.5 M99.5,406.5 v1.5 M102.5,406.5 v1.5 M105.5,406.5 v1.5 M108.5,406.5 v1.5 M111.5,406.5 v1.5 M114.5,406.5 v1.5 M117.5,406.5 v1.5 M120.5,406.5 v1.5 M123.5,406.5 v1.5 M126.5,406.5 v1.5 M128.5,406.5 v1.5 M131.5,406.5 v1.5 M134.5,406.5 v1.5 M137.5,406.5 v1.5 M140.5,406.5 v1.5 M143.5,406.5 v1.5 M146.5,406.5 v1.5 M149.5,406.5 v1.5 M152.5,406.5 v1.5 M155.5,406.5 v1.5 M158.5,406.5 v1.5 M161.5,406.5 v1.5 M164.5,406.5 v1.5 M167.5,406.5 v1.5 M170.5,406.5 v1.5 M173.5,406.5 v1.5 M176.5,406.5 v1.5 M179.5,406.5 v1.5 M182.5,406.5 v1.5 M185.5,406.5 v1.5 M188.5,406.5 v1.5 M191.5,406.5 v1.5 M194.5,406.5 v1.5 M197.5,406.5 v1.5 M200.5,406.5 v1.5 M203.5,406.5 v1.5 M206.5,406.5 v1.5 M209.5,406.5 v1.5 M212.5,406.5 v1.5 M215.5,406.5 v1.5 M218.5,406.5 v1.5 M221.5,406.5 v1.5 M224.5,406.5 v1.5 M227.5,406.5 v1.5 M230.5,406.5 v1.5 M233.5,406.5 v1.5 M236.5,406.5 v1.5 M239.5,406.5 v1.5 M242.5,406.5 v1.5 M245.5,406.5 v1.5 M248.5,406.5 v1.5 M251.5,406.5 v1.5 M254.5,406.5 v1.5 M257.5,406.5 v1.5 M260.5,406.5 v1.5 M263.5,406.5 v1.5 M266.5,406.5 v1.5 M269.5,406.5 v1.5 M272.5,406.5 v1.5 M275.5,406.5 v1.5 M278.5,406.5 v1.5 M281.5,406.5 v1.5 M284.5,406.5 v1.5 M287.5,406.5 v1.5 M290.5,406.5 v1.5 M293.5,406.5 v1.5 M296.5,406.5 v1.5 M299.5,406.5 v1.5 M302.5,406.5 v1.5 M305.5,406.5 v1.5 M308.5,406.5 v1.5 M311.5,406.5 v1.5 M314.5,406.5 v1.5 M317.5,406.5 v1.5 M320.5,406.5 v1.5 M322.5,406.5 v1.5 M325.5,406.5 v1.5 M328.5,406.5 v1.5 M331.5,406.5 v1.5 M334.5,406.5 v1.5 M337.5,406.5 v1.5 M340.5,406.5 v1.5 M343.5,406.5 v1.5 M346.5,406.5 v1.5 M349.5,406.5 v1.5 M352.5,406.5 v1.5 M355.5,406.5 v1.5 M358.5,406.5 v1.5 M361.5,406.5 v1.5 M364.5,406.5 v1.5 M367.5,406.5 v1.5 M370.5,406.5 v1.5 M373.5,406.5 v1.5 M376.5,406.5 v1.5 M379.5,406.5 v1.5 M382.5,406.5 v1.5 M385.5,406.5 v1.5 M388.5,406.5 v1.5 M391.5,406.5 v1.5 M394.5,406.5 v1.5 M397.5,406.5 v1.5 M400.5,406.5 v1.5 M403.5,406.5 v1.5 M406.5,406.5 v1.5 M409.5,406.5 v1.5 M412.5,406.5 v1.5 M415.5,406.5 v1.5 M418.5,406.5 v1.5 M421.5,406.5 v1.5 M424.5,406.5 v1.5 M427.5,406.5 v1.5 M430.5,406.5 v1.5 M433.5,406.5 v1.5 M436.5,406.5 v1.5 M439.5,406.5 v1.5 M442.5,406.5 v1.5 M445.5,406.5 v1.5 M448.5,406.5 v1.5 M451.5,406.5 v1.5 M454.5,406.5 v1.5 M457.5,406.5 v1.5 M460.5,406.5 v1.5 M463.5,406.5 v1.5 M466.5,406.5 v1.5 M469.5,406.5 v1.5 M472.5,406.5 v1.5 M475.5,406.5 v1.5 M478.5,406.5 v1.5 M481.5,406.5 v1.5 M484.5,406.5 v1.5 M487.5,406.5 v1.5 M490.5,406.5 v1.5 M493.5,406.5 v1.5 M496.5,406.5 v1.5 M499.5,406.5 v1.5 M502.5,406.5 v1.5 M505.5,406.5 v1.5 M508.5,406.5 v1.5 M511.5,406.5 v1.5 M513.5,406.5 v1.5 M516.5,406.5 v1.5 M519.5,406.5 v1.5 M522.5,406.5 v1.5 M525.5,406.5 v1.5 M528.5,406.5 v1.5 M531.5,406.5 v1.5 M534.5,406.5 v1.5 M537.5,406.5 v1.5 M540.5,406.5 v1.5 M543.5,406.5 v1.5 M546.5,406.5 v1.5 M549.5,406.5 v1.5 M552.5,406.5 v1.5 M555.5,406.5 v1.5 M558.5,406.5 v1.5 M561.5,406.5 v1.5 M564.5,406.5 v1.5 M567.5,406.5 v1.5 M570.5,406.5 v1.5 M573.5,406.5 v1.5 M576.5,406.5 v1.5 M579.5,406.5 v1.5 M582.5,406.5 v1.5 M585.5,406.5 v1.5 M588.5,406.5 v1.5 M591.5,406.5 v1.5 M594.5,406.5 v1.5 M597.5,406.5 v1.5 M600.5,406.5 v1.5 M603.5,406.5 v1.5 M606.5,406.5 v1.5 M609.5,406.5 v1.5 M612.5,406.5 v1.5 M615.5,406.5 v1.5 M618.5,406.5 v1.5 M621.5,406.5 v1.5 M624.5,406.5 v1.5 M627.5,406.5 v1.5 M630.5,406.5 v1.5 M633.5,406.5 v1.5 M636.5,406.5 v1.5 M639.5,406.5 v1.5 M642.5,406.5 v1.5 M645.5,406.5 v1.5 M648.5,406.5 v1.5 M651.5,406.5 v1.5 M654.5,406.5 v1.5 M657.5,406.5 v1.5 M660.5,406.5 v1.5 M663.5,406.5 v1.5 M666.5,406.5 v1.5 M669.5,406.5 v1.5 M672.5,406.5 v1.5 M675.5,406.5 v1.5 M678.5,406.5 v1.5 M681.5,406.5 v1.5 M684.5,406.5 v1.5 M687.5,406.5 v1.5 M690.5,406.5 v1.5 M693.5,406.5 v1.5 M696.5,406.5 v1.5 M699.5,406.5 v1.5 M702.5,406.5 v1.5 M705.5,406.5 v1.5 M707.5,406.5 v1.5 M710.5,406.5 v1.5 M713.5,406.5 v1.5 M716.5,406.5 v1.5 M719.5,406.5 v1.5 M722.5,406.5 v1.5 M725.5,406.5 v1.5 M728.5,406.5 v1.5 M731.5,406.5 v1.5 M734.5,406.5 v1.5 M737.5,406.5 v1.5 M740.5,406.5 v1.5 M743.5,406.5 v1.5 M746.5,406.5 v1.5 M749.5,406.5 v1.5 M752.5,406.5 v1.5 M755.5,406.5 v1.5 M758.5,406.5 v1.5 M761.5,406.5 v1.5 M764.5,406.5 v1.5 M767.5,406.5 v1.5 M770.5,406.5 v1.5 M773.5,406.5 v1.5 M776.5,406.5 v1.5 M779.5,406.5 v1.5 M782.5,406.5 v1.5 M785.5,406.5 v1.5 " stroke="#c0c0c0"/>
<path d="M33.5,418.5 v1.5 M36.5,418.5 v1.5 M39.5,418.5 v1.5 M42.5,418.5 v1.5 M45.5,418.5 v1.5 M48.5,418.5 v1.5 M51.5,418.5 v1.5 M54.5,418.5 v1.5 M57.5,418.5 v1.5 M60.5,418.5 v1.5 M63.5,418.5 v1.5 M66.5,418.5 v1.5 M69.5,418.5 v1.5 M72.5,418.5 v1.5 M75.5,418.5 v1.5 M78.5,418.5 v1.5 M81.5,418.5 v1.5 M84.5,418.5 v1.5 M87.5,418.5 v1.5 M90.5,418.5 v1.5 M93.5,418.5 v1.5 M96.5,418.5 v1.5 M99.5,418.5 v1.5 M102.5,418.5 v1.5 M105.5,418.5 v1.5 M108.5,418.5 v1.5 M111.5,418.5 v1.5 M114.5,418.5 v1.5 M117.5,418.5 v1.5 M120.5,418.5 v1.5 M123.5,418.5 v1.5 M126.5,418.5 v1.5 M128.5,418.5 v1.5 M131.5,418.5 v1.5 M134.5,418.5 v1.5 M137.5,418.5 v1.5 M140.5,418.5 v1.5 M143.5,418.5 v1.5 M146.5,418.5 v1.5 M149.5,418.5 v1.5 M152.5,418.5 v1.5 M155.5,418.5 v1.5 M158.5,418.5 v1.5 M161.5,418.5 v1.5 M164.5,418.5 v1.5 M167.5,418.5 v1.5 M170.5,418.5 v1.5 M173.5,418.5 v1.5 M176.5,418.5 v1.5 M179.5,418.5 v1.5 M182.5,418.5 v1.5 M185.5,418.5 v1.5 M188.5,418.5 v1.5 M191.5,418.5 v1.5 M194.5,418.5 v1.5 M197.5,418.5 v1.5 M200.5,418.5 v1.5 M203.5,418.5 v1.5 M206.5,418.5 v1.5 M209.5,418.5 v1.5 M212.5,418.5 v1.5 M215.5,418.5 v1.5 M218.5,418.5 v1.5 M221.5,418.5 v1.5 M224.5,418.5 v1.5 M227.5,418.5 v1.5 M230.5,418.5 v1.5 M233.5,418.5 v1.5 M236.5,418.5 v1.5 M239.5,418.5 v1.5 M242.5,418.5 v1.5 M245.5,418.5 v1.5 M248.5,418.5 v1.5 M251.5,418.5 v1.5 M254.5,418.5 v1.5 M257.5,418.5 v1.5 M260.5,418.5 v1.5 M263.5,418.5 v1.5 M266.5,418.5 v1.5 M269.5,418.5 v1.5 M272.5,418.5 v1.5 M275.5,418.5 v1.5 M278.5,418.5 v1.5 M281.5,418.5 v1.5 M284.5,418.5 v1.5 M287.5,418.5 v1.5 M290.5,418.5 v1.5 M293.5,418.5 v1.5 M296.5,418.5 v1.5 M299.5,418.5 v1.5 M302.5,418.5 v1.5 M305.5,418.5 v1.5 M308.5,418.5 v1.5 M311.5,418.5 v1.5 M314.5,418.5 v1.5 M317.5,418.5 v1.5 M320.5,418.5 v1.5 M322.5,418.5 v1.5 M325.5,418.5 v1.5 M328.5,418.5 v1.5 M331.5,418.5 v1.5 M334.5,418.5 v1.5 M337.5,418.5 v1.5 M340.5,418.5 v1.5 M343.5,418.5 v1.5 M346.5,418.5 v1.5 M349.5,418.5 v1.5 M352.5,418.5 v1.5 M355.5,418.5 v1.5 M358.5,418.5 v1.5 M361.5,418.5 v1.5 M364.5,418.5 v1.5 M367.5,418.5 v1.5 M370.5,418.5 v1.5 M373.5,418.5 v1.5 M376.5,418.5 v1.5 M379.5,418.5 v1.5 M382.5,418.5 v1.5 M385.5,418.5 v1.5 M388.5,418.5 v1.5 M391.5,418.5 v1.5 M394.5,418.5 v1.5 M397.5,418.5 v1.5 M400.5,418.5 v1.5 M403.5,418.5 v1.5 M406.5,418.5 v1.5 M409.5,418.5 v1.5 M412.5,418.5 v1.5 M415.5,418.5 v1.5 M418.5,418.5 v1.5 M421.5,418.5 v1.5 M424.5,418.5 v1.5 M427.5,418.5 v1.5 M430.5,418.5 v1.5 M433.5,418.5 v1.5 M436.5,418.5 v1.5 M439.5,418.5 v1.5 M442.5,418.5 v1.5 M445.5,418.5 v1.5 M448.5,418.5 v1.5 M451.5,418.5 v1.5 M454.5,418.5 v1.5 M457.5,418.5 v1.5 M460.5,418.5 v1.5 M463.5,418.5 v1.5 M466.5,418.5 v1.5 M469.5,418.5 v1.5 M472.5,418.5 v1.5 M475.5,418.5 v1.5 M478.5,418.5 v1.5 M481.5,418.5 v1.5 M484.5,418.5 v1.5 M487.5,418.5 v1.5 M490.5,418.5 v1.5 M493.5,418.5 v1.5 M496.5,418.5 v1.5 M499.5,418.5 v1.5 M502.5,418.5 v1.5 M505.5,418.5 v1.5 M508.5,418.5 v1.5 M511.5,418.5 v1.5 M513.5,418.5 v1.5 M516.5,418.5 v1.5 M519.5,418.5 v1.5 M522.5,418.5 v1.5 M525.5,418.5 v1.5 M528.5,418.5 v1.5 M531.5,418.5 v1.5 M534.5,418.5 v1.5 M537.5,418.5 v1.5 M540.5,418.5 v1.5 M543.5,418.5 v1.5 M546.5,418.5 v1.5 M549.5,418.5 v1.5 M552.5,418.5 v1.5 M555.5,418.5 v1.5 M558.5,418.5 v1.5 M561.5,418.5 v1.5 M564.5,418.5 v1.5 M567.5,418.5 v1.5 M570.5,418.5 v1.5 M573.5,418.5 v1.5 M576.5,418.5 v1.5 M579.5,418.5 v1.5 M582.5,418.5 v1.5 M585.5,418.5 v1.5 M588.5,418.5 v1.5 M591.5,418.5 v1.5 M594.5,418.5 v1.5 M597.5,418.5 v1.5 M600.5,418.5 v1.5 M603.5,418.5 v1.5 M606.5,418.5 v1.5 M609.5,418.5 v1.5 M612.5,418.5 v1.5 M615.5,418.5 v1.5 M618.5,418.5 v1.5 M621.5,418.5 v1.5 M624.5,418.5 v1.5 M627.5,418.5 v1.5 M630.5,418.5 v1.5 M633.5,418.5 v1.5 M636.5,418.5 v1.5 M639.5,418.5 v1.5 M642.5,418.5 v1.5 M645.5,418.5 v1.5 M648.5,418.5 v1.5 M651.5,418.5 v1.5 M654.5,418.5 v1.5 M657.5,418.5 v1.5 M660.5,418.5 v1.5 M663.5,418.5 v1.5 M666.5,418.5 v1.5 M669.5,418.5 v1.5 M672.5,418.5 v1.5 M675.5,418.5 v1.5 M678.5,418.5 v1.5 M681.5,418.5 v1.5 M684.5,418.5 v1.5 M687.5,418.5 v1.5 M690.5,418.5 v1.5 M693.5,418.5 v1.5 M696.5,418.5 v1.5 M699.5,418.5 v1.5 M702.5,418.5 v1.5 M705.5,418.5 v1.5 M707.5,418.5 v1.5 M710.5,418.5 v1.5 M713.5,418.5 v1.5 M716.5,418.5 v1.5 M719.5,418.5 v1.5 M722.5,418.5 v1.5 M725.5,418.5 v1.5 M728.5,418.5 v1.5 M731.5,418.5 v1.5 M734.5,418.5 v1.5 M737.5,418.5 v1.5 M740.5,418.5 v1.5 M743.5,418.5 v1.5 M746.5,418.5 v1.5 M749.5,418.5 v1.5 M752.5,418.5 v1.5 M755.5,418.5 v1.5 M758.5,418.5 v1.5 M761.5,418.5 v1.5 M764.5,418.5 v1.5 M767.5,418.5 v1.5 M770.5,418.5 v1.5 M773.5,418.5 v1.5 M776.5,418.5 v1.5 M779.5,418.5 v1.5 M782.5,418.5 v1.5 M785.5,418.5 v1.5 " stroke="#d0d0d0"/>
<line x1="32.5" y1="435.5" x2="806.5" y2="435.5" stroke="#e4e4e4"/>
<line x1="32.5" y1="456.5" x2="806.5" y2="456.5" stroke="#e4e4e4"/>
<line x1="32.5" y1="477.5" x2="806.5" y2="477.5" stroke="#e4e4e4"/>
<line x1="32.5" y1="498.5" x2="806.5" y2="498.5" stroke="#e4e4e4"/>
<line x1="39.5" y1="420.5" x2="39.5" y2="518.5" stroke="#e4e4e4"/>
<line x1="108.5" y1="420.5" x2="108.5" y2="518.5" stroke="#e4e4e4"/>
<line x1="167.5" y1="420.5" x2="167.5" y2="518.5" stroke="#e4e4e4"/>
<line x1="233.5" y1="420.5" x2="233.5" y2="518.5" stroke="#e4e4e4"/>
<line x1="296.5" y1="420.5" x2="296.5" y2="518.5" stroke="#e4e4e4"/>
<line x1="355.5" y1="420.5" x2="355.5" y2="518.5" stroke="#c8c8c8"/>
<line x1="418.5" y1="420.5" x2="418.5" y2="518.5" stroke="#e4e4e4"/>
<line x1="475.5" y1="420.5" x2="475.5" y2="518.5" stroke="#e4e4e4"/>
<line x1="537.5" y1="420.5" x2="537.5" y2="518.5" stroke="#e4e4e4"/>
<line x1="600.5" y1="420.5" x2="600.5" y2="518.5" stroke="#e4e4e4"/>
<line x1="666.5" y1="420.5" x2="666.5" y2="518.5" stroke="#e4e4e4"/>
<line x1="728.5" y1="420.5" x2="728.5" y2="518.5" stroke="#e4e4e4"/>
<line x1="791.5" y1="420.5" x2="791.5" y2="518.5" stroke="#e4e4e4"/>
<rect x="32.5" y="420.5" width="774.0" height="98.0" fill="none" stroke="#b4b4b4"/>
<path d="M806,436.5 h2.5 M806,441.5 h2.5 M806,446.5 h2.5 M806,451.5 h2.5 M806,456.5 h2.5 M806,462.5 h2.5 M806,467.5 h2.5 M806,472.5 h2.5 M806,478.5 h2.5 M806,483.5 h2.5 M806,488.5 h2.5 M806,493.5 h2.5 M806,498.5 h2.5 M806,504.5 h2.5 M806,509.5 h2.5 M806,514.5 h2.5 " stroke="#b4b4b4"/>
<rect x="32.5" y="476.5" width="3" height="2" fill="#62acd8" stroke="#2e6f98"/>
<rect x="35.5" y="477.5" width="3" height="1" fill="#62acd8" stroke="#2e6f98"/>
<rect x="38.5" y="477.5" width="3" height="1" fill="#62acd8" stroke="#2e6f98"/>
<rect x="41.5" y="477.5" width="3" height="1" fill="#62acd8" stroke="#2e6f98"/>
<line x1="44" y1="478.5" x2="48" y2="478.5" stroke="#2e6f98"/>
<line x1="47" y1="478.5" x2="51" y2="478.5" stroke="#2e6f98"/>
<line x1="50" y1="478.5" x2="54" y2="478.5" stroke="#2e6f98"/>
<line x1="53" y1="478.5" x2="57" y2="478.5" stroke="#2e6f98"/>
<rect x="56.5" y="478.5" width="3" height="1" fill="#62acd8" stroke="#2e6f98"/>
<rect x="59.5" y="478.5" width="3" height="4" fill="#62acd8" stroke="#2e6f98"/>
<rect x="62.5" y="478.5" width="3" height="5" fill="#62acd8" stroke="#2e6f98"/>
<rect x="65.5" y="478.5" width="3" height="4" fill="#62acd8" stroke="#2e6f98"/>
<rect x="68.5" y="478.5" width="3" height="3" fill="#62acd8" stroke="#2e6f98"/>
<rect x="71.5" y="478.5" width="3" height="2" fill="#62acd8" stroke="#2e6f98"/>
<rect x="74.5" y="478.5" width="3" height="4" fill="#62acd8" stroke="#2e6f98"/>
<rect x="77.5" y="478.5" width="3" height="6" fill="#62acd8" stroke="#2e6f98"/>
<rect x="80.5" y="478.5" width="3" height="6" fill="#62acd8" stroke="#2e6f98"/>
<rect x="83.5" y="478.5" width="3" height="4" fill="#62acd8" stroke="#2e6f98"/>
<rect x="86.5" y="478.5" width="3" height="4" fill="#62acd8" stroke="#2e6f98"/>
<rect x="89.5" y="478.5" width="3" height="3" fill="#62acd8" stroke="#2e6f98"/>
<rect x="92.5" y="478.5" width="3" height="3" fill="#62acd8" stroke="#2e6f98"/>
<rect x="95.5" y="478.5" width="3" height="2" fill="#62acd8" stroke="#2e6f98"/>
<rect x="98.5" y="478.5" width="3" height="1" fill="#62acd8" stroke="#2e6f98"/>
<line x1="101" y1="478.5" x2="105" y2="478.5" stroke="#2e6f98"/>
<rect x="104.5" y="476.5" width="3" height="2" fill="#62acd8" stroke="#2e6f98"/>
<rect x="107.5" y="475.5" width="3" height="3" fill="#62acd8" stroke="#2e6f98"/>
<rect x="110.5" y="475.5" width="3" height="3" fill="#62acd8" stroke="#2e6f98"/>
<rect x="113.5" y="475.5" width="3" height="3" fill="#62acd8" stroke="#2e6f98"/>
<rect x="116.5" y="475.5" width="3" height="3" fill="#62acd8" stroke="#2e6f98"/>
<rect x="119.5" y="476.5" width="3" height="2" fill="#62acd8" stroke="#2e6f98"/>
<rect x="122.5" y="474.5" width="3" height="4" fill="#62acd8" stroke="#2e6f98"/>
<rect x="125.5" y="473.5" width="3" height="5" fill="#62acd8" stroke="#2e6f98"/>
<rect x="127.5" y="472.5" width="3" height="6" fill="#62acd8" stroke="#2e6f98"/>
<rect x="130.5" y="472.5" width="3" height="6" fill="#62acd8" stroke="#2e6f98"/>
<rect x="133.5" y="472.5" width="3" height="6" fill="#62acd8" stroke="#2e6f98"/>
<rect x="136.5" y="473.5" width="3" height="5" fill="#62acd8" stroke="#2e6f98"/>
<rect x="139.5" y="473.5" width="3" height="5" fill="#62acd8" stroke="#2e6f98"/>
<rect x="142.5" y="473.5" width="3" height="5" fill="#62acd8" stroke="#2e6f98"/>
<rect x="145.5" y="474.5" width="3" height="4" fill="#62acd8" stroke="#2e6f98"/>
<rect x="148.5" y="475.5" width="3" height="3" fill="#62acd8" stroke="#2e6f98"/>
<rect x="151.5" y="476.5" width="3" height="2" fill="#62acd8" stroke="#2e6f98"/>
<rect x="154.5" y="477.5" width="3" height="1" fill="#62acd8" stroke="#2e6f98"/>
<rect x="157.5" y="477.5" width="3" height="1" fill="#62acd8" stroke="#2e6f98"/>
<rect x="160.5" y="477.5" width="3" height="1" fill="#62acd8" stroke="#2e6f98"/>
<rect x="163.5" y="476.5" width="3" height="2" fill="#62acd8" stroke="#2e6f98"/>
<rect x="166.5" y="476.5" width="3" height="2" fill="#62acd8" stroke="#2e6f98"/>
<rect x="169.5" y="475.5" width="3" height="3" fill="#62acd8" stroke="#2e6f98"/>
<rect x="172.5" y="475.5" width="3" height="3" fill="#62acd8" stroke="#2e6f98"/>
<rect x="175.5" y="474.5" width="3" height="4" fill="#62acd8" stroke="#2e6f98"/>
<rect x="178.5" y="474.5" width="3" height="4" fill="#62acd8" stroke="#2e6f98"/>
<rect x="181.5" y="474.5" width="3" height="4" fill="#62acd8" stroke="#2e6f98"/>
<rect x="184.5" y="475.5" width="3" height="3" fill="#62acd8" stroke="#2e6f98"/>
<rect x="187.5" y="475.5" width="3" height="3" fill="#62acd8" stroke="#2e6f98"/>
<rect x="190.5" y="476.5" width="3" height="2" fill="#62acd8" stroke="#2e6f98"/>
<rect x="193.5" y="476.5" width="3" height="2" fill="#62acd8" stroke="#2e6f98"/>
<rect x="196.5" y="476.5" width="3" height="2" fill="#62acd8" stroke="#2e6f98"/>
<rect x="199.5" y="477.5" width="3" height="1" fill="#62acd8" stroke="#2e6f98"/>
<rect x="202.5" y="477.5" width="3" height="1" fill="#62acd8" stroke="#2e6f98"/>
<rect x="205.5" y="477.5" width="3" height="1" fill="#62acd8" stroke="#2e6f98"/>
<rect x="208.5" y="477.5" width="3" height="1" fill="#62acd8" stroke="#2e6f98"/>
<rect x="211.5" y="477.5" width="3" height="1" fill="#62acd8" stroke="#2e6f98"/>
<line x1="214" y1="478.5" x2="218" y2="478.5" stroke="#2e6f98"/>
<rect x="217.5" y="478.5" width="3" height="1" fill="#62acd8" stroke="#2e6f98"/>
<rect x="220.5" y="478.5" width="3" height="2" fill="#62acd8" stroke="#2e6f98"/>
<rect x="223.5" y="478.5" width="3" height="1" fill="#62acd8" stroke="#2e6f98"/>
<rect x="226.5" y="478.5" width="3" height="1" fill="#62acd8" stroke="#2e6f98"/>
<rect x="229.5" y="478.5" width="3" height="1" fill="#62acd8" stroke="#2e6f98"/>
<line x1="232" y1="478.5" x2="236" y2="478.5" stroke="#2e6f98"/>
<line x1="235" y1="478.5" x2="239" y2="478.5" stroke="#2e6f98"/>
<line x1="238" y1="478.5" x2="242" y2="478.5" stroke="#2e6f98"/>
<line x1="241" y1="478.5" x2="245" y2="478.5" stroke="#2e6f98"/>
<line x1="244" y1="478.5" x2="248" y2="478.5" stroke="#2e6f98"/>
<rect x="247.5" y="477.5" width="3" height="1" fill="#62acd8" stroke="#2e6f98"/>
<line x1="250" y1="478.5" x2="254" y2="478.5" stroke="#2e6f98"/>
<rect x="253.5" y="478.5" width="3" height="1" fill="#62acd8" stroke="#2e6f98"/>
<rect x="256.5" y="478.5" width="3" height="1" fill="#62acd8" stroke="#2e6f98"/>
<rect x="259.5" y="478.5" width="3" height="2" fill="#62acd8" stroke="#2e6f98"/>
<rect x="262.5" y="478.5" width="3" height="3" fill="#62acd8" stroke="#2e6f98"/>
<rect x="265.5" y="478.5" width="3" height="3" fill="#62acd8" stroke="#2e6f98"/>
<rect x="268.5" y="478.5" width="3" height="3" fill="#62acd8" stroke="#2e6f98"/>
<rect x="271.5" y="478.5" width="3" height="3" fill="#62acd8" stroke="#2e6f98"/>
<rect x="274.5" y="478.5" width="3" height="1" fill="#62acd8" stroke="#2e6f98"/>
<rect x="277.5" y="478.5" width="3" height="1" fill="#62acd8" stroke="#2e6f98"/>
<line x1="280" y1="478.5" x2="284" y2="478.5" stroke="#2e6f98"/>
<line x1="283" y1="478.5" x2="287" y2="478.5" stroke="#2e6f98"/>
<rect x="286.5" y="476.5" width="3" height="2" fill="#62acd8" stroke="#2e6f98"/>
<rect x="289.5" y="475.5" width="3" height="3" fill="#62acd8" stroke="#2e6f98"/>
<rect x="292.5" y="473.5" width="3" height="5" fill="#62acd8" stroke="#2e6f98"/>
<rect x="295.5" y="473.5" width="3" height="5" fill="#62acd8" stroke="#2e6f98"/>
<rect x="298.5" y="473.5" width="3" height="5" fill="#62acd8" stroke="#2e6f98"/>
<rect x="301.5" y="474.5" width="3" height="4" fill="#62acd8" stroke="#2e6f98"/>
<rect x="304.5" y="475.5" width="3" height="3" fill="#62acd8" stroke="#2e6f98"/>
<rect x="307.5" y="476.5" width="3" height="2" fill="#62acd8" stroke="#2e6f98"/>
<rect x="310.5" y="475.5" width="3" height="3" fill="#62acd8" stroke="#2e6f98"/>
<rect x="313.5" y="475.5" width="3" height="3" fill="#62acd8" stroke="#2e6f98"/>
<rect x="316.5" y="475.5" width="3" height="3" fill="#62acd8" stroke="#2e6f98"/>
<rect x="319.5" y="475.5" width="3" height="3" fill="#62acd8" stroke="#2e6f98"/>
<rect x="321.5" y="476.5" width="3" height="2" fill="#62acd8" stroke="#2e6f98"/>
<rect x="324.5" y="475.5" width="3" height="3" fill="#62acd8" stroke="#2e6f98"/>
<rect x="327.5" y="474.5" width="3" height="4" fill="#62acd8" stroke="#2e6f98"/>
<rect x="330.5" y="475.5" width="3" height="3" fill="#62acd8" stroke="#2e6f98"/>
<rect x="333.5" y="475.5" width="3" height="3" fill="#62acd8" stroke="#2e6f98"/>
<rect x="336.5" y="476.5" width="3" height="2" fill="#62acd8" stroke="#2e6f98"/>
<rect x="339.5" y="476.5" width="3" height="2" fill="#62acd8" stroke="#2e6f98"/>
<rect x="342.5" y="477.5" width="3" height="1" fill="#62acd8" stroke="#2e6f98"/>
<line x1="345" y1="478.5" x2="349" y2="478.5" stroke="#2e6f98"/>
<line x1="348" y1="478.5" x2="352" y2="478.5" stroke="#2e6f98"/>
<rect x="351.5" y="478.5" width="3" height="1" fill="#62acd8" stroke="#2e6f98"/>
<rect x="354.5" y="478.5" width="3" height="1" fill="#62acd8" stroke="#2e6f98"/>
<line x1="357" y1="478.5" x2="361" y2="478.5" stroke="#2e6f98"/>
<rect x="360.5" y="476.5" width="3" height="2" fill="#62acd8" stroke="#2e6f98"/>
<rect x="363.5" y="474.5" width="3" height="4" fill="#62acd8" stroke="#2e6f98"/>
<rect x="366.5" y="473.5" width="3" height="5" fill="#62acd8" stroke="#2e6f98"/>
<rect x="369.5" y="473.5" width="3" height="5" fill="#62acd8" stroke="#2e6f98"/>
<rect x="372.5" y="473.5" width="3" height="5" fill="#62acd8" stroke="#2e6f98"/>
<rect x="375.5" y="473.5" width="3" height="5" fill="#62acd8" stroke="#2e6f98"/>
<rect x="378.5" y="471.5" width="3" height="7" fill="#62acd8" stroke="#2e6f98"/>
<rect x="381.5" y="472.5" width="3" height="6" fill="#62acd8" stroke="#2e6f98"/>
<rect x="384.5" y="471.5" width="3" height="7" fill="#62acd8" stroke="#2e6f98"/>
<rect x="387.5" y="472.5" width="3" height="6" fill="#62acd8" stroke="#2e6f98"/>
<rect x="390.5" y="472.5" width="3" height="6" fill="#62acd8" stroke="#2e6f98"/>
<rect x="393.5" y="471.5" width="3" height="7" fill="#62acd8" stroke="#2e6f98"/>
<rect x="396.5" y="471.5" width="3" height="7" fill="#62acd8" stroke="#2e6f98"/>
<rect x="399.5" y="471.5" width="3" height="7" fill="#62acd8" stroke="#2e6f98"/>
<rect x="402.5" y="472.5" width="3" height="6" fill="#62acd8" stroke="#2e6f98"/>
<rect x="405.5" y="471.5" width="3" height="7" fill="#62acd8" stroke="#2e6f98"/>
<rect x="408.5" y="473.5" width="3" height="5" fill="#62acd8" stroke="#2e6f98"/>
<rect x="411.5" y="476.5" width="3" height="2" fill="#62acd8" stroke="#2e6f98"/>
<rect x="414.5" y="478.5" width="3" height="1" fill="#62acd8" stroke="#2e6f98"/>
<rect x="417.5" y="478.5" width="3" height="3" fill="#62acd8" stroke="#2e6f98"/>
<rect x="420.5" y="478.5" width="3" height="9" fill="#62acd8" stroke="#2e6f98"/>
<rect x="423.5" y="478.5" width="3" height="20" fill="#62acd8" stroke="#2e6f98"/>
<rect x="426.5" y="478.5" width="3" height="23" fill="#62acd8" stroke="#2e6f98"/>
<rect x="429.5" y="478.5" width="3" height="25" fill="#62acd8" stroke="#2e6f98"/>
<rect x="432.5" y="478.5" width="3" height="31" fill="#62acd8" stroke="#2e6f98"/>
<rect x="435.5" y="478.5" width="3" height="32" fill="#62acd8" stroke="#2e6f98"/>
<rect x="438.5" y="478.5" width="3" height="28" fill="#62acd8" stroke="#2e6f98"/>
<rect x="441.5" y="478.5" width="3" height="23" fill="#62acd8" stroke="#2e6f98"/>
<rect x="444.5" y="478.5" width="3" height="17" fill="#62acd8" stroke="#2e6f98"/>
<rect x="447.5" y="478.5" width="3" height="10" fill="#62acd8" stroke="#2e6f98"/>
<rect x="450.5" y="478.5" width="3" height="4" fill="#62acd8" stroke="#2e6f98"/>
<rect x="453.5" y="478.5" width="3" height="2" fill="#62acd8" stroke="#2e6f98"/>
<rect x="456.5" y="478.5" width="3" height="1" fill="#62acd8" stroke="#2e6f98"/>
<line x1="459" y1="478.5" x2="463" y2="478.5" stroke="#2e6f98"/>
<rect x="462.5" y="474.5" width="3" height="4" fill="#62acd8" stroke="#2e6f98"/>
<rect x="465.5" y="470.5" width="3" height="8" fill="#62acd8" stroke="#2e6f98"/>
<rect x="468.5" y="470.5" width="3" height="8" fill="#62acd8" stroke="#2e6f98"/>
<rect x="471.5" y="472.5" width="3" height="6" fill="#62acd8" stroke="#2e6f98"/>
<rect x="474.5" y="476.5" width="3" height="2" fill="#62acd8" stroke="#2e6f98"/>
<line x1="477" y1="478.5" x2="481" y2="478.5" stroke="#2e6f98"/>
<rect x="480.5" y="477.5" width="3" height="1" fill="#62acd8" stroke="#2e6f98"/>
<rect x="483.5" y="476.5" width="3" height="2" fill="#62acd8" stroke="#2e6f98"/>
<rect x="486.5" y="475.5" width="3" height="3" fill="#62acd8" stroke="#2e6f98"/>
<rect x="489.5" y="474.5" width="3" height="4" fill="#62acd8" stroke="#2e6f98"/>
<rect x="492.5" y="470.5" width="3" height="8" fill="#62acd8" stroke="#2e6f98"/>
<rect x="495.5" y="468.5" width="3" height="10" fill="#62acd8" stroke="#2e6f98"/>
<rect x="498.5" y="469.5" width="3" height="9" fill="#62acd8" stroke="#2e6f98"/>
<rect x="501.5" y="471.5" width="3" height="7" fill="#62acd8" stroke="#2e6f98"/>
<rect x="504.5" y="472.5" width="3" height="6" fill="#62acd8" stroke="#2e6f98"/>
<rect x="507.5" y="474.5" width="3" height="4" fill="#62acd8" stroke="#2e6f98"/>
<rect x="510.5" y="477.5" width="3" height="1" fill="#62acd8" stroke="#2e6f98"/>
<rect x="512.5" y="478.5" width="3" height="1" fill="#62acd8" stroke="#2e6f98"/>
<rect x="515.5" y="478.5" width="3" height="3" fill="#62acd8" stroke="#2e6f98"/>
<rect x="518.5" y="478.5" width="3" height="8" fill="#62acd8" stroke="#2e6f98"/>
<rect x="521.5" y="478.5" width="3" height="15" fill="#62acd8" stroke="#2e6f98"/>
<rect x="524.5" y="478.5" width="3" height="13" fill="#62acd8" stroke="#2e6f98"/>
<rect x="527.5" y="478.5" width="3" height="15" fill="#62acd8" stroke="#2e6f98"/>
<rect x="530.5" y="478.5" width="3" height="15" fill="#62acd8" stroke="#2e6f98"/>
<rect x="533.5" y="478.5" width="3" height="12" fill="#62acd8" stroke="#2e6f98"/>
<rect x="536.5" y="478.5" width="3" height="14" fill="#62acd8" stroke="#2e6f98"/>
<rect x="539.5" y="478.5" width="3" height="11" fill="#62acd8" stroke="#2e6f98"/>
<rect x="542.5" y="478.5" width="3" height="7" fill="#62acd8" stroke="#2e6f98"/>
<rect x="545.5" y="478.5" width="3" height="2" fill="#62acd8" stroke="#2e6f98"/>
<rect x="548.5" y="478.5" width="3" height="3" fill="#62acd8" stroke="#2e6f98"/>
<rect x="551.5" y="478.5" width="3" height="2" fill="#62acd8" stroke="#2e6f98"/>
<rect x="554.5" y="477.5" width="3" height="1" fill="#62acd8" stroke="#2e6f98"/>
<rect x="557.5" y="475.5" width="3" height="3" fill="#62acd8" stroke="#2e6f98"/>
<rect x="560.5" y="473.5" width="3" height="5" fill="#62acd8" stroke="#2e6f98"/>
<rect x="563.5" y="472.5" width="3" height="6" fill="#62acd8" stroke="#2e6f98"/>
<rect x="566.5" y="470.5" width="3" height="8" fill="#62acd8" stroke="#2e6f98"/>
<rect x="569.5" y="467.5" width="3" height="11" fill="#62acd8" stroke="#2e6f98"/>
<rect x="572.5" y="465.5" width="3" height="13" fill="#62acd8" stroke="#2e6f98"/>
<rect x="575.5" y="466.5" width="3" height="12" fill="#62acd8" stroke="#2e6f98"/>
<rect x="578.5" y="468.5" width="3" height="10" fill="#62acd8" stroke="#2e6f98"/>
<rect x="581.5" y="470.5" width="3" height="8" fill="#62acd8" stroke="#2e6f98"/>
<rect x="584.5" y="474.5" width="3" height="4" fill="#62acd8" stroke="#2e6f98"/>
<rect x="587.5" y="476.5" width="3" height="2" fill="#62acd8" stroke="#2e6f98"/>
<rect x="590.5" y="476.5" width="3" height="2" fill="#62acd8" stroke="#2e6f98"/>
<rect x="593.5" y="475.5" width="3" height="3" fill="#62acd8" stroke="#2e6f98"/>
<rect x="596.5" y="476.5" width="3" height="2" fill="#62acd8" stroke="#2e6f98"/>
<rect x="599.5" y="477.5" width="3" height="1" fill="#62acd8" stroke="#2e6f98"/>
<line x1="602" y1="478.5" x2="606" y2="478.5" stroke="#2e6f98"/>
<rect x="605.5" y="478.5" width="3" height="1" fill="#62acd8" stroke="#2e6f98"/>
<line x1="608" y1="478.5" x2="612" y2="478.5" stroke="#2e6f98"/>
<rect x="611.5" y="476.5" width="3" height="2" fill="#62acd8" stroke="#2e6f98"/>
<rect x="614.5" y="475.5" width="3" height="3" fill="#62acd8" stroke="#2e6f98"/>
<rect x="617.5" y="473.5" width="3" height="5" fill="#62acd8" stroke="#2e6f98"/>
<rect x="620.5" y="470.5" width="3" height="8" fill="#62acd8" stroke="#2e6f98"/>
<rect x="623.5" y="468.5" width="3" height="10" fill="#62acd8" stroke="#2e6f98"/>
<rect x="626.5" y="467.5" width="3" height="11" fill="#62acd8" stroke="#2e6f98"/>
<rect x="629.5" y="469.5" width="3" height="9" fill="#62acd8" stroke="#2e6f98"/>
<rect x="632.5" y="469.5" width="3" height="9" fill="#62acd8" stroke="#2e6f98"/>
<rect x="635.5" y="470.5" width="3" height="8" fill="#62acd8" stroke="#2e6f98"/>
<rect x="638.5" y="472.5" width="3" height="6" fill="#62acd8" stroke="#2e6f98"/>
<rect x="641.5" y="472.5" width="3" height="6" fill="#62acd8" stroke="#2e6f98"/>
<rect x="644.5" y="473.5" width="3" height="5" fill="#62acd8" stroke="#2e6f98"/>
<rect x="647.5" y="473.5" width="3" height="5" fill="#62acd8" stroke="#2e6f98"/>
<rect x="650.5" y="474.5" width="3" height="4" fill="#62acd8" stroke="#2e6f98"/>
<rect x="653.5" y="476.5" width="3" height="2" fill="#62acd8" stroke="#2e6f98"/>
<rect x="656.5" y="478.5" width="3" height="1" fill="#62acd8" stroke="#2e6f98"/>
<line x1="659" y1="478.5" x2="663" y2="478.5" stroke="#2e6f98"/>
<rect x="662.5" y="478.5" width="3" height="2" fill="#62acd8" stroke="#2e6f98"/>
<line x1="665" y1="478.5" x2="669" y2="478.5" stroke="#2e6f98"/>
<rect x="668.5" y="477.5" width="3" height="1" fill="#62acd8" stroke="#2e6f98"/>
<rect x="671.5" y="476.5" width="3" height="2" fill="#62acd8" stroke="#2e6f98"/>
<rect x="674.5" y="474.5" width="3" height="4" fill="#62acd8" stroke="#2e6f98"/>
<rect x="677.5" y="473.5" width="3" height="5" fill="#62acd8" stroke="#2e6f98"/>
<rect x="680.5" y="473.5" width="3" height="5" fill="#62acd8" stroke="#2e6f98"/>
<rect x="683.5" y="472.5" width="3" height="6" fill="#62acd8" stroke="#2e6f98"/>
<rect x="686.5" y="472.5" width="3" height="6" fill="#62acd8" stroke="#2e6f98"/>
<rect x="689.5" y="474.5" width="3" height="4" fill="#62acd8" stroke="#2e6f98"/>
<rect x="692.5" y="474.5" width="3" height="4" fill="#62acd8" stroke="#2e6f98"/>
<rect x="695.5" y="475.5" width="3" height="3" fill="#62acd8" stroke="#2e6f98"/>
<rect x="698.5" y="477.5" width="3" height="1" fill="#62acd8" stroke="#2e6f98"/>
<line x1="701" y1="478.5" x2="705" y2="478.5" stroke="#2e6f98"/>
<rect x="704.5" y="478.5" width="3" height="1" fill="#62acd8" stroke="#2e6f98"/>
<rect x="706.5" y="478.5" width="3" height="3" fill="#62acd8" stroke="#2e6f98"/>
<rect x="709.5" y="478.5" width="3" height="4" fill="#62acd8" stroke="#2e6f98"/>
<rect x="712.5" y="478.5" width="3" height="7" fill="#62acd8" stroke="#2e6f98"/>
<rect x="715.5" y="478.5" width="3" height="8" fill="#62acd8" stroke="#2e6f98"/>
<rect x="718.5" y="478.5" width="3" height="10" fill="#62acd8" stroke="#2e6f98"/>
<rect x="721.5" y="478.5" width="3" height="10" fill="#62acd8" stroke="#2e6f98"/>
<rect x="724.5" y="478.5" width="3" height="9" fill="#62acd8" stroke="#2e6f98"/>
<rect x="727.5" y="478.5" width="3" height="8" fill="#62acd8" stroke="#2e6f98"/>
<rect x="730.5" y="478.5" width="3" height="7" fill="#62acd8" stroke="#2e6f98"/>
<rect x="733.5" y="478.5" width="3" height="5" fill="#62acd8" stroke="#2e6f98"/>
<rect x="736.5" y="478.5" width="3" height="2" fill="#62acd8" stroke="#2e6f98"/>
<rect x="739.5" y="476.5" width="3" height="2" fill="#62acd8" stroke="#2e6f98"/>
<rect x="742.5" y="473.5" width="3" height="5" fill="#62acd8" stroke="#2e6f98"/>
<rect x="745.5" y="473.5" width="3" height="5" fill="#62acd8" stroke="#2e6f98"/>
<rect x="748.5" y="471.5" width="3" height="7" fill="#62acd8" stroke="#2e6f98"/>
<rect x="751.5" y="471.5" width="3" height="7" fill="#62acd8" stroke="#2e6f98"/>
<rect x="754.5" y="471.5" width="3" height="7" fill="#62acd8" stroke="#2e6f98"/>
<rect x="757.5" y="471.5" width="3" height="7" fill="#62acd8" stroke="#2e6f98"/>
<rect x="760.5" y="471.5" width="3" height="7" fill="#62acd8" stroke="#2e6f98"/>
<rect x="763.5" y="472.5" width="3" height="6" fill="#62acd8" stroke="#2e6f98"/>
<rect x="766.5" y="473.5" width="3" height="5" fill="#62acd8" stroke="#2e6f98"/>
<rect x="769.5" y="474.5" width="3" height="4" fill="#62acd8" stroke="#2e6f98"/>
<rect x="772.5" y="474.5" width="3" height="4" fill="#62acd8" stroke="#2e6f98"/>
<rect x="775.5" y="472.5" width="3" height="6" fill="#62acd8" stroke="#2e6f98"/>
<rect x="778.5" y="473.5" width="3" height="5" fill="#62acd8" stroke="#2e6f98"/>
<rect x="781.5" y="474.5" width="3" height="4" fill="#62acd8" stroke="#2e6f98"/>
<rect x="784.5" y="477.5" width="3" height="1" fill="#62acd8" stroke="#2e6f98"/>
<path d="M33.5,465.1 L36.5,464.9 L39.5,464.8 L42.5,464.8 L45.5,464.9 L48.5,465.1 L51.5,465.2 L54.5,465.4 L57.5,465.8 L60.5,466.8 L63.5,468.1 L66.5,469.2 L69.5,470.2 L72.5,470.9 L75.5,472.1 L78.5,473.7 L81.5,475.3 L84.5,476.5 L87.5,477.5 L90.5,478.5 L93.5,479.2 L96.5,479.8 L99.5,480.2 L102.5,480.3 L105.5,479.9 L108.5,479.2 L111.5,478.6 L114.5,478 L117.5,477.4 L120.5,476.9 L123.5,476.1 L126.5,474.9 L128.5,473.6 L131.5,472.3 L134.5,471 L137.5,469.8 L140.5,468.6 L143.5,467.5 L146.5,466.7 L149.5,466.1 L152.5,465.7 L155.5,465.6 L158.5,465.5 L161.5,465.3 L164.5,465.1 L167.5,464.6 L170.5,463.9 L173.5,463.2 L176.5,462.2 L179.5,461.3 L182.5,460.5 L185.5,459.7 L188.5,459.1 L191.5,458.6 L194.5,458.2 L197.5,457.9 L200.5,457.8 L203.5,457.6 L206.5,457.6 L209.5,457.5 L212.5,457.4 L215.5,457.5 L218.5,457.9 L221.5,458.4 L224.5,458.6 L227.5,458.9 L230.5,459.2 L233.5,459.5 L236.5,459.7 L239.5,459.8 L242.5,459.9 L245.5,459.9 L248.5,459.9 L251.5,460.1 L254.5,460.4 L257.5,460.9 L260.5,461.5 L263.5,462.5 L266.5,463.3 L269.5,464.2 L272.5,465 L275.5,465.4 L278.5,465.7 L281.5,465.8 L284.5,465.8 L287.5,465.3 L290.5,464.7 L293.5,463.6 L296.5,462.4 L299.5,461.3 L302.5,460.5 L305.5,460 L308.5,459.6 L311.5,459.1 L314.5,458.5 L317.5,457.7 L320.5,457.1 L322.5,456.7 L325.5,456.2 L328.5,455.4 L331.5,454.7 L334.5,454.2 L337.5,453.7 L340.5,453.5 L343.5,453.4 L346.5,453.5 L349.5,453.7 L352.5,454.2 L355.5,454.5 L358.5,454.5 L361.5,454.2 L364.5,453.4 L367.5,452.3 L370.5,451.1 L373.5,450 L376.5,448.8 L379.5,447.3 L382.5,445.9 L385.5,444.3 L388.5,442.9 L391.5,441.4 L394.5,439.8 L397.5,438 L400.5,436.5 L403.5,435.2 L406.5,433.6 L409.5,432.4 L412.5,432.2 L415.5,432.5 L418.5,433.5 L421.5,435.7 L424.5,440.8 L427.5,446.6 L430.5,452.9 L433.5,460.8 L436.5,468.9 L439.5,475.9 L442.5,481.9 L445.5,486.2 L448.5,488.7 L451.5,490 L454.5,490.5 L457.5,490.9 L460.5,491.1 L463.5,490.3 L466.5,488.4 L469.5,486.6 L472.5,485.2 L475.5,485 L478.5,485.1 L481.5,484.9 L484.5,484.5 L487.5,483.9 L490.5,483 L493.5,481.1 L496.5,478.9 L499.5,476.7 L502.5,475.1 L505.5,473.8 L508.5,472.8 L511.5,472.7 L513.5,473.1 L516.5,473.9 L519.5,476 L522.5,479.8 L525.5,483.2 L528.5,487.1 L531.5,491 L534.5,494.2 L537.5,497.7 L540.5,500.7 L543.5,502.5 L546.5,503.2 L549.5,504.1 L552.5,504.9 L555.5,504.7 L558.5,504.1 L561.5,502.9 L564.5,501.5 L567.5,499.5 L570.5,496.8 L573.5,493.6 L576.5,490.6 L579.5,488.3 L582.5,486.3 L585.5,485.4 L588.5,485 L591.5,484.5 L594.5,483.9 L597.5,483.6 L600.5,483.4 L603.5,483.6 L606.5,484.1 L609.5,484.2 L612.5,483.8 L615.5,483.2 L618.5,482 L621.5,480.1 L624.5,477.7 L627.5,475.2 L630.5,473 L633.5,470.9 L636.5,469.1 L639.5,467.7 L642.5,466.2 L645.5,465.1 L648.5,464 L651.5,463.2 L654.5,462.7 L657.5,463 L660.5,463.2 L663.5,463.8 L666.5,464 L669.5,463.9 L672.5,463.5 L675.5,462.7 L678.5,461.6 L681.5,460.4 L684.5,459.1 L687.5,457.9 L690.5,456.9 L693.5,456 L696.5,455.5 L699.5,455.2 L702.5,455.4 L705.5,455.9 L707.5,456.8 L710.5,458 L713.5,459.9 L716.5,462.1 L719.5,464.8 L722.5,467.4 L725.5,469.9 L728.5,471.9 L731.5,473.9 L734.5,475.3 L737.5,475.9 L740.5,475.6 L743.5,474.5 L746.5,473.4 L749.5,471.9 L752.5,470.2 L755.5,468.5 L758.5,466.8 L761.5,465.1 L764.5,463.6 L767.5,462.5 L770.5,461.6 L773.5,460.7 L776.5,459.4 L779.5,458.2 L782.5,457.4 L785.5,457.3" fill="none" stroke="#ff1616" stroke-width="1.15" stroke-linejoin="round"/>
<path d="M33.5,463.6 L36.5,464.3 L39.5,464.4 L42.5,464.6 L45.5,465.4 L48.5,465.7 L51.5,465.7 L54.5,466.4 L57.5,467.1 L60.5,470.8 L63.5,473.5 L66.5,473.7 L69.5,473.9 L72.5,473.8 L75.5,477 L78.5,479.9 L81.5,481.9 L84.5,481.3 L87.5,481.6 L90.5,482.2 L93.5,482.2 L96.5,482.1 L99.5,481.8 L102.5,480.6 L105.5,478.4 L108.5,476.3 L111.5,476.2 L114.5,475.5 L117.5,475 L120.5,475 L123.5,472.7 L126.5,470.3 L128.5,468.4 L131.5,467.2 L134.5,465.9 L137.5,464.8 L140.5,463.9 L143.5,463.1 L146.5,463.4 L149.5,463.6 L152.5,464.3 L155.5,465.1 L158.5,465 L161.5,464.8 L164.5,464 L167.5,462.7 L170.5,461.4 L173.5,460.3 L176.5,458.4 L179.5,457.4 L182.5,457.2 L185.5,456.8 L188.5,456.4 L191.5,456.6 L194.5,456.8 L197.5,456.9 L200.5,457 L203.5,457.2 L206.5,457.5 L209.5,456.8 L212.5,457.4 L215.5,457.8 L218.5,459.3 L221.5,460.4 L224.5,459.7 L227.5,460.1 L230.5,460.4 L233.5,460.4 L236.5,460.7 L239.5,460.3 L242.5,460 L245.5,460 L248.5,459.9 L251.5,460.8 L254.5,461.9 L257.5,462.7 L260.5,464.1 L263.5,466.4 L266.5,466.7 L269.5,467.5 L272.5,468.1 L275.5,467.2 L278.5,466.7 L281.5,466.1 L284.5,465.8 L287.5,463.5 L290.5,462 L293.5,459.2 L296.5,457.7 L299.5,456.9 L302.5,457.4 L305.5,458 L308.5,458.1 L311.5,457.1 L314.5,455.9 L317.5,454.8 L320.5,454.4 L322.5,455.2 L325.5,454.1 L328.5,452.3 L331.5,451.9 L334.5,452.1 L337.5,452 L340.5,452.4 L343.5,453.2 L346.5,454 L349.5,454.4 L352.5,456.2 L355.5,455.9 L358.5,454.6 L361.5,452.8 L364.5,450.1 L367.5,448 L370.5,446.3 L373.5,445.6 L376.5,443.8 L379.5,441.2 L382.5,440.4 L385.5,438 L388.5,437 L391.5,435.6 L394.5,433.1 L397.5,431.1 L400.5,430.3 L403.5,430 L406.5,427.5 L409.5,427.7 L412.5,431 L415.5,434.1 L418.5,437.1 L421.5,444.9 L424.5,460.9 L427.5,469.8 L430.5,478 L433.5,492.8 L436.5,501 L439.5,504.1 L442.5,505.6 L445.5,503.5 L448.5,498.9 L451.5,494.9 L454.5,492.9 L457.5,492.4 L460.5,491.7 L463.5,487.3 L466.5,481 L469.5,479 L472.5,480 L475.5,483.8 L478.5,485.5 L481.5,484.3 L484.5,482.7 L487.5,481.4 L490.5,479.4 L493.5,473.8 L496.5,469.8 L499.5,468.2 L502.5,468.4 L505.5,468.8 L508.5,468.8 L511.5,472.2 L513.5,474.6 L516.5,477 L519.5,484.5 L522.5,495 L525.5,497.1 L528.5,502.4 L531.5,506.9 L534.5,507.1 L537.5,511.8 L540.5,512.4 L543.5,509.9 L546.5,506.1 L549.5,507.7 L552.5,507.9 L555.5,504 L558.5,501.9 L561.5,498.1 L564.5,495.6 L567.5,491.6 L570.5,485.9 L573.5,481.1 L576.5,478.7 L579.5,478.7 L582.5,478.6 L585.5,481.6 L588.5,483.5 L591.5,482.5 L594.5,481.5 L597.5,482.5 L600.5,482.7 L603.5,484.3 L606.5,486 L609.5,484.5 L612.5,482.4 L615.5,480.8 L618.5,477.3 L621.5,472.4 L624.5,468.3 L627.5,465 L630.5,464.1 L633.5,462.6 L636.5,461.8 L639.5,462 L642.5,460.6 L645.5,460.4 L648.5,459.7 L651.5,459.9 L654.5,460.7 L657.5,464.2 L660.5,464.2 L663.5,466 L666.5,465 L669.5,463.4 L672.5,462.1 L675.5,459.3 L678.5,457.5 L681.5,455.5 L684.5,454 L687.5,452.7 L690.5,452.9 L693.5,452.8 L696.5,453.2 L699.5,454.2 L702.5,456.3 L705.5,457.8 L707.5,460.6 L710.5,462.6 L713.5,467.5 L716.5,470.9 L719.5,475.6 L722.5,478 L725.5,479.6 L728.5,480.2 L731.5,481.8 L734.5,481 L737.5,478.4 L740.5,474.3 L743.5,470.3 L746.5,468.9 L749.5,465.9 L752.5,463.4 L755.5,461.9 L758.5,459.9 L761.5,458.1 L764.5,457.8 L767.5,458 L770.5,458 L773.5,457 L776.5,454.4 L779.5,453.3 L782.5,454.3 L785.5,456.7" fill="none" stroke="#000" stroke-width="1.9" stroke-linejoin="round"/>
<rect x="34" y="421" width="229" height="12" fill="#fff"/>
<line x1="35" y1="427.5" x2="43" y2="427.5" stroke="#000" stroke-width="2.2"/>
<text x="47.8" y="431" font-family='"Liberation Sans", sans-serif' font-size="10.6" stroke="#000" stroke-width="0.3" textLength="213.5" lengthAdjust="spacing">MACD(12,26,9) 19.837<tspan fill="#ff1616" stroke="#ff1616">, 19.279</tspan><tspan fill="#3a96cc" stroke="#3a96cc">, 0.558</tspan></text>
<text x="812" y="437.7" font-family='"Liberation Sans", sans-serif' font-size="8.9" stroke="#000" stroke-width="0.3" textLength="11.8" lengthAdjust="spacingAndGlyphs">40</text>
<text x="809.5" y="500.7" font-family='"Liberation Sans", sans-serif' font-size="8.9" stroke="#000" stroke-width="0.3" textLength="15" lengthAdjust="spacingAndGlyphs">-20</text>
<path d="M805,457.9 L809.5,453.3 L843,453.3 L843,462.5 L809.5,462.5 Z" fill="#fff" stroke="#ff1616" stroke-width="1.1"/>
<text x="810.5" y="461.2" font-family='"Liberation Sans", sans-serif' font-size="8.9" stroke="#000" stroke-width="0.3" textLength="31" lengthAdjust="spacingAndGlyphs">19.279</text>
<path d="M805,456 L809.5,451.4 L843,451.4 L843,460.6 L809.5,460.6 Z" fill="#fff" stroke="#000" stroke-width="1.1"/>
<text x="810.5" y="459.3" font-family='"Liberation Sans", sans-serif' font-size="8.9" stroke="#000" stroke-width="0.3" textLength="31" lengthAdjust="spacingAndGlyphs">19.837</text>
<path d="M805,475.7 L809.5,471.1 L837,471.1 L837,480.3 L809.5,480.3 Z" fill="#fff" stroke="#3a80c0" stroke-width="1.1"/>
<text x="810.5" y="479" font-family='"Liberation Sans", sans-serif' font-size="8.9" stroke="#000" stroke-width="0.3" textLength="25" lengthAdjust="spacingAndGlyphs">0.558</text>
<line x1="32.5" y1="534.5" x2="806.5" y2="534.5" stroke="#e4e4e4"/>
<line x1="32.5" y1="551.5" x2="806.5" y2="551.5" stroke="#e4e4e4"/>
<line x1="32.5" y1="568.5" x2="806.5" y2="568.5" stroke="#e4e4e4"/>
<line x1="32.5" y1="585.5" x2="806.5" y2="585.5" stroke="#e4e4e4"/>
<line x1="32.5" y1="602.5" x2="806.5" y2="602.5" stroke="#e4e4e4"/>
<line x1="39.5" y1="518.5" x2="39.5" y2="616.5" stroke="#e4e4e4"/>
<line x1="108.5" y1="518.5" x2="108.5" y2="616.5" stroke="#e4e4e4"/>
<line x1="167.5" y1="518.5" x2="167.5" y2="616.5" stroke="#e4e4e4"/>
<line x1="233.5" y1="518.5" x2="233.5" y2="616.5" stroke="#e4e4e4"/>
<line x1="296.5" y1="518.5" x2="296.5" y2="616.5" stroke="#e4e4e4"/>
<line x1="355.5" y1="518.5" x2="355.5" y2="616.5" stroke="#c8c8c8"/>
<line x1="418.5" y1="518.5" x2="418.5" y2="616.5" stroke="#e4e4e4"/>
<line x1="475.5" y1="518.5" x2="475.5" y2="616.5" stroke="#e4e4e4"/>
<line x1="537.5" y1="518.5" x2="537.5" y2="616.5" stroke="#e4e4e4"/>
<line x1="600.5" y1="518.5" x2="600.5" y2="616.5" stroke="#e4e4e4"/>
<line x1="666.5" y1="518.5" x2="666.5" y2="616.5" stroke="#e4e4e4"/>
<line x1="728.5" y1="518.5" x2="728.5" y2="616.5" stroke="#e4e4e4"/>
<line x1="791.5" y1="518.5" x2="791.5" y2="616.5" stroke="#e4e4e4"/>
<rect x="32.5" y="518.5" width="774.0" height="98.0" fill="none" stroke="#b4b4b4"/>
<path d="M806,526.5 h2.5 M806,529.5 h2.5 M806,533.5 h2.5 M806,536.5 h2.5 M806,540.5 h2.5 M806,543.5 h2.5 M806,546.5 h2.5 M806,550.5 h2.5 M806,553.5 h2.5 M806,557.5 h2.5 M806,560.5 h2.5 M806,563.5 h2.5 M806,567.5 h2.5 M806,570.5 h2.5 M806,574.5 h2.5 M806,577.5 h2.5 M806,580.5 h2.5 M806,584.5 h2.5 M806,587.5 h2.5 M806,591.5 h2.5 M806,594.5 h2.5 M806,597.5 h2.5 M806,601.5 h2.5 M806,604.5 h2.5 M806,608.5 h2.5 M806,611.5 h2.5 M806,614.5 h2.5 " stroke="#b4b4b4"/>
<clipPath id="ac"><rect x="33" y="519" width="773" height="97"/></clipPath><g clip-path="url(#ac)">
<path d="M30,577.9 L32.8,577.3 L36.6,574.1 L41.3,577.9 L46,581.1 L50.7,579.2 L54.5,574.5 L58.2,579.2 L62.9,586.7 L66.7,574.5 L70.5,574.5 L73.3,572.6 L76.1,581.1 L80.8,586.1 L84.6,572.6 L90.2,577.3 L94,577.9 L99.6,582.9 L104.4,570.7 L108.1,567.3 L110.9,572.6 L115.6,576.4 L121.3,579.2 L126,564.1 L131.6,566 L137.3,561.3 L142.9,566 L150.5,572.6 L154.2,576.4 L158,572.6 L161.8,573.5 L168.4,560.4 L173.1,554.7 L176.4,548.1 L180.6,553.8 L184.4,554.7 L185.6,554.7 L190,559.8 L191.3,559.8 L198.8,562.2 L203.5,559.4 L206.4,564.7 L209.2,555.6 L213.9,561.3 L219.5,573.5 L224.2,566 L228.9,569.8 L233.6,565.4 L236.5,569.8 L244,563.2 L247.8,565.1 L252.5,576.4 L258.1,578.2 L263.8,585.8 L266.6,575.4 L272.2,578.2 L275.1,567.9 L279.8,568.8 L284.5,567.9 L288.2,556.6 L290.1,554.7 L293.3,545.9 L296.7,558.5 L299.5,556.6 L305.2,563.2 L309.9,561.3 L318.4,549.6 L323.1,556.6 L328.7,549.6 L334.4,557.5 L337.5,560.4 L340,562.6 L343.2,563.2 L348.8,562.6 L354.5,569.8 L359.2,555.6 L363.9,547.2 L368.6,544.4 L373.3,547.2 L379.9,532.1 L382.7,532.1 L386.5,544.4 L391.2,547.2 L396.8,536.8 L399.6,537.8 L403.4,544.4 L406.2,538.3 L410.9,550.9 L418.5,565.1 L424.1,587.6 L427.9,593.3 L430.7,587.6 L436.4,597.1 L440.1,589.5 L442.9,590.5 L450.5,575.4 L459.9,580.1 L463.6,578.2 L466.5,571.6 L471.2,576.4 L478.7,584.8 L482.5,580.1 L483.8,580.1 L486.2,582 L488.5,582 L490,580.1 L491.3,578.2 L496,568.4 L502.6,574.5 L508.2,578.2 L512.9,582 L516.7,580.5 L520.5,587.3 L525.2,592.4 L530.8,593.3 L534.6,589.5 L540.2,594.2 L545.9,585.8 L552.5,591.4 L555.3,590.5 L559.1,591.4 L562.8,589.2 L566.6,590.5 L571.3,584.3 L576,585.8 L581.6,589.2 L588.2,594.2 L592,586.7 L600.5,591.4 L606.1,593.3 L609.9,584.8 L613.6,582 L615.5,583.9 L620.2,572.6 L626.8,569.2 L630.6,572.6 L633.6,570.7 L639.7,572.6 L642.2,567.3 L647.9,572.6 L652.6,577.3 L657.3,582 L660.1,577.3 L663.9,580.1 L668.6,573.5 L672.4,573 L675.2,567.9 L678,566.6 L681.8,569.2 L684.6,565.4 L690.2,569.8 L695.9,575.4 L702.5,582 L709.1,583.9 L713.8,589.5 L722.2,596.1 L725.1,589.5 L728.8,590.5 L733.5,589.2 L738.2,576.4 L742.9,570.7 L747.6,572.6 L752.4,569.2 L756.1,571.6 L759.9,569.2 L765.5,573 L770.2,576 L773.1,566 L776.8,562.2 L780.6,564.7 L785.3,574.1" fill="none" stroke="#23803e" stroke-width="1.15" stroke-linejoin="round"/>
<path d="M30,577.9 L32.8,578.2 L39.4,581.1 L48.8,583.9 L54.5,589.2 L60.1,569.2 L63.9,571.6 L67.6,577.3 L72.4,581.1 L75.2,562.2 L78.9,560.4 L82.7,563.2 L86.5,568.8 L90.2,569.8 L94,572.6 L98.7,568.4 L103.4,574.5 L108.1,577.3 L110.9,563.2 L116.6,566.9 L121.3,569.8 L124.1,575.4 L135.4,580.1 L141.1,582.9 L143.9,579.2 L147.6,581.1 L152.4,575.4 L158,581.1 L165.5,586.7 L174.9,592.4 L182.5,596.7 L190,598.9 L191.3,598.9 L202.6,602.3 L206.4,589.5 L210.1,592.4 L214.8,592.4 L218.6,574.1 L225.2,582.9 L233.6,589.2 L236.5,582.9 L248.7,591.4 L251.5,578.6 L257.2,583.5 L262.8,575.4 L267.5,582 L274.1,587.3 L283.5,589.9 L292.9,599.9 L295.8,583.9 L299.5,587.6 L305.2,582 L311.8,585.8 L320.2,589.9 L323.1,583.9 L328.7,590.5 L334.4,587.3 L339.7,586.7 L348.8,589.2 L352.6,584.3 L358.2,589.5 L363.9,594.2 L370.5,597.1 L373.3,589.2 L379.9,594.2 L386.5,601.8 L395.9,605 L406.2,609.3 L409.1,609.3 L411.9,591.4 L417.5,593.3 L422.2,558.5 L425.1,536.8 L430.7,547.2 L433.5,531.2 L437.3,534 L442.9,544.4 L449.5,556.6 L454.2,555.6 L461.8,564.1 L469.3,569.8 L475.9,557.5 L482.5,565.1 L484.7,565.1 L489.7,566.6 L495.1,572.6 L502.6,568.4 L508.2,571.6 L511.1,558.5 L515.8,563.2 L522.4,541.5 L528,558.5 L534.6,567.3 L537.4,560.4 L545.9,571.6 L549.6,561.7 L555.3,568.8 L559.1,572.6 L566.6,574.5 L573.2,579.2 L577.9,572.6 L584.5,565.4 L594.8,572.6 L600.5,567.3 L603.3,569.8 L606.1,562.2 L609.9,568.8 L615.5,569.8 L625.9,577.3 L630.6,571.6 L635.9,575.1 L640,575.4 L642.2,578.2 L647.9,576.7 L654.5,579.7 L657.3,567.3 L662,574.1 L667.6,578.6 L677.1,584.3 L686.5,587.3 L692.1,589.2 L696.8,582.9 L702.5,581.1 L707.2,573.5 L710.9,574.5 L713.8,555.6 L720.4,560.4 L726,565.1 L727.9,560.4 L735.4,568.8 L742.9,577.3 L744.8,573.5 L752.4,577.3 L761.8,583.5 L765.5,581.1 L771.2,582 L778.7,589.5 L782.5,576.4 L785.3,575.4" fill="none" stroke="#ac1a4a" stroke-width="1.15" stroke-linejoin="round"/>
<path d="M30,596.7 C30.5,596.7 31.3,596.5 32.8,597.1 C34.4,597.6 36.7,599 39.4,599.9 C42.1,600.8 46.3,602.2 48.8,602.3 C51.3,602.5 52,601.3 54.5,600.8 C57,600.3 61.2,599.3 63.9,599.3 C66.5,599.4 68.6,601.1 70.5,601.2 C72.4,601.3 73.5,600.7 75.2,599.9 C76.9,599 78.9,596.4 80.8,596.1 C82.7,595.8 84.3,597.5 86.5,598 C88.7,598.5 91.2,599.1 94,599.3 C96.8,599.5 101.2,599.2 103.4,599.3 C105.6,599.5 103.1,600.1 107.2,600.3 C111.3,600.4 123.2,600.5 127.9,600.3 C132.6,600 133.2,599.3 135.4,598.6 C137.6,597.8 139.2,596.1 141.1,595.7 C142.9,595.3 144.5,595.4 146.7,596.1 C148.9,596.8 151.7,599.3 154.2,599.9 C156.7,600.5 159.6,600.5 161.8,599.9 C164,599.3 165.2,598 167.4,596.1 C169.6,594.2 172.4,591.4 174.9,588.6 C177.5,585.8 180.4,581.5 182.5,579.2 C184.6,576.8 186.3,575.6 187.5,574.5 C188.8,573.4 188.7,573.8 190,572.6 C191.3,571.3 192.8,568.9 195.1,566.9 C197.3,565 200.2,562 203.5,560.9 C206.8,559.8 211.8,559.2 214.8,560.4 C217.8,561.5 218.7,565.9 221.4,567.9 C224.1,569.9 227.7,571.2 230.8,572.2 C234,573.2 237.6,573.9 240.2,574.1 C242.9,574.3 244.3,572.7 246.8,573.5 C249.3,574.4 252.3,577.5 255.3,579.2 C258.3,580.9 261.9,582.4 264.7,583.9 C267.5,585.4 269.4,587.7 272.2,588 C275.1,588.3 279.1,586.8 281.6,585.8 C284.2,584.8 285.1,583.9 287.3,582 C289.5,580.1 292.6,575.4 294.8,574.1 C297,572.8 298,573.9 300.5,574.1 C303,574.3 306.7,575.8 309.9,575.4 C313,575 315.8,573 319.3,571.6 C322.7,570.3 327.2,568 330.6,567.3 C334,566.6 336.7,567.1 339.7,567.3 C342.7,567.5 346.2,567.9 348.8,568.4 C351.4,568.9 353.5,570.3 355.4,570.3 C357.3,570.3 357.8,570.1 360.1,568.4 C362.5,566.8 366.2,562.6 369.5,560.4 C372.8,558.1 376.4,557.1 379.9,554.7 C383.3,552.3 386.6,549.2 390.2,545.9 C393.8,542.6 398.4,538.3 401.5,534.9 C404.7,531.6 406.5,526.3 409.1,525.5 C411.6,524.7 414.4,528.3 416.6,530.2 C418.8,532.2 419.7,536 422.2,537.4 C424.7,538.7 429,538.6 431.6,538.3 C434.3,538.1 436,536 438.2,535.9 C440.4,535.8 442.2,536 444.8,537.8 C447.5,539.5 451.1,543.3 454.2,546.2 C457.4,549.2 460.8,552.4 463.6,555.6 C466.5,558.9 468.7,564 471.2,566 C473.7,568 475.6,566.7 478.7,567.9 C481.8,569.1 486.4,570.9 489.7,573.1 C493.1,575.3 495.7,578.9 498.8,581.1 C501.9,583.2 505.3,585.5 508.2,586.1 C511.2,586.8 513.6,586.5 516.7,584.8 C519.8,583.2 523.1,578.5 527.1,576.4 C531,574.3 536.8,572.7 540.2,572.2 C543.7,571.7 545.3,573.5 547.8,573.5 C550.3,573.5 552.8,572.2 555.3,572.2 C557.8,572.2 560.3,572.7 562.8,573.5 C565.3,574.4 568.2,576.2 570.4,577.3 C572.5,578.4 573.8,579.6 576,580.1 C578.2,580.6 581.3,580.5 583.5,580.1 C585.7,579.7 586.8,578.1 589.2,577.9 C591.5,577.6 594.8,578.9 597.6,578.6 C600.5,578.4 603.1,576.3 606.1,576.4 C609.1,576.4 612.1,577.6 615.5,579.2 C619,580.7 623.1,583.5 626.8,585.8 C630.5,588 634.8,591.4 637.8,592.8 C640.9,594.2 642.3,593.3 645.1,594.2 C647.8,595.2 652.3,598 654.5,598.6 C656.7,599.1 655.7,597 658.2,597.4 C660.7,597.9 666.4,601.1 669.5,601.4 C672.7,601.7 674.5,600.3 677.1,599.3 C679.6,598.3 682.1,596.6 684.6,595.6 C687.1,594.5 689.8,593.6 692.1,593.3 C694.5,593 696.5,593 698.7,593.7 C700.9,594.3 703.3,596.5 705.3,597.1 C707.3,597.6 708.9,598 710.9,597.1 C713,596.1 715.5,593.4 717.5,591.4 C719.6,589.5 720.7,587 723.2,585.4 C725.7,583.8 730.4,582.1 732.6,581.6 C734.8,581.1 734.6,581.6 736.4,582.4 C738.1,583.1 740.6,584.8 742.9,586.1 C745.3,587.5 748,589.4 750.5,590.5 C753,591.5 755.8,592 758,592.4 C760.2,592.7 761.6,592 763.6,592.4 C765.7,592.7 767.7,594.6 770.2,594.2 C772.7,593.9 776.2,590.3 778.7,590.1 C781.2,589.9 784.2,592.8 785.3,593.3" fill="none" stroke="#000" stroke-width="1.9" stroke-linejoin="round"/>
</g>
<rect x="34" y="519" width="215" height="12" fill="#fff"/>
<line x1="35" y1="525.5" x2="43" y2="525.5" stroke="#000" stroke-width="2.2"/>
<text x="47" y="529" font-family='"Liberation Sans", sans-serif' font-size="10.6" stroke="#000" stroke-width="0.3" textLength="200.5" lengthAdjust="spacing">ADX(14) 15.30 <tspan fill="#1e7a34" stroke="#1e7a34">+DI 26.49</tspan> <tspan fill="#a0143e" stroke="#a0143e">-DI 25.91</tspan></text>
<text x="809.8" y="536.7" font-family='"Liberation Sans", sans-serif' font-size="8.9" stroke="#000" stroke-width="0.3" textLength="11.8" lengthAdjust="spacingAndGlyphs">50</text>
<text x="809.8" y="553.7" font-family='"Liberation Sans", sans-serif' font-size="8.9" stroke="#000" stroke-width="0.3" textLength="11.8" lengthAdjust="spacingAndGlyphs">40</text>
<text x="809.8" y="570.7" font-family='"Liberation Sans", sans-serif' font-size="8.9" stroke="#000" stroke-width="0.3" textLength="11.8" lengthAdjust="spacingAndGlyphs">30</text>
<text x="809.8" y="587.7" font-family='"Liberation Sans", sans-serif' font-size="8.9" stroke="#000" stroke-width="0.3" textLength="11.8" lengthAdjust="spacingAndGlyphs">20</text>
<text x="809.8" y="604.7" font-family='"Liberation Sans", sans-serif' font-size="8.9" stroke="#000" stroke-width="0.3" textLength="11.8" lengthAdjust="spacingAndGlyphs">10</text>
<path d="M805,572.5 L809.5,567.9 L838,567.9 L838,577.1 L809.5,577.1 Z" fill="#fff" stroke="#23803e" stroke-width="1.1"/>
<text x="810.5" y="575.8" font-family='"Liberation Sans", sans-serif' font-size="8.9" stroke="#000" stroke-width="0.3" textLength="26" lengthAdjust="spacingAndGlyphs">26.49</text>
<path d="M805,574.3 L809.5,569.7 L838,569.7 L838,578.9 L809.5,578.9 Z" fill="#fff" stroke="#ac1a4a" stroke-width="1.1"/>
<text x="810.5" y="577.6" font-family='"Liberation Sans", sans-serif' font-size="8.9" stroke="#000" stroke-width="0.3" textLength="26" lengthAdjust="spacingAndGlyphs">25.91</text>
<path d="M805,592.4 L809.5,587.8 L838,587.8 L838,597 L809.5,597 Z" fill="#fff" stroke="#000" stroke-width="1.1"/>
<text x="810.5" y="595.7" font-family='"Liberation Sans", sans-serif' font-size="8.9" stroke="#000" stroke-width="0.3" textLength="26" lengthAdjust="spacingAndGlyphs">15.30</text>
<text x="39.5" y="626.5" font-family='"Liberation Sans", sans-serif' font-size="9.2" stroke="#000" stroke-width="0.3" text-anchor="middle" textLength="17.5" lengthAdjust="spacingAndGlyphs">Aug</text>
<text x="108.5" y="626.5" font-family='"Liberation Sans", sans-serif' font-size="9.2" stroke="#000" stroke-width="0.3" text-anchor="middle" textLength="17.5" lengthAdjust="spacingAndGlyphs">Sep</text>
<text x="167.5" y="626.5" font-family='"Liberation Sans", sans-serif' font-size="9.2" stroke="#000" stroke-width="0.3" text-anchor="middle" textLength="17.5" lengthAdjust="spacingAndGlyphs">Oct</text>
<text x="233.5" y="626.5" font-family='"Liberation Sans", sans-serif' font-size="9.2" stroke="#000" stroke-width="0.3" text-anchor="middle" textLength="17.5" lengthAdjust="spacingAndGlyphs">Nov</text>
<text x="296.5" y="626.5" font-family='"Liberation Sans", sans-serif' font-size="9.2" stroke="#000" stroke-width="0.3" text-anchor="middle" textLength="17.5" lengthAdjust="spacingAndGlyphs">Dec</text>
<text x="355.5" y="626.5" font-family='"Liberation Sans", sans-serif' font-size="10" font-weight="bold" text-anchor="middle" textLength="22" lengthAdjust="spacingAndGlyphs">2018</text>
<text x="418.5" y="626.5" font-family='"Liberation Sans", sans-serif' font-size="9.2" stroke="#000" stroke-width="0.3" text-anchor="middle" textLength="17.5" lengthAdjust="spacingAndGlyphs">Feb</text>
<text x="475.5" y="626.5" font-family='"Liberation Sans", sans-serif' font-size="9.2" stroke="#000" stroke-width="0.3" text-anchor="middle" textLength="17.5" lengthAdjust="spacingAndGlyphs">Mar</text>
<text x="537.5" y="626.5" font-family='"Liberation Sans", sans-serif' font-size="9.2" stroke="#000" stroke-width="0.3" text-anchor="middle" textLength="17.5" lengthAdjust="spacingAndGlyphs">Apr</text>
<text x="600.5" y="626.5" font-family='"Liberation Sans", sans-serif' font-size="9.2" stroke="#000" stroke-width="0.3" text-anchor="middle" textLength="17.5" lengthAdjust="spacingAndGlyphs">May</text>
<text x="666.5" y="626.5" font-family='"Liberation Sans", sans-serif' font-size="9.2" stroke="#000" stroke-width="0.3" text-anchor="middle" textLength="17.5" lengthAdjust="spacingAndGlyphs">Jun</text>
<text x="728.5" y="626.5" font-family='"Liberation Sans", sans-serif' font-size="9.2" stroke="#000" stroke-width="0.3" text-anchor="middle" textLength="17.5" lengthAdjust="spacingAndGlyphs">Jul</text>
<text x="791.5" y="626.5" font-family='"Liberation Sans", sans-serif' font-size="9.2" stroke="#000" stroke-width="0.3" text-anchor="middle" textLength="17.5" lengthAdjust="spacingAndGlyphs">Aug</text>
<path d="M33.5,616.5 v1.5 M36.5,616.5 v1.5 M39.5,616.5 v1.5 M42.5,616.5 v1.5 M45.5,616.5 v1.5 M48.5,616.5 v1.5 M51.5,616.5 v1.5 M54.5,616.5 v1.5 M57.5,616.5 v1.5 M60.5,616.5 v1.5 M63.5,616.5 v1.5 M66.5,616.5 v1.5 M69.5,616.5 v1.5 M72.5,616.5 v1.5 M75.5,616.5 v1.5 M78.5,616.5 v1.5 M81.5,616.5 v1.5 M84.5,616.5 v1.5 M87.5,616.5 v1.5 M90.5,616.5 v1.5 M93.5,616.5 v1.5 M96.5,616.5 v1.5 M99.5,616.5 v1.5 M102.5,616.5 v1.5 M105.5,616.5 v1.5 M108.5,616.5 v1.5 M111.5,616.5 v1.5 M114.5,616.5 v1.5 M117.5,616.5 v1.5 M120.5,616.5 v1.5 M123.5,616.5 v1.5 M126.5,616.5 v1.5 M128.5,616.5 v1.5 M131.5,616.5 v1.5 M134.5,616.5 v1.5 M137.5,616.5 v1.5 M140.5,616.5 v1.5 M143.5,616.5 v1.5 M146.5,616.5 v1.5 M149.5,616.5 v1.5 M152.5,616.5 v1.5 M155.5,616.5 v1.5 M158.5,616.5 v1.5 M161.5,616.5 v1.5 M164.5,616.5 v1.5 M167.5,616.5 v1.5 M170.5,616.5 v1.5 M173.5,616.5 v1.5 M176.5,616.5 v1.5 M179.5,616.5 v1.5 M182.5,616.5 v1.5 M185.5,616.5 v1.5 M188.5,616.5 v1.5 M191.5,616.5 v1.5 M194.5,616.5 v1.5 M197.5,616.5 v1.5 M200.5,616.5 v1.5 M203.5,616.5 v1.5 M206.5,616.5 v1.5 M209.5,616.5 v1.5 M212.5,616.5 v1.5 M215.5,616.5 v1.5 M218.5,616.5 v1.5 M221.5,616.5 v1.5 M224.5,616.5 v1.5 M227.5,616.5 v1.5 M230.5,616.5 v1.5 M233.5,616.5 v1.5 M236.5,616.5 v1.5 M239.5,616.5 v1.5 M242.5,616.5 v1.5 M245.5,616.5 v1.5 M248.5,616.5 v1.5 M251.5,616.5 v1.5 M254.5,616.5 v1.5 M257.5,616.5 v1.5 M260.5,616.5 v1.5 M263.5,616.5 v1.5 M266.5,616.5 v1.5 M269.5,616.5 v1.5 M272.5,616.5 v1.5 M275.5,616.5 v1.5 M278.5,616.5 v1.5 M281.5,616.5 v1.5 M284.5,616.5 v1.5 M287.5,616.5 v1.5 M290.5,616.5 v1.5 M293.5,616.5 v1.5 M296.5,616.5 v1.5 M299.5,616.5 v1.5 M302.5,616.5 v1.5 M305.5,616.5 v1.5 M308.5,616.5 v1.5 M311.5,616.5 v1.5 M314.5,616.5 v1.5 M317.5,616.5 v1.5 M320.5,616.5 v1.5 M322.5,616.5 v1.5 M325.5,616.5 v1.5 M328.5,616.5 v1.5 M331.5,616.5 v1.5 M334.5,616.5 v1.5 M337.5,616.5 v1.5 M340.5,616.5 v1.5 M343.5,616.5 v1.5 M346.5,616.5 v1.5 M349.5,616.5 v1.5 M352.5,616.5 v1.5 M355.5,616.5 v1.5 M358.5,616.5 v1.5 M361.5,616.5 v1.5 M364.5,616.5 v1.5 M367.5,616.5 v1.5 M370.5,616.5 v1.5 M373.5,616.5 v1.5 M376.5,616.5 v1.5 M379.5,616.5 v1.5 M382.5,616.5 v1.5 M385.5,616.5 v1.5 M388.5,616.5 v1.5 M391.5,616.5 v1.5 M394.5,616.5 v1.5 M397.5,616.5 v1.5 M400.5,616.5 v1.5 M403.5,616.5 v1.5 M406.5,616.5 v1.5 M409.5,616.5 v1.5 M412.5,616.5 v1.5 M415.5,616.5 v1.5 M418.5,616.5 v1.5 M421.5,616.5 v1.5 M424.5,616.5 v1.5 M427.5,616.5 v1.5 M430.5,616.5 v1.5 M433.5,616.5 v1.5 M436.5,616.5 v1.5 M439.5,616.5 v1.5 M442.5,616.5 v1.5 M445.5,616.5 v1.5 M448.5,616.5 v1.5 M451.5,616.5 v1.5 M454.5,616.5 v1.5 M457.5,616.5 v1.5 M460.5,616.5 v1.5 M463.5,616.5 v1.5 M466.5,616.5 v1.5 M469.5,616.5 v1.5 M472.5,616.5 v1.5 M475.5,616.5 v1.5 M478.5,616.5 v1.5 M481.5,616.5 v1.5 M484.5,616.5 v1.5 M487.5,616.5 v1.5 M490.5,616.5 v1.5 M493.5,616.5 v1.5 M496.5,616.5 v1.5 M499.5,616.5 v1.5 M502.5,616.5 v1.5 M505.5,616.5 v1.5 M508.5,616.5 v1.5 M511.5,616.5 v1.5 M513.5,616.5 v1.5 M516.5,616.5 v1.5 M519.5,616.5 v1.5 M522.5,616.5 v1.5 M525.5,616.5 v1.5 M528.5,616.5 v1.5 M531.5,616.5 v1.5 M534.5,616.5 v1.5 M537.5,616.5 v1.5 M540.5,616.5 v1.5 M543.5,616.5 v1.5 M546.5,616.5 v1.5 M549.5,616.5 v1.5 M552.5,616.5 v1.5 M555.5,616.5 v1.5 M558.5,616.5 v1.5 M561.5,616.5 v1.5 M564.5,616.5 v1.5 M567.5,616.5 v1.5 M570.5,616.5 v1.5 M573.5,616.5 v1.5 M576.5,616.5 v1.5 M579.5,616.5 v1.5 M582.5,616.5 v1.5 M585.5,616.5 v1.5 M588.5,616.5 v1.5 M591.5,616.5 v1.5 M594.5,616.5 v1.5 M597.5,616.5 v1.5 M600.5,616.5 v1.5 M603.5,616.5 v1.5 M606.5,616.5 v1.5 M609.5,616.5 v1.5 M612.5,616.5 v1.5 M615.5,616.5 v1.5 M618.5,616.5 v1.5 M621.5,616.5 v1.5 M624.5,616.5 v1.5 M627.5,616.5 v1.5 M630.5,616.5 v1.5 M633.5,616.5 v1.5 M636.5,616.5 v1.5 M639.5,616.5 v1.5 M642.5,616.5 v1.5 M645.5,616.5 v1.5 M648.5,616.5 v1.5 M651.5,616.5 v1.5 M654.5,616.5 v1.5 M657.5,616.5 v1.5 M660.5,616.5 v1.5 M663.5,616.5 v1.5 M666.5,616.5 v1.5 M669.5,616.5 v1.5 M672.5,616.5 v1.5 M675.5,616.5 v1.5 M678.5,616.5 v1.5 M681.5,616.5 v1.5 M684.5,616.5 v1.5 M687.5,616.5 v1.5 M690.5,616.5 v1.5 M693.5,616.5 v1.5 M696.5,616.5 v1.5 M699.5,616.5 v1.5 M702.5,616.5 v1.5 M705.5,616.5 v1.5 M707.5,616.5 v1.5 M710.5,616.5 v1.5 M713.5,616.5 v1.5 M716.5,616.5 v1.5 M719.5,616.5 v1.5 M722.5,616.5 v1.5 M725.5,616.5 v1.5 M728.5,616.5 v1.5 M731.5,616.5 v1.5 M734.5,616.5 v1.5 M737.5,616.5 v1.5 M740.5,616.5 v1.5 M743.5,616.5 v1.5 M746.5,616.5 v1.5 M749.5,616.5 v1.5 M752.5,616.5 v1.5 M755.5,616.5 v1.5 M758.5,616.5 v1.5 M761.5,616.5 v1.5 M764.5,616.5 v1.5 M767.5,616.5 v1.5 M770.5,616.5 v1.5 M773.5,616.5 v1.5 M776.5,616.5 v1.5 M779.5,616.5 v1.5 M782.5,616.5 v1.5 M785.5,616.5 v1.5 " stroke="#c8c8c8"/></svg></body></html>
